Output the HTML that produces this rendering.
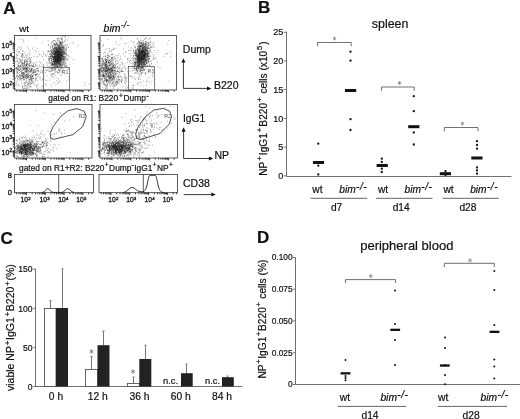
<!DOCTYPE html>
<html><head><meta charset="utf-8"><title>Figure</title>
<style>
html,body{margin:0;padding:0;background:#fff;}
body{width:520px;height:419px;overflow:hidden;font-family:"Liberation Sans",sans-serif;}
svg{display:block;will-change:transform;font-family:"Liberation Sans",sans-serif;}
text{fill:#111;stroke:#111;stroke-width:0.2px;}
</style></head><body>
<svg width="520" height="419" viewBox="0 0 520 419">
<rect width="520" height="419" fill="#fff"/>

<g id="panelA">
<text x="3.2" y="14.2" font-size="17" font-weight="bold">A</text>
<text x="19.3" y="31.6" font-size="9.8">wt</text>
<text x="103.6" y="31.6" font-size="10.5" font-style="italic">bim<tspan dy="-3.4" dx="0.3" font-size="8.6" letter-spacing="0.2">-/-</tspan></text>
<path d="M56.7 59.6h0.7M56.8 54.3h0.7M54.3 55.8h0.7M61.5 57.3h0.7M61.2 56.2h0.7M59 56.7h0.7M51.8 63.7h0.7M59.4 58.6h0.7M51.7 47h0.7M54.5 54.1h0.7M58.7 55.3h0.7M59.4 51.2h0.7M58.7 58.1h0.7M55.3 68h0.7M59.5 63h0.7M55.4 52h0.7M56.4 55.8h0.7M59.8 56.8h0.7M56 50.4h0.7M55.8 64.6h0.7M54.8 58.6h0.7M59.1 45.8h0.7M57.8 64.4h0.7M50.5 56.6h0.7M57.2 50.9h0.7M59.3 54.9h0.7M52.5 63.3h0.7M59.9 61.2h0.7M62.6 56.4h0.7M58 47.4h0.7M59.8 51.2h0.7M56 48.4h0.7M54.2 53.8h0.7M62.1 41.2h0.7M52.5 59.5h0.7M62.7 57.8h0.7M51 42.2h0.7M58.9 50.8h0.7M53.7 63.8h0.7M61.5 55.6h0.7M58.5 58.5h0.7M63.2 57.9h0.7M59.4 58.9h0.7M52.1 66.4h0.7M60.9 58.2h0.7M50.7 54.5h0.7M60.5 43.2h0.7M57 62.8h0.7M53 68.1h0.7M59.5 54.3h0.7M58.7 59.8h0.7M58 63.2h0.7M55.3 54.2h0.7M61.2 54.8h0.7M54.5 63.3h0.7M62.7 51.2h0.7M52.8 57h0.7M57.1 54.3h0.7M62.5 47.5h0.7M62 46.1h0.7M54.8 61.1h0.7M61.6 60.1h0.7M58.8 56.5h0.7M58.1 59.5h0.7M57 58h0.7M59.6 55.2h0.7M60.3 58.7h0.7M64.6 55.4h0.7M56.1 54.2h0.7M57.6 62h0.7M56.4 58.9h0.7M64 37h0.7M53.7 59.1h0.7M59 57h0.7M56.1 60.8h0.7M58.6 52.3h0.7M66.1 55.1h0.7M55.7 56.1h0.7M56.8 55.9h0.7M48.1 56.5h0.7M61.1 47.1h0.7M57.4 62.3h0.7M60.6 64.5h0.7M51.6 56h0.7M56.4 60.5h0.7M61.4 37.2h0.7M61.4 45.2h0.7M60 45.4h0.7M58.2 63.5h0.7M57.1 57.4h0.7M60.4 55.9h0.7M57.3 66h0.7M61.3 52.7h0.7M67.2 45h0.7M60.8 53.1h0.7M58.1 60.4h0.7M58.4 59.8h0.7M52.3 48.3h0.7M59.8 49h0.7M54 47.8h0.7M62 59.2h0.7M62.8 48h0.7M57.6 48.6h0.7M60.3 65.3h0.7M54.5 67.3h0.7M61.1 53.5h0.7M50.7 67.7h0.7M57.3 52.2h0.7M59 58.1h0.7M62.8 47.4h0.7M61.6 64.1h0.7M62.7 52.9h0.7M55 63.6h0.7M58 56.7h0.7M62.6 52.4h0.7M49.6 56.5h0.7M51.1 63.7h0.7M58.7 51.6h0.7M57.6 61.4h0.7M57.9 64.5h0.7M57.4 62.8h0.7M62.8 64.4h0.7M55.2 62.6h0.7M51 51.5h0.7M50.7 65.5h0.7M53.3 57.5h0.7M56.9 56.1h0.7M55.5 58.3h0.7M63.9 53.9h0.7M59.5 61.8h0.7M56.9 48.1h0.7M55.7 63.7h0.7M51.8 54.3h0.7M61.1 59.8h0.7M57.6 61.2h0.7M58.2 48.2h0.7M52.1 53.9h0.7M60.8 51.1h0.7M54.4 52.2h0.7M52.2 57.3h0.7M53.5 59.9h0.7M49.3 61.2h0.7M55.4 44.3h0.7M60.1 53.3h0.7M49.8 53.3h0.7M58.6 52.7h0.7M60.3 59.8h0.7M59.9 57.2h0.7M62.3 58.5h0.7M59.2 41.9h0.7M60.7 63.3h0.7M56.6 53.4h0.7M64.4 42.1h0.7M59.2 71.1h0.7M54.4 61.7h0.7M64.2 52.7h0.7M59.6 61.1h0.7M54.4 56.6h0.7M58.6 61h0.7M57.5 54.8h0.7M54 55h0.7M60.7 55.5h0.7M54.6 51.7h0.7M66.9 59.9h0.7M59.8 38.4h0.7M59.8 58.3h0.7M63.5 56.5h0.7M57.4 59.5h0.7M50.8 65.2h0.7M58.7 51h0.7M62.2 66h0.7M52.7 53.5h0.7M58.6 56.8h0.7M56.2 50.2h0.7M65 59.9h0.7M53.4 48.9h0.7M63.6 60.1h0.7M64 58.8h0.7M54.5 58.8h0.7M50 54h0.7M57.4 59.5h0.7M55.1 56.2h0.7M59.2 57.8h0.7M59.8 56.5h0.7M56.5 61.5h0.7M57.8 50.6h0.7M55.4 56.8h0.7M57.2 57.2h0.7M57.6 57.1h0.7M57.1 48h0.7M59.1 62.3h0.7M59.1 54.2h0.7M59.2 49.2h0.7M51 58.9h0.7M54.3 62h0.7M53.8 40.4h0.7M54 67.6h0.7M56.3 47.6h0.7M54.9 60.4h0.7M59.3 56.5h0.7M62.8 58.6h0.7M57.5 59.9h0.7M63.4 60.1h0.7M61.2 47.6h0.7M57.1 60.9h0.7M56.6 63.3h0.7M59.7 61.1h0.7M56.9 72.7h0.7M61.9 53h0.7M57.9 72.7h0.7M56.4 62.1h0.7M61 54.7h0.7M53.5 58.8h0.7M58.9 62.8h0.7M60.3 55.1h0.7M60.6 58.4h0.7M58.3 56.1h0.7M56.7 60.8h0.7M53.9 53.3h0.7M57.6 46.5h0.7M56.1 43.6h0.7M55.2 60.6h0.7M59.6 54.9h0.7M56.8 47.1h0.7M64 56.9h0.7M61.4 48.9h0.7M57 44.5h0.7M60.3 61h0.7M51 58.2h0.7M59.8 43.8h0.7M51.2 51.5h0.7M55.4 47.8h0.7M57.7 57.6h0.7M59.8 59.7h0.7M62.9 61.5h0.7M53 54.5h0.7M53.9 50.4h0.7M57.3 56.1h0.7M59.3 45.1h0.7M53.3 57.5h0.7M56.9 54.3h0.7M57.4 51.2h0.7M60.1 57.4h0.7M57.3 51.8h0.7M57 38.6h0.7M54.2 57.5h0.7M52.3 59.3h0.7M58.1 46.9h0.7M56.7 54.3h0.7M59.2 59.3h0.7M57.5 50.5h0.7M57.1 55.8h0.7M60.2 56.9h0.7M55.1 48.2h0.7M56.3 51.7h0.7M53.7 56.7h0.7M55.9 57.3h0.7M59.4 52.6h0.7M65.7 50.9h0.7M61.5 55.3h0.7M61.5 39.2h0.7M55 58.6h0.7M59.7 70.3h0.7M58.7 63.9h0.7M60.3 61.1h0.7M59.4 54.3h0.7M59.4 48.4h0.7M61.7 47.9h0.7M58.5 69.4h0.7M56.8 56.4h0.7M61.7 54.6h0.7M54.8 58.7h0.7M59.6 59.8h0.7M54.9 68.4h0.7M63.4 53.9h0.7M58.5 52.9h0.7M62.5 49.6h0.7M60 52h0.7M55.2 61.6h0.7M62.3 54.2h0.7M55.2 62.1h0.7M57.4 58.1h0.7M62.9 61.3h0.7M55.8 71.5h0.7M57.6 61.1h0.7M55.3 56.6h0.7M51.5 69.9h0.7M62.4 46.3h0.7M52.3 47.5h0.7M61.7 51.5h0.7M57.4 54.1h0.7M57.2 49.1h0.7M57.7 46.7h0.7M57.3 58.1h0.7M59.2 53.9h0.7M54.4 58.2h0.7M55.9 66.8h0.7M60.3 54.2h0.7M56 52.1h0.7M54.3 55h0.7M58.6 58.9h0.7M59.6 68.8h0.7M55.1 57h0.7M67.4 40.2h0.7M55.8 57.8h0.7M58.1 58.4h0.7M56.8 58.7h0.7M57.8 60.9h0.7M51 52.8h0.7M57.6 49.3h0.7M53.9 61.4h0.7M55.3 61h0.7M60.2 57h0.7M59.4 54.7h0.7M52.7 57.7h0.7M59.2 52h0.7M57.3 61h0.7M54.5 61.3h0.7M64.1 50h0.7M58.1 54.8h0.7M63 56h0.7M60.7 50.4h0.7M57.5 56h0.7M51.4 67.7h0.7M60.7 43.5h0.7M60.2 54.2h0.7M59.2 57.8h0.7M52.4 56.6h0.7M62.8 50.3h0.7M54 48.6h0.7M53.3 59.8h0.7M63.5 56.5h0.7M58.5 70.1h0.7M55.8 52.3h0.7M59.4 58.8h0.7M54 49.8h0.7M58.6 57.2h0.7M53 56.4h0.7M55.7 59.7h0.7M57.2 55.6h0.7M56.4 63.3h0.7M62.5 51.8h0.7M60.6 50h0.7M57.9 60.8h0.7M62.9 51.5h0.7M57.3 57.4h0.7M52.4 58.1h0.7M55.2 59.3h0.7M53.6 44.7h0.7M57.7 57.6h0.7M55.7 62.5h0.7M56.6 52.4h0.7M59.3 45.2h0.7M55.2 56.8h0.7M60.6 53.8h0.7M58.7 51.4h0.7M58.7 66.4h0.7M55.2 72.2h0.7M55.3 57h0.7M58.2 62.4h0.7M53.3 44h0.7M59.7 60.3h0.7M59.8 72.2h0.7M58.3 57.4h0.7M60.9 57.2h0.7M63.4 45.8h0.7M60.4 52.5h0.7M60.8 68.7h0.7M57.6 54.4h0.7M55.9 51.2h0.7M55.4 61h0.7M57.7 56.4h0.7M57 62.1h0.7M59.3 54.4h0.7M59.9 54.1h0.7M53.6 66.9h0.7M59.2 49.2h0.7M61.4 56.8h0.7M52.1 68.5h0.7M58.8 61.3h0.7M58.3 54.8h0.7M52.2 64.3h0.7M57.7 54.1h0.7M58.8 56h0.7M60 52.7h0.7M57.5 42.2h0.7M56.1 60.9h0.7M62.3 51.9h0.7M57.2 66.4h0.7M56.5 61.2h0.7M63.5 54h0.7M61.9 49.8h0.7M58.3 55.2h0.7M58 63.2h0.7M66 48.5h0.7M55.6 60h0.7M53.9 60.6h0.7M59.6 53.5h0.7M59.5 45.3h0.7M60.3 45h0.7M55.2 53.3h0.7M56.2 62.1h0.7M57.9 53.3h0.7M59.5 65.5h0.7M57.6 58.4h0.7M61.9 56.1h0.7M53.1 73.8h0.7M65.3 40.2h0.7M57.5 58.8h0.7M61 59.1h0.7M56.6 49.5h0.7M58 62.5h0.7M53.8 50.8h0.7M57.5 43.5h0.7M56.7 53.5h0.7M59.2 50.9h0.7M54.5 54.6h0.7M57.4 51.8h0.7M57.6 60.8h0.7M61.7 65.5h0.7M54.9 54.3h0.7M48.9 71.6h0.7M55.1 56.7h0.7M59.4 46.5h0.7M59.2 55.2h0.7M51.2 60.3h0.7M61.8 42.3h0.7M60.4 56.3h0.7M59.3 58.2h0.7M62.2 52.8h0.7M60.7 52.2h0.7M60.1 49.8h0.7M57.2 67.3h0.7M59.2 54.4h0.7M53.6 52.4h0.7M58.3 61.8h0.7M59.1 58.8h0.7M57.5 64.8h0.7M56.2 53h0.7M60.7 55.2h0.7M56.6 52.6h0.7M56.7 60.4h0.7M58.8 47.7h0.7M59.1 56.6h0.7M54.1 62.3h0.7M56.6 54.2h0.7M60.4 63.5h0.7M55.2 59.7h0.7M54.5 72.1h0.7M55.9 64.4h0.7M55.3 62.1h0.7M65.4 36.6h0.7M56.1 59.8h0.7M57.3 51.8h0.7M65.1 53.7h0.7M51.8 63.7h0.7M51.6 65.7h0.7M55.6 57.7h0.7M62 55.1h0.7M52.7 46.9h0.7M61.7 59.2h0.7M54.7 62.6h0.7M59.3 59.5h0.7M49.7 57h0.7M60.8 59.6h0.7M60.7 38.9h0.7M58.2 59h0.7M66.5 46.5h0.7M56.4 56.7h0.7M60.7 52h0.7M61.6 49.4h0.7M58.5 52.2h0.7M58.2 51.3h0.7M52 65.2h0.7M58.7 52h0.7M58.3 62.1h0.7M54.2 56.6h0.7M59.5 58.7h0.7M56.4 42.8h0.7M62 56.5h0.7M57.6 54.2h0.7M58.5 52.9h0.7M54 52.6h0.7M55.5 52.8h0.7M53.5 61.6h0.7M53 62h0.7M54 59.6h0.7M62.4 55.5h0.7M55 57.3h0.7M58.1 44.6h0.7M55.5 57.9h0.7M56 57.1h0.7M60.2 60h0.7M60.8 58.6h0.7M56.6 56.3h0.7M56.7 54.3h0.7M57 45.1h0.7M56.4 56.3h0.7M54.2 57.1h0.7M59.4 54.3h0.7M64.9 36.4h0.7M56.9 44.5h0.7M61 71.9h0.7M48.8 60.1h0.7M59.4 53.4h0.7M59.5 40.8h0.7M60.6 57.3h0.7M57.7 52.2h0.7M59.8 52h0.7M58.4 52.4h0.7M49.7 58.8h0.7M58.3 60.6h0.7M54.5 56.9h0.7M59.8 56.1h0.7M61.9 67.2h0.7M54.4 44.8h0.7M60.6 64.8h0.7M60.8 60h0.7M55.4 52.2h0.7M60.7 48.9h0.7M51.3 51.9h0.7M66.3 65.1h0.7M55.2 52.2h0.7M58.4 50.8h0.7M62.2 53.8h0.7M53.8 65.9h0.7M55.6 58.2h0.7M57.6 54h0.7M58.7 51.1h0.7M51.1 44.2h0.7M53.2 52.8h0.7M57.5 56.4h0.7M59.5 56h0.7M54.8 52.5h0.7M50.2 57.7h0.7M59.3 58.8h0.7M57.2 55h0.7M60.9 54.9h0.7M60.2 58.8h0.7M58.3 64.2h0.7M55.6 54.4h0.7M54.8 51.9h0.7M63 65.3h0.7M57.7 59.6h0.7M61.7 59.7h0.7M61.8 46.2h0.7M55.4 59.8h0.7M62.6 54.8h0.7M54.6 54.8h0.7M55.3 51.3h0.7M62.9 50h0.7M57.7 70h0.7M61.7 56.6h0.7M55.5 59.5h0.7M63.3 57.9h0.7M62 55h0.7M59.4 54h0.7M59.1 63.8h0.7M52.6 57.5h0.7M58.4 52h0.7M56.5 61.5h0.7M64.6 57.4h0.7M58.7 45.5h0.7M64.3 54h0.7M57.5 48.8h0.7M57.4 49h0.7M57.8 58.9h0.7M57.7 57.8h0.7M54.6 66.4h0.7M55.3 45.1h0.7M56.9 51.3h0.7M54.1 55h0.7M58.6 48h0.7M57.1 65.4h0.7M60 54.1h0.7M58 55.1h0.7M57.4 60.8h0.7M57.3 40.6h0.7M57.5 50.3h0.7M59.9 51.2h0.7M58.1 69.9h0.7M53.9 50.1h0.7M52.7 42.4h0.7M51 60.8h0.7M55.4 44.8h0.7M52.4 61.9h0.7M54.9 54.7h0.7M58.8 64.3h0.7M64.4 60.1h0.7M58.1 57h0.7M63.9 62.9h0.7M56.5 59.4h0.7M58.6 56h0.7M55.8 48.1h0.7M55.7 46.7h0.7M61.9 57.9h0.7M53.4 66.6h0.7M60.7 42.5h0.7M64 58.8h0.7M64.8 45.3h0.7M59.5 58h0.7M58.3 56.8h0.7M61.3 44.9h0.7M53.3 48.6h0.7M55.6 52.8h0.7M58.9 57.2h0.7M57.7 51.6h0.7M56.1 62.7h0.7M60.3 55.6h0.7M56.5 66.5h0.7M55.5 61h0.7M61.6 52.8h0.7M60.5 47.7h0.7M61.1 56h0.7M52 62.4h0.7M54.5 65.5h0.7M55.2 55.8h0.7M58.6 53.5h0.7M58.5 52.1h0.7M60 55.1h0.7M58.3 37.9h0.7M61.7 54.7h0.7M51.4 59h0.7M59.2 62.3h0.7M53.8 67.4h0.7M57 71.7h0.7M57.1 60.6h0.7M56.3 49.3h0.7M61.4 60.4h0.7M63 59.5h0.7M55.6 46h0.7M55.3 52.5h0.7M54.7 60.8h0.7M58.7 53.8h0.7M58.2 54.8h0.7M58.3 60.6h0.7M61 50.3h0.7M52.3 67.2h0.7M58 63h0.7M51.8 56h0.7M57.7 46.6h0.7M55.8 61.4h0.7M61.4 64.9h0.7M54.6 48.1h0.7M59.4 61.4h0.7M58.3 47.3h0.7M60.3 60.1h0.7M59.5 52.1h0.7M58.7 60.7h0.7M55.6 44.8h0.7M58.8 58.7h0.7M57.6 61.7h0.7M55.5 56.2h0.7M56.5 60.1h0.7M63.2 52.3h0.7M64.8 63.2h0.7M60.4 58.8h0.7M63.8 52.5h0.7M57.2 49.3h0.7M59.3 64.1h0.7M59.5 58h0.7M56.9 57.4h0.7M52.6 64.7h0.7M56.2 49.4h0.7M55 51.7h0.7M60.6 61.7h0.7M52.8 63.8h0.7M60.7 51.1h0.7M52.4 53.1h0.7M55.4 59.1h0.7M56.3 43.4h0.7M58.4 45.8h0.7M60.8 47h0.7M55.2 51.4h0.7M55.7 65.1h0.7M60.6 58.8h0.7M58.7 45.6h0.7M55.8 53.1h0.7M54.2 60.6h0.7M55 52.4h0.7M53.9 44.1h0.7M59.7 63.8h0.7M58.2 49.5h0.7M48.1 60.7h0.7M61.9 56.3h0.7M60.8 64.3h0.7M61.5 51.7h0.7M61.3 59.6h0.7M52.2 55.4h0.7M52.6 57.2h0.7M59.6 48.3h0.7M50.4 67.1h0.7M58.9 65h0.7M53 64.6h0.7M64.9 66.2h0.7M56.9 58h0.7M57.1 62.7h0.7M61.2 55.2h0.7M52.8 62.6h0.7M56 60.7h0.7M58.5 66.2h0.7M61.6 51.6h0.7M58.8 66.9h0.7M55.7 59.5h0.7M61.8 62.6h0.7M59.4 46.8h0.7M53.2 59.3h0.7M59 72h0.7M54.6 64.5h0.7M60.3 44.2h0.7M54.7 58.2h0.7M55.9 55.7h0.7M59.2 50.1h0.7M59.2 51.3h0.7M55.7 60.2h0.7M55.6 58.6h0.7M63.2 54.1h0.7M57.1 60.9h0.7M56.3 63.5h0.7M53.1 61.7h0.7M55.8 51.5h0.7M63.8 48.2h0.7M63.7 57.9h0.7M62.7 47.8h0.7M61.8 63.8h0.7M57.2 55.3h0.7M66.2 53.9h0.7M56.1 52.5h0.7M59.2 57.5h0.7M58.2 66.9h0.7M56.5 59.5h0.7M62.7 47.6h0.7M61.2 66.5h0.7M52.9 50.7h0.7M54 45.4h0.7M59.2 43.4h0.7M59.3 64.7h0.7M51.9 56.1h0.7M50.9 63.6h0.7M55 55.3h0.7M57.8 59.5h0.7M56.4 56.6h0.7M55.7 57.5h0.7M53.5 58h0.7M50.8 55.4h0.7M64.3 54h0.7M53.2 59.3h0.7M54.2 46.6h0.7M55 61.7h0.7M58.9 54.9h0.7M54.4 50.2h0.7M62.3 55.8h0.7M54.3 43.6h0.7M52.8 73.8h0.7M53.6 57h0.7M58.3 54.7h0.7M56.6 47.5h0.7M53.9 68.3h0.7M55 62.5h0.7M51.7 56.5h0.7M58.5 62.4h0.7M53.7 61.3h0.7M59 50.7h0.7M59.3 49.6h0.7M54.8 56.9h0.7M48.1 58.9h0.7M54.1 47.9h0.7M56.1 61.5h0.7M56.2 64.7h0.7M53.5 49h0.7M63 56.5h0.7M60.9 49.4h0.7M60.4 56.6h0.7M59.9 55.3h0.7M61.8 50.2h0.7M54.2 47.7h0.7M61.7 49.7h0.7M53.9 51.3h0.7M56 48.4h0.7M56.6 52.3h0.7M55.7 50.5h0.7M57.7 53h0.7M58 57.5h0.7M58.8 41.4h0.7M55.7 51.6h0.7M60.3 44.8h0.7M55.1 55h0.7M56.4 62.9h0.7M56.1 62.8h0.7M52.5 46.2h0.7M61.9 57.2h0.7M59.3 56.2h0.7M59.3 47.5h0.7M60.9 51.3h0.7M61 55.3h0.7M50.7 50.3h0.7M61.5 53.6h0.7M56.2 58.1h0.7M56.1 53h0.7M58 56.8h0.7M62.9 54.3h0.7M64.2 65.2h0.7M63.6 60.6h0.7M58.1 56.7h0.7M57.1 51.5h0.7M57.4 51.9h0.7M63.3 57.3h0.7M56 44.2h0.7M57.4 53.4h0.7M53.8 50.1h0.7M49.7 62.6h0.7M57.4 72.8h0.7M57.5 55.1h0.7M62.7 55h0.7M58.2 53.4h0.7M55.5 66.5h0.7M61.1 65.8h0.7M56.4 56.7h0.7M54.5 63.4h0.7M52.7 61.5h0.7M61.4 63.7h0.7M54.3 64.3h0.7M55.1 52h0.7M53 65.2h0.7M63.4 50h0.7M54.9 54.8h0.7M66.4 59.2h0.7M55.7 45.1h0.7M55.2 64.6h0.7M64.1 51.8h0.7M55.2 53.6h0.7M51 64.4h0.7M53.8 64.3h0.7M51.6 50h0.7M58.6 50.7h0.7M60.3 55h0.7M53.5 61.6h0.7M60.5 42.5h0.7M64 56.8h0.7M60.3 43h0.7M55.1 54.7h0.7M61.4 45.1h0.7M54.5 44h0.7M56.8 58.6h0.7M51.7 54.4h0.7M59.4 65.6h0.7M59.9 53.2h0.7M53.5 51.5h0.7M55.3 57.8h0.7M57.4 66.8h0.7M58.6 48.7h0.7M63 60.1h0.7M58 51.2h0.7M51.1 51.9h0.7M60.8 49.6h0.7M53 59h0.7M58.5 59.6h0.7M59.9 64.2h0.7M54.7 63.4h0.7M54.1 61.8h0.7M58.2 57.3h0.7M61 54.6h0.7M61.5 60.2h0.7M58.1 52.2h0.7M55 53.6h0.7M56.9 56.1h0.7M68 56.2h0.7M60.3 49.4h0.7M55.1 54.9h0.7M58.3 49h0.7M63.2 50.2h0.7M61.4 39.5h0.7M57.6 57.8h0.7M58.3 59.6h0.7M58.6 56.7h0.7M51 53.9h0.7M49.4 63.2h0.7M58.7 54.3h0.7M54.7 53.3h0.7M64.1 64.8h0.7M57.4 64.4h0.7M52 45.6h0.7M55.9 51h0.7M55.6 58h0.7M68.2 47.7h0.7M57.8 57.7h0.7M57.5 62.1h0.7M63.8 45.6h0.7M58.2 54.1h0.7M58.8 45.6h0.7M51.4 43.3h0.7M59.4 56.5h0.7M57.9 40.6h0.7M56.3 51.6h0.7M52.7 51.9h0.7M60 58.6h0.7M57.5 59.4h0.7M55.5 57.3h0.7M57.7 59.5h0.7M57.4 55.2h0.7M57.1 52h0.7M65.4 56.4h0.7M59.1 70.3h0.7M62.5 44.1h0.7M60 60.5h0.7M64.2 62h0.7M60.3 47.4h0.7M54.6 58.9h0.7M59.4 48.7h0.7M56.3 53.9h0.7M57.8 58.1h0.7M56.6 48.4h0.7M61.9 64.7h0.7M57.2 62.8h0.7M59.2 59.7h0.7M59.3 50.4h0.7M59.6 61.8h0.7M54.5 69.9h0.7M64.9 65h0.7M64.6 58.2h0.7M56.4 52.6h0.7M54.8 57.8h0.7M57.5 60.4h0.7M50.5 73.6h0.7M65.6 52.8h0.7M60 58.2h0.7M58.6 54.3h0.7M57.2 50.8h0.7M58.2 55.6h0.7M58.7 50h0.7M57.7 56.3h0.7M59.7 48.3h0.7M59.1 61.8h0.7M59.7 52.8h0.7M55.9 55.1h0.7M60.2 65.1h0.7M57 52.1h0.7M58.9 56.8h0.7M54.4 52.4h0.7M57.2 60.5h0.7M53.4 51h0.7M59.3 47.4h0.7M58 58.1h0.7M57.2 49.6h0.7M57.4 53.9h0.7M58.8 50.1h0.7M61.4 43.7h0.7M57 56.3h0.7M61 50.8h0.7M59.5 51.6h0.7M60.2 66.3h0.7M56.2 59.4h0.7M54.4 63.5h0.7M61.8 54.6h0.7M53.6 60.1h0.7M61.6 61.5h0.7M60.4 43.1h0.7M55.2 66.1h0.7M53.3 64.9h0.7M64.2 58.4h0.7M61.5 52.4h0.7M53.3 57h0.7M56.9 56h0.7M60 54.1h0.7M58.3 58.5h0.7M57.6 67.9h0.7M59.1 56h0.7M56.9 52.2h0.7M62.3 55.2h0.7M53.8 53.8h0.7M57.1 53.3h0.7M61.4 47.1h0.7M59.3 56.3h0.7M53.5 57.9h0.7M57.3 59.4h0.7M56 58.6h0.7M51.8 51.2h0.7M60.3 61.7h0.7M57.6 52.1h0.7M61.4 41h0.7M54.8 61.4h0.7M59.9 48.5h0.7M51 67.9h0.7M58.1 50h0.7M57.8 61.8h0.7M48.5 66.6h0.7M60.2 41.6h0.7M60.3 43.5h0.7M61.6 57.1h0.7M65.5 49.1h0.7M57.6 62.8h0.7M55.4 52.3h0.7M56.3 56h0.7M53.8 60.6h0.7M59.5 55.7h0.7M63.6 51.6h0.7M62.2 50.7h0.7M60.2 42.5h0.7M58.3 54.6h0.7M55.9 52.7h0.7M56.4 51.8h0.7M49.9 55h0.7M55.7 53.3h0.7M53.9 56.5h0.7M60.3 53.3h0.7M55.9 65.4h0.7M61 60.7h0.7M61.6 52.4h0.7M57.1 63.4h0.7M55.7 56h0.7M58.9 57.9h0.7M56.6 62.7h0.7M57 60.9h0.7M61.3 58.9h0.7M60.2 47.5h0.7M53 53.7h0.7M59.3 65.1h0.7M53.3 59.6h0.7M54.6 52.4h0.7M56.6 60.8h0.7M58.3 63.3h0.7M54.2 63.1h0.7M60.9 55.2h0.7M59.3 51.7h0.7M53.8 54.8h0.7M55.4 75.5h0.7M55.9 67.3h0.7M58.3 57.8h0.7M60.2 50h0.7M60.8 57.2h0.7M52.3 61.9h0.7M59.5 58.2h0.7M63.1 51.2h0.7M59.4 60.2h0.7M54.4 64.9h0.7M52.5 49.5h0.7M59.4 48.3h0.7M57.2 45.5h0.7M57.8 48.6h0.7M58.8 45.6h0.7M59.2 53.7h0.7M57.8 55.5h0.7M58.1 47.3h0.7M48.6 59.6h0.7M54.3 54.3h0.7M59.1 42.6h0.7M54.9 53.1h0.7M53.9 59.5h0.7M57.1 50.9h0.7M54.2 62.5h0.7M55.3 60.7h0.7M59.2 43.2h0.7M53.8 57.5h0.7M58.8 60.6h0.7M60.4 61.6h0.7M56.3 55.1h0.7M60.3 52.2h0.7M61.3 44.3h0.7M59.9 54h0.7M50.7 64.9h0.7M58.7 55.7h0.7M53.8 54.4h0.7M62.9 48.7h0.7M45.4 55h0.7M53.4 56.7h0.7M56.2 50.6h0.7M54.7 63.9h0.7M52.6 70.6h0.7M55.7 49.7h0.7M60.4 58.6h0.7M54 62.2h0.7M51.2 52.5h0.7M61.5 52.9h0.7M53 61h0.7M60.8 54.6h0.7M51.3 56.1h0.7M59.1 60.4h0.7M64.1 51.9h0.7M55.9 56.4h0.7M61.8 48.3h0.7M62.2 36.5h0.7M60.4 50.6h0.7M59.2 59.8h0.7M53.5 57h0.7M58.4 59.5h0.7M54.3 50.8h0.7M50.9 75h0.7M56.9 54.8h0.7M52.4 64h0.7M55.7 66h0.7M60.6 55h0.7M60.1 47.9h0.7M56.5 52.7h0.7M53.2 57.8h0.7M57.1 65.5h0.7M45.9 56.1h0.7M54.4 54.2h0.7M59.1 58.1h0.7M57.7 52.9h0.7M59.3 57.7h0.7M51.2 56.7h0.7M52.8 50.2h0.7M58.1 56.2h0.7M58 50.2h0.7M56.9 50.4h0.7M58.9 59.9h0.7M63.7 61.9h0.7M54.8 54.1h0.7M54.3 59.2h0.7M64.5 58h0.7M49.9 50.8h0.7M53.1 61h0.7M57.6 57.9h0.7M63.8 48.3h0.7M54.6 69.8h0.7M58.8 50.5h0.7M50.5 48.8h0.7M49 59.7h0.7M57.8 62.4h0.7M57.1 51.7h0.7M55 69.3h0.7M51.4 59.5h0.7M57.7 60h0.7M56.2 59.8h0.7M60.5 54h0.7M56 55.4h0.7M54.2 55.9h0.7M56.5 57.8h0.7M62.3 62.7h0.7M56 60.5h0.7M58.6 60.5h0.7M57.7 57.7h0.7M56 51.5h0.7M60.7 63.2h0.7M59.9 57.9h0.7M58.5 52.7h0.7M51.4 62.6h0.7M58.3 52.2h0.7M54.2 65.5h0.7M51.3 69.8h0.7M59.8 70.5h0.7M55.1 56.8h0.7M55.8 57.7h0.7M56.9 51.4h0.7M61.4 49.5h0.7M55.8 60.3h0.7M55.7 53.9h0.7M58.8 53.2h0.7M53.2 57h0.7M56.8 67.3h0.7M51 64.7h0.7M52.9 52.8h0.7M55.6 58.4h0.7M62.8 71.7h0.7M53.8 68h0.7M63.6 63.3h0.7M53 64.1h0.7M57 59.2h0.7M56 62h0.7M64.3 66.2h0.7M56.4 65h0.7M66.3 47.6h0.7M66.4 44h0.7M60.9 61.3h0.7M66.5 58.5h0.7M54.7 48.8h0.7M50.1 62.9h0.7M56.2 49.5h0.7M60.8 49.1h0.7M55 51.9h0.7M67.5 69.2h0.7M56.7 41.9h0.7M59.3 56.6h0.7M59.7 61.1h0.7M55.7 64.3h0.7M62.6 57.9h0.7M55.2 51.7h0.7M61.8 46.1h0.7M56.6 49.3h0.7M49.2 61.4h0.7M57.4 56.3h0.7M62.8 42.6h0.7M57.2 58.6h0.7M62.6 46.2h0.7M61.9 58h0.7M65.7 66.2h0.7M60.9 75.3h0.7M57.6 52.2h0.7M55.6 47.5h0.7M57.4 39.1h0.7M57.1 59.8h0.7M63.5 52.9h0.7M65.9 50.1h0.7M56.8 39.1h0.7M53 48.9h0.7M66.4 60.7h0.7M51.1 60.7h0.7M60.4 53.9h0.7M57.7 53.3h0.7M54.4 40.4h0.7M57.1 67.3h0.7M66 53.6h0.7M53.2 54.1h0.7M62.9 59.1h0.7M54.2 59.2h0.7M56.4 60.5h0.7M55.2 43.1h0.7M57.9 62.7h0.7M51.1 55.1h0.7M62.7 52.7h0.7M53.8 73.8h0.7M62.5 65h0.7M52.1 70.3h0.7M47.9 51.5h0.7M61.9 67.7h0.7M52.2 50.2h0.7M58.7 39.1h0.7M61.3 60.9h0.7M55 60.7h0.7M62.1 58.7h0.7M60.6 69.2h0.7M54.8 57.4h0.7M54.6 65h0.7M55.2 60.1h0.7M58.4 56.6h0.7M67.6 55.3h0.7M65.8 63.2h0.7M65.3 54.6h0.7M63 62.6h0.7M54 58.3h0.7M56.9 55.7h0.7M65.2 49.7h0.7M47.8 40.9h0.7M55 50.4h0.7M57.7 60.9h0.7M67.8 58.7h0.7M60.3 49.6h0.7M61 67.8h0.7M65.4 39h0.7M62.8 69.7h0.7M62.4 43h0.7M55.8 61.1h0.7M60 49h0.7M52.5 64.4h0.7M49.9 68.4h0.7M57.7 58.6h0.7M49.9 50.8h0.7M61.6 43.3h0.7M69.6 43.8h0.7M50.5 56.4h0.7M60.4 62.3h0.7M55.5 54.2h0.7M56.2 51h0.7M42.7 64.3h0.7M59 57.4h0.7M54 58.2h0.7M57.5 55.3h0.7M64 41.1h0.7M59.1 46.8h0.7M55.8 69h0.7M51.4 55.1h0.7M54.2 64.2h0.7M52 41.5h0.7M60.6 52.9h0.7M55.8 65.3h0.7M52.5 52.8h0.7M58.5 59.6h0.7M54.6 64.9h0.7M70.5 52.5h0.7M68.4 37.8h0.7M65.7 53h0.7M58.4 53.1h0.7M53.9 45h0.7M55.3 67.2h0.7M64.2 53h0.7M54.6 49.9h0.7M50.7 71.6h0.7M61.4 57h0.7M54.8 47.2h0.7M65.2 62.7h0.7M52.1 64.5h0.7M51.2 61.5h0.7M52.1 52.4h0.7M60.5 59.7h0.7M63.4 48.8h0.7M66.7 67.6h0.7M57.5 60h0.7M53.1 54.7h0.7M50 56.8h0.7M58.7 67.6h0.7M63.1 63h0.7M55.5 54.1h0.7M55.6 57.9h0.7M46.5 62.7h0.7M48.6 51.5h0.7M57.7 51.6h0.7M67.2 55.2h0.7M66.7 66.1h0.7M54.7 59.5h0.7M65.1 53.1h0.7M58.1 51.2h0.7M57.9 52.9h0.7M58.1 64.7h0.7M65.6 57.2h0.7M58.8 63.4h0.7M55.9 46.9h0.7M64 47.9h0.7M63 47.7h0.7M68.1 47h0.7M62.5 69h0.7M52.1 68.8h0.7M52.9 40.8h0.7M61.8 62.1h0.7M57.3 53.4h0.7M55.4 53.5h0.7M47.3 51.1h0.7M68 69.4h0.7M55.5 49.8h0.7M59.9 65.2h0.7M61.8 45.9h0.7M58.5 57.2h0.7M65.9 66.3h0.7M60.6 66.5h0.7M55.3 69.3h0.7M55.1 59.4h0.7M62.9 48.1h0.7M53.6 40.8h0.7M58.5 55.5h0.7M55.7 60.3h0.7M45.4 55.8h0.7M58.1 53.7h0.7M62.2 71.1h0.7M55 47.9h0.7M54.1 56.8h0.7M61 48.6h0.7M63.4 47.1h0.7M62.4 59.7h0.7M60.3 74.6h0.7M56.1 54.6h0.7M60.3 63.5h0.7M49.9 58.4h0.7M53.3 61.4h0.7M65.5 56.4h0.7M57 57.6h0.7M40.6 62.7h0.7M60.8 57.4h0.7M55.3 49.7h0.7M56.6 66.5h0.7M57 67.6h0.7M42.8 52h0.7M59.2 55.9h0.7M48 50.3h0.7M64.8 44.8h0.7M51.9 46.5h0.7M54.4 61.6h0.7M61 38.5h0.7M66 50.9h0.7M54.2 70.4h0.7M57.1 45.3h0.7M53.9 49.7h0.7M51.8 53.1h0.7M62.7 59h0.7M49.6 80.1h0.7M51.9 57h0.7M57.8 62.6h0.7M55.7 59.9h0.7M69.7 56.8h0.7M51.4 58.8h0.7M53 52.8h0.7M58.7 58.9h0.7M56 63.3h0.7M56.5 44.7h0.7M62.7 52.9h0.7M64.6 50.3h0.7M60.9 58.7h0.7M42.1 43.1h0.7M51.2 68.2h0.7M46.7 63.9h0.7M63.9 60.3h0.7M61.5 51.7h0.7M57.5 57.9h0.7M60 62.1h0.7M56.4 49.9h0.7M54.4 59.6h0.7M48 45.2h0.7M55.2 51.2h0.7M55.6 53.8h0.7M62.1 38.9h0.7M55.8 60.1h0.7M60.4 66.3h0.7M63.7 46.9h0.7M61.3 53.1h0.7M53 69.3h0.7M54 48.6h0.7M55.2 48.6h0.7M63.4 59.3h0.7M65.7 59.6h0.7M54.1 65.1h0.7M53.8 52h0.7M56.6 56.3h0.7M64.5 50.8h0.7M59.6 55.8h0.7M50.3 46.5h0.7M56.3 59.5h0.7M59.5 60.2h0.7M57.9 52.1h0.7M60.1 47.3h0.7M49.8 53.1h0.7M49.3 51.5h0.7M53.3 51.2h0.7M57.3 49.1h0.7M55.2 41.2h0.7M58.4 48.4h0.7M53 58.1h0.7M43.5 52.9h0.7M58.1 56.9h0.7M48.9 58h0.7M58.5 47.6h0.7M61.9 55.6h0.7M57.7 52.1h0.7M27.4 73.6h0.7M31.1 77.2h0.7M20.1 69.4h0.7M29.8 70.7h0.7M26.4 76.5h0.7M22.9 54.1h0.7M24.8 73.8h0.7M24.9 66.5h0.7M31.6 72.8h0.7M20.1 65.6h0.7M26.3 64.3h0.7M17.7 85.6h0.7M32.2 82h0.7M32.6 78.6h0.7M31.8 77.6h0.7M32.6 70.4h0.7M24.8 78.1h0.7M23.5 80.2h0.7M24.5 77.4h0.7M24.5 60.9h0.7M25.8 82.4h0.7M31.2 86.8h0.7M27.5 68.3h0.7M24.1 57.4h0.7M22.8 78.6h0.7M29.2 83.4h0.7M18.2 65.6h0.7M27.4 88.6h0.7M16.8 80.7h0.7M26.7 68.9h0.7M37.8 56.2h0.7M23.6 73.6h0.7M37.4 89h0.7M38.3 76.5h0.7M30.2 83.9h0.7M27.2 75.5h0.7M22.8 68.6h0.7M16.2 84.9h0.7M21.2 55.5h0.7M25.7 72.2h0.7M25.1 86.1h0.7M23.3 69.8h0.7M19.3 70.7h0.7M21.2 72.9h0.7M43.7 79.9h0.7M18.6 85.4h0.7M29.5 79.6h0.7M28.5 79.4h0.7M28.3 83.8h0.7M30.4 83.9h0.7M20.8 71.2h0.7M19.4 78.2h0.7M29.3 69.7h0.7M31.8 65.4h0.7M23.4 76.7h0.7M23.8 74.9h0.7M31.5 76.3h0.7M17.1 75.7h0.7M23.4 72.7h0.7M20.4 60.6h0.7M16.1 67.4h0.7M17.2 49.6h0.7M31.3 64.9h0.7M19.4 74.9h0.7M19.1 75.8h0.7M21 73.6h0.7M24.7 72.2h0.7M23.7 82.7h0.7M20.5 75.2h0.7M25 75.9h0.7M30.3 62.1h0.7M25.7 71.1h0.7M22 65h0.7M19 62.9h0.7M34.8 74.7h0.7M28.7 65.7h0.7M24.9 83.2h0.7M23.7 64.3h0.7M22.5 64h0.7M15.2 68.1h0.7M21.5 65.2h0.7M18.4 63.5h0.7M25.5 83h0.7M22.7 88.7h0.7M16.7 69h0.7M24.6 76.4h0.7M31.2 69.5h0.7M16.1 68.6h0.7M25.9 67.1h0.7M29.7 86.3h0.7M30.4 58.9h0.7M25.3 70.6h0.7M25.4 68.7h0.7M26.8 77.6h0.7M28.9 77.6h0.7M26.6 63.6h0.7M21.3 72.3h0.7M21.6 63.4h0.7M24.2 67.6h0.7M21.4 64.6h0.7M19.3 70.1h0.7M19.9 76.2h0.7M23.1 72.8h0.7M26.6 82.3h0.7M27.8 74.7h0.7M23 65.6h0.7M21.8 76.7h0.7M25.4 69.4h0.7M15.6 58.2h0.7M26 80.3h0.7M26.4 62.1h0.7M22.7 73.4h0.7M18.2 73.2h0.7M22.7 65.3h0.7M16.1 76.3h0.7M26.3 65.8h0.7M17.6 77.2h0.7M27.8 70.6h0.7M34.1 72.3h0.7M17.3 78.7h0.7M22.8 74.3h0.7M24.2 64.4h0.7M16.5 68.7h0.7M32.9 66.5h0.7M32.6 75.8h0.7M17 72.3h0.7M27.6 66h0.7M17 73.6h0.7M18.9 59.4h0.7M22.5 72.9h0.7M20.5 62.1h0.7M25.3 59h0.7M27.4 76.6h0.7M34.6 81.3h0.7M26.2 74.6h0.7M24.2 61.9h0.7M33.2 78.3h0.7M22.2 62.8h0.7M33.4 78.4h0.7M16.5 75.3h0.7M36 74.8h0.7M26.5 69.5h0.7M20 79.2h0.7M43.4 77.7h0.7M23.2 77.8h0.7M22.1 77.1h0.7M29.2 65.6h0.7M17.2 69.8h0.7M29.3 75.4h0.7M31.8 63.5h0.7M27.1 68h0.7M24.6 74.6h0.7M17.9 68.8h0.7M16.7 72.2h0.7M18.6 66.9h0.7M25.4 67.4h0.7M31.2 68.9h0.7M29.4 75.5h0.7M17.5 68.7h0.7M18.7 68h0.7M22.3 85.4h0.7M21.4 83.3h0.7M26.8 62.8h0.7M30.5 76.6h0.7M22.7 69.8h0.7M25.6 70.1h0.7M20.6 68.4h0.7M31.4 69.1h0.7M26.4 63.8h0.7M19.5 60.5h0.7M22.8 76.9h0.7M25.9 68.7h0.7M27.8 70.3h0.7M26.3 74.7h0.7M27.4 54h0.7M15.8 75.9h0.7M23.3 88.9h0.7M22.5 67.5h0.7M33.4 78.5h0.7M35.9 78.8h0.7M22.7 77.2h0.7M19 67.4h0.7M20.5 69.5h0.7M28.9 69.6h0.7M26 68.7h0.7M29.6 52.5h0.7M22.7 73h0.7M17.2 78h0.7M25.4 82h0.7M30 78.3h0.7M23.1 63.5h0.7M22.6 68.2h0.7M25.6 68.9h0.7M43.2 64.6h0.7M31.4 70.3h0.7M22.5 78.6h0.7M24 62.8h0.7M26.6 71.2h0.7M17.4 64.7h0.7M27 75h0.7M22.2 88h0.7M26.6 68h0.7M25.5 71.4h0.7M15.3 85.5h0.7M22.8 69.6h0.7M20.5 78.6h0.7M24.2 85h0.7M28.9 85.7h0.7M23.3 74.7h0.7M21.3 70.1h0.7M18 65.6h0.7M31.6 75.9h0.7M31.7 80.4h0.7M29.8 81h0.7M20.2 77.1h0.7M22 67.5h0.7M17.9 83.6h0.7M29.2 66.9h0.7M25.7 75.2h0.7M26.4 69.9h0.7M15.9 70.3h0.7M29.4 79.3h0.7M28.1 81.3h0.7M17.8 70.2h0.7M26.1 80.1h0.7M25 76.2h0.7M24.8 88.1h0.7M39.5 77.6h0.7M25.4 85.3h0.7M26.9 77.8h0.7M30.4 75.1h0.7M18.6 69.9h0.7M26.1 70.4h0.7M19.8 68.3h0.7M23.4 69.1h0.7M24.2 82.7h0.7M25.9 72.2h0.7M16.7 62.1h0.7M26.4 66h0.7M26.7 64.6h0.7M24.8 71.7h0.7M30.2 70.6h0.7M21.7 73.3h0.7M24.3 84.8h0.7M22.4 67.6h0.7M22 75.1h0.7M25.5 77.6h0.7M15.3 88.6h0.7M35.5 74.6h0.7M16.4 71.3h0.7M26.6 55.8h0.7M24.1 60.9h0.7M26.9 83.1h0.7M30.5 62.2h0.7M32.6 81h0.7M21.7 75.2h0.7M33.5 71.8h0.7M23.9 67.8h0.7M31.2 57.5h0.7M32.9 66.9h0.7M29.8 61.2h0.7M18.1 66.1h0.7M29.2 61h0.7M27.8 68.1h0.7M31.8 71.6h0.7M27 71.5h0.7M35.2 72h0.7M23.8 86.9h0.7M24.5 77.3h0.7M19.4 72.4h0.7M20 59.7h0.7M15.1 78.4h0.7M26.7 61.2h0.7M35.3 69.5h0.7M21.7 73.3h0.7M16.9 58.1h0.7M19.3 79.8h0.7M30 61.5h0.7M31.5 74.1h0.7M27.1 73.2h0.7M26.6 65.1h0.7M18.3 65.3h0.7M21.7 76.1h0.7M16.4 82.2h0.7M20 66.6h0.7M28.4 76.4h0.7M21.9 63.4h0.7M17.7 58.4h0.7M31.2 81.9h0.7M35.7 78.6h0.7M26.1 78.2h0.7M30 71.5h0.7M26.2 88.8h0.7M18 76.2h0.7M31.4 71.3h0.7M28.2 72.7h0.7M25.9 68.4h0.7M23.8 71.9h0.7M24 79.3h0.7M30.6 79.5h0.7M29.1 66.1h0.7M31.6 66.7h0.7M32.1 79h0.7M17.8 79.3h0.7M19.7 65.3h0.7M30.4 68.5h0.7M35.6 80.1h0.7M20.6 62h0.7M32.1 66h0.7M24 69.9h0.7M22.4 75.4h0.7M37.1 70.4h0.7M29.3 81.5h0.7M22.2 70.4h0.7M15.6 78.1h0.7M20.7 66.2h0.7M24.4 65.6h0.7M17.5 68.1h0.7M33.3 72.7h0.7M27.3 61.7h0.7M21.5 59.8h0.7M23.3 76.4h0.7M25.6 65.4h0.7M29 80.5h0.7M26.8 69.4h0.7M23.7 67.1h0.7M23.2 74.2h0.7M22.1 78.9h0.7M40.3 71.9h0.7M26.2 78.8h0.7M28 71.2h0.7M21 78.9h0.7M27.9 76.8h0.7M19 75.5h0.7M29 71.8h0.7M16.6 59.9h0.7M22.5 75.8h0.7M24.3 63.3h0.7M24.1 65.7h0.7M18.7 69.5h0.7M20.6 66.7h0.7M24.3 69.8h0.7M27.9 64h0.7M23.5 77.7h0.7M31.4 78h0.7M24.2 60.3h0.7M28.3 77.4h0.7M17.4 61.4h0.7M25 64.5h0.7M34 69.7h0.7M20.5 77.7h0.7M26.1 65.7h0.7M29.2 87.9h0.7M16.3 68.2h0.7M17.2 55.6h0.7M27.9 78.3h0.7M30.1 76.8h0.7M19.8 62h0.7M17 76.1h0.7M22.1 86.5h0.7M27 58.2h0.7M29.6 82.9h0.7M24.2 62.8h0.7M35.2 64.7h0.7M23.5 57.3h0.7M16.1 57.1h0.7M30.9 82.7h0.7M21.4 61h0.7M23.6 74.8h0.7M23.4 77.2h0.7M24.5 75.5h0.7M16.1 51h0.7M26 65.5h0.7M23.2 68.9h0.7M27 66.8h0.7M33.2 74.5h0.7M27.4 77.6h0.7M30.6 76.7h0.7M35.8 78.5h0.7M27.6 76.5h0.7M19.9 65.8h0.7M19.9 79.9h0.7M26.3 86.2h0.7M27.2 87.3h0.7M26.9 63.6h0.7M35.1 77.3h0.7M31.6 75.5h0.7M21.9 72.8h0.7M16.9 61.1h0.7M18.3 66.6h0.7M15.4 69.1h0.7M25.9 88.1h0.7M35.7 74.5h0.7M29.6 71.7h0.7M26.5 72.4h0.7M20.6 71.7h0.7M22.2 63.2h0.7M21.7 75.7h0.7M19.7 74.6h0.7M27.6 84.9h0.7M17.1 69.4h0.7M27.3 84.4h0.7M25.7 78.2h0.7M34.6 72.4h0.7M37.8 69.8h0.7M22.2 59.2h0.7M28.1 75h0.7M36.9 76.5h0.7M22.4 60.7h0.7M23.5 79.2h0.7M28.7 82.7h0.7M29.5 73h0.7M27.9 74.3h0.7M15.5 83.1h0.7M26.4 64.5h0.7M26.5 74.8h0.7M30.4 84.8h0.7M33.8 67.1h0.7M26.2 75.2h0.7M16.9 66.6h0.7M32.1 76.4h0.7M53.9 78.2h0.7M23.4 41.5h0.7M41.7 70.1h0.7M28.8 57.4h0.7M38 51.8h0.7M31.2 69.6h0.7M33.3 82.6h0.7M28.9 68.7h0.7M39.3 54.7h0.7M26.8 67.7h0.7M40.4 62.8h0.7M38.8 74.6h0.7M32.3 76.2h0.7M39 64.9h0.7M41.7 80h0.7M35.2 74.5h0.7M15.9 67.6h0.7M18.7 52.2h0.7M26.2 68.3h0.7M29.4 64.4h0.7M19.1 66.7h0.7M21.9 50.9h0.7M31 83.5h0.7M25.6 55.6h0.7M26.8 64.8h0.7M31.5 78.8h0.7M34.9 50.5h0.7M17.9 51.5h0.7M34.7 70.5h0.7M49.6 71.1h0.7M33.4 69.8h0.7M33.1 84.3h0.7M44.2 65.9h0.7M37.5 66.3h0.7M31.2 70h0.7M30.2 63.2h0.7M47.1 70.3h0.7M37.7 87.9h0.7M36.9 80.8h0.7M45.2 84h0.7M48.8 58.7h0.7M51.5 74.7h0.7M33.2 70.6h0.7M21.2 62.9h0.7M28.9 68.5h0.7M29.9 65.7h0.7M39.6 54.1h0.7M24.6 67.8h0.7M25.6 60.9h0.7M25.2 68.7h0.7M43.7 70.2h0.7M27.1 70.8h0.7M27.3 46.9h0.7M32.9 64.9h0.7M23.7 72.7h0.7M30.5 62.2h0.7M30.2 66.8h0.7M34.8 71.8h0.7M24.7 53.2h0.7M18 62.9h0.7M17.4 72.1h0.7M15.4 44.8h0.7M27.9 48.7h0.7M47.9 63h0.7M29.4 65.3h0.7M21 46.8h0.7M29.8 76.8h0.7M24.3 73.9h0.7M39.9 77.3h0.7M45.9 70.9h0.7M47 65.7h0.7M48.3 44.7h0.7M30.1 59.6h0.7M30 78.8h0.7M37.9 71.4h0.7M48.7 58.1h0.7M21 81.2h0.7M33.6 47.3h0.7M33.7 56.7h0.7M46.3 84.9h0.7M24 79.8h0.7M20.8 74.9h0.7M36.4 68.6h0.7M19.4 39.3h0.7M36.4 73.8h0.7M24.4 88.5h0.7M38.5 71.2h0.7M35.3 79.7h0.7M23.5 51.2h0.7M29.5 50.3h0.7M30.1 76.1h0.7M46.6 75.8h0.7M32.2 76.5h0.7M45.4 69.3h0.7M16.5 55.6h0.7M16.2 54.5h0.7M28.7 71.2h0.7M31.7 69.2h0.7M26.1 71.3h0.7M39.7 78.9h0.7M46.5 69.9h0.7M27.2 85h0.7M32.2 73h0.7M26.3 77.1h0.7M25.6 56.1h0.7M29.3 63.2h0.7M39.2 66.8h0.7M31.4 66.1h0.7M33.7 62.5h0.7M42.2 56.7h0.7M25.8 59.3h0.7M37.1 70.6h0.7M35.3 66.1h0.7M22.1 53.9h0.7M26.3 61.3h0.7M33.1 72.6h0.7M40.7 70.1h0.7M21.8 54.4h0.7M30.7 72h0.7M51.4 76.3h0.7M18.5 77.2h0.7M42.5 85.9h0.7M29.9 78h0.7M24.7 65.7h0.7M30.2 86.8h0.7M27.6 77.3h0.7M30.7 60.8h0.7M32.7 75.7h0.7M22.2 72.3h0.7M22.2 56.4h0.7M32.4 66.3h0.7M19.2 47.7h0.7M30.3 70.6h0.7M24.9 68.5h0.7M34.6 72.3h0.7M23.3 66.8h0.7M31.4 79.7h0.7M33 71.6h0.7M22 74.7h0.7M42.9 66.7h0.7M37 73.3h0.7M29.5 54.4h0.7M49.3 54.2h0.7M33.3 65.1h0.7M42.6 67.3h0.7M30.4 74.5h0.7M35 64.1h0.7M37.5 74.4h0.7M40.9 65.9h0.7M29.5 63.7h0.7M20.8 67.9h0.7M34.5 84.2h0.7M26.4 71h0.7M42.5 70.6h0.7M30.7 69.6h0.7M22.4 55.4h0.7M42.3 73.5h0.7M29.2 54.8h0.7M31.3 80.7h0.7M17.4 54.9h0.7M42.2 86.6h0.7M47 67.3h0.7M36.6 62.1h0.7M35.7 65.9h0.7M32.1 82.7h0.7M33.7 66.6h0.7M30.6 71h0.7M24.4 68.5h0.7M36.6 86.3h0.7M16.5 73.1h0.7M56.7 78h0.7M31.3 80.3h0.7M24.4 61.3h0.7M33.7 63h0.7M42.1 71.6h0.7M25.1 76.2h0.7M21 78.3h0.7M40.5 72.6h0.7M40.8 88h0.7M45 72.5h0.7M29.4 79.4h0.7M35.3 75.5h0.7M33.5 73.7h0.7M15.6 61.8h0.7M32.8 66.5h0.7M30.7 74.5h0.7M19.6 59h0.7M18.5 46.9h0.7M38.4 68.3h0.7M40.5 67.3h0.7M53.1 82.4h0.7M31.6 69.7h0.7M27.8 75.7h0.7M51.8 70.1h0.7M18.2 70.6h0.7M41.6 56h0.7M22.5 55.4h0.7M36.1 75.1h0.7M22 53.9h0.7M37.4 48.9h0.7M37 68.5h0.7M50.9 84.6h0.7M23.7 63.3h0.7M27 59.6h0.7M30.9 78.3h0.7M46.2 80.5h0.7M21.2 57h0.7M20.7 48.6h0.7M42.5 72.5h0.7M22.4 50.9h0.7M25.8 61.5h0.7M48.7 68.8h0.7M31.3 79.4h0.7M37.2 68.3h0.7M36.5 65.5h0.7M29 57.8h0.7M20.3 49.8h0.7M35.4 75h0.7M31.9 76.6h0.7M35.8 71h0.7M20.4 71.2h0.7M42.8 78.4h0.7M43.5 67.2h0.7M19.4 77.7h0.7M23.7 68.6h0.7M27.9 67.6h0.7M27.1 61.6h0.7M32.2 48.8h0.7M20.2 53.5h0.7M22 39.4h0.7M36.2 86.7h0.7M27.3 74.9h0.7M36.5 57.1h0.7M43.1 54.6h0.7M23.8 62.4h0.7M43.5 73.3h0.7M28.7 59.3h0.7M31 68.7h0.7M37.9 84.7h0.7M37.9 70.6h0.7M28.4 84h0.7M32.2 68.5h0.7M36.1 68.7h0.7M23.2 76.9h0.7M25.1 76.4h0.7M21.6 66.5h0.7M34.3 70.8h0.7M32.5 72.7h0.7M17.9 53h0.7M28.4 86.1h0.7M28.7 58.1h0.7M22.9 66.2h0.7M42.7 66h0.7M36 71.7h0.7M26.2 57.2h0.7M28.4 60.1h0.7M35.8 51.7h0.7M42.1 79.4h0.7M36.2 85.2h0.7M60.7 68h0.7M56.4 80.6h0.7M50.7 71.4h0.7M59.4 81h0.7M52.7 76.6h0.7M52 74.7h0.7M55.6 84.3h0.7M43.4 76h0.7M68.6 79.9h0.7M57.2 82.9h0.7M48.2 70.9h0.7M43.1 69.5h0.7M57.9 83h0.7M52.8 74h0.7M59.2 81.6h0.7M58 66.9h0.7M51.8 63.2h0.7M57.9 73h0.7M50.9 86.8h0.7M66.3 80.8h0.7M58.2 79h0.7M51.4 77.7h0.7M84.9 82.6h0.7M49.9 46.9h0.7M24.4 63.1h0.7M54.3 55.5h0.7M68.9 64.3h0.7M73.3 42.1h0.7M20.7 56.8h0.7M51.5 49.8h0.7M65.3 48.1h0.7M39.2 61.5h0.7M68.6 76.9h0.7M43.2 60h0.7M84.6 85.5h0.7M61.6 42h0.7M49.5 69.9h0.7M36.3 38.5h0.7M88.6 84.3h0.7M25.1 61h0.7M61.6 52.2h0.7M20.6 75.9h0.7M72.9 59.5h0.7M21.9 57.2h0.7M22.5 87.1h0.7M19.3 51.6h0.7M72.7 43.6h0.7M23.4 40.2h0.7M27.7 64.4h0.7M77.6 45.4h0.7M28.4 76.7h0.7M47.2 54.2h0.7" stroke="#222" stroke-width="0.68" stroke-opacity="0.75" fill="none"/>
<path d="M14.5 88.3h-1.7M14.5 87h-1.7M14.5 86h-1.7M14.5 85.1h-1.7M14.5 84.3h-1.7M14.5 83.6h-1.7M14.5 83h-2.4M14.5 79h-1.7M14.5 76.7h-1.7M14.5 75h-1.7M14.5 73.7h-1.7M14.5 72.7h-1.7M14.5 71.8h-1.7M14.5 71h-1.7M14.5 70.3h-1.7M14.5 69.7h-2.4M14.5 65.7h-1.7M14.5 63.4h-1.7M14.5 61.7h-1.7M14.5 60.4h-1.7M14.5 59.4h-1.7M14.5 58.5h-1.7M14.5 57.7h-1.7M14.5 57h-1.7M14.5 56.4h-2.4M14.5 52.4h-1.7M14.5 50.1h-1.7M14.5 48.4h-1.7M14.5 47.1h-1.7M14.5 46.1h-1.7M14.5 45.2h-1.7M14.5 44.4h-1.7M14.5 43.7h-1.7M14.5 43.1h-2.4M16.7 90v1.6M19 90v1.6M20.8 90v1.6M22.3 90v1.6M23.6 90v1.6M24.7 90v1.6M25.6 90v1.6M26.5 90v2.3M32.2 90v1.6M35.5 90v1.6M37.8 90v1.6M39.6 90v1.6M41.1 90v1.6M42.4 90v1.6M43.5 90v1.6M44.4 90v1.6M45.3 90v2.3M51 90v1.6M54.3 90v1.6M56.6 90v1.6M58.4 90v1.6M59.9 90v1.6M61.2 90v1.6M62.3 90v1.6M63.2 90v1.6M64.1 90v2.3M69.8 90v1.6M73.1 90v1.6M75.4 90v1.6M77.2 90v1.6M78.7 90v1.6M80 90v1.6M81.1 90v1.6M82 90v1.6M82.9 90v2.3M88.6 90v1.6" stroke="#111" stroke-width="0.85" fill="none"/>
<rect x="14.5" y="35.5" width="76.5" height="54.5" fill="none" stroke="#333" stroke-width="0.8"/>
<path d="M143.2 58.5h0.7M143.1 54.6h0.7M140.9 66.6h0.7M147.4 44.5h0.7M132.4 62.8h0.7M138.9 53.9h0.7M135.7 60.8h0.7M141.1 52.7h0.7M144.4 69.7h0.7M146.5 60.9h0.7M139.9 60.8h0.7M141.2 63.2h0.7M143.3 54.9h0.7M143.2 50.7h0.7M144.1 64.1h0.7M140 60h0.7M135.5 64.5h0.7M144.4 48.3h0.7M147.4 53.9h0.7M135.2 50.3h0.7M144.4 52.9h0.7M145.2 44.6h0.7M141 62.2h0.7M138.9 61.3h0.7M140 58.7h0.7M142.4 69.3h0.7M137 62.8h0.7M145.9 46.9h0.7M141.6 70.2h0.7M140.5 45.8h0.7M142.4 51h0.7M139.3 51.7h0.7M142.3 52.6h0.7M138.1 56h0.7M142.7 50h0.7M145.2 43.9h0.7M142.7 52.9h0.7M146.8 49.5h0.7M139 48.7h0.7M148.2 56.7h0.7M137.5 55.7h0.7M138 67h0.7M142.8 42.7h0.7M142 61.3h0.7M141.3 58.9h0.7M140.9 57.5h0.7M142 51.3h0.7M142.5 56.5h0.7M141.2 51.8h0.7M137.8 59.2h0.7M144.2 39.7h0.7M139.4 65.3h0.7M144.5 50.1h0.7M146 47.7h0.7M138.5 69.3h0.7M139.8 55.4h0.7M135.5 52.4h0.7M137.2 57h0.7M134.9 65.5h0.7M140.1 52.8h0.7M139.1 61.6h0.7M146.7 51h0.7M146.9 63.4h0.7M146 55.7h0.7M136.1 62.6h0.7M139.9 57.9h0.7M134.7 57.3h0.7M142.1 49.8h0.7M142.3 65.9h0.7M142.1 51.4h0.7M149.7 38.8h0.7M138.1 60h0.7M139.2 42.7h0.7M142.2 60.8h0.7M138.5 66.4h0.7M143.1 62.6h0.7M136 58.4h0.7M146.9 66h0.7M145.9 53.9h0.7M141.9 51.8h0.7M145.2 49.9h0.7M141.7 43h0.7M136 69.5h0.7M141.5 57.2h0.7M133.6 59.3h0.7M148.6 43.4h0.7M133 58.8h0.7M139.4 55.5h0.7M136.9 49.6h0.7M137 62h0.7M141.1 61.2h0.7M137.5 61.4h0.7M139.7 57.3h0.7M144.6 54.7h0.7M140.1 46.2h0.7M141.5 60.8h0.7M139.1 56.6h0.7M135.1 50.5h0.7M142.7 63.4h0.7M140.2 46.1h0.7M140 46.8h0.7M140.3 68.5h0.7M142.4 54.6h0.7M145 51.9h0.7M142.5 56.7h0.7M142.9 46.1h0.7M143.8 60.4h0.7M133.2 42.7h0.7M138.1 66.8h0.7M141.4 60.2h0.7M143.3 60.7h0.7M139 53.4h0.7M142.6 59.2h0.7M143.3 57.2h0.7M139.6 63.7h0.7M143 61.9h0.7M132.3 66.5h0.7M132.7 61.3h0.7M138.9 57.8h0.7M139.6 54.8h0.7M142 57.9h0.7M138.5 41.4h0.7M138.5 60.7h0.7M138.3 60.1h0.7M140 50.7h0.7M145.4 64.5h0.7M140.9 55.8h0.7M144.7 46.1h0.7M138.2 64.6h0.7M144.5 51.4h0.7M138.5 59.5h0.7M136.3 55.1h0.7M140.5 40.8h0.7M143.4 59.9h0.7M145.1 45.2h0.7M136.7 52.9h0.7M136.7 71.1h0.7M137.8 55.6h0.7M142 58.5h0.7M146.5 46.7h0.7M144.4 55.5h0.7M137.1 58.9h0.7M136.3 68.6h0.7M138.7 63.6h0.7M145.9 50h0.7M138.1 58.3h0.7M137.6 63.4h0.7M141.9 50.9h0.7M138.9 61.7h0.7M136.1 69.1h0.7M138.5 56h0.7M138 67.8h0.7M144.2 62.9h0.7M143.6 55.5h0.7M147.4 57.4h0.7M142.9 58.9h0.7M143.9 56.6h0.7M140.7 46.1h0.7M148.7 44.3h0.7M133.6 55h0.7M148.2 60.6h0.7M139.1 58.7h0.7M141.2 43.4h0.7M140.1 58.4h0.7M145.5 46.4h0.7M133.2 49.7h0.7M142.5 56h0.7M141.8 56.7h0.7M140 47.9h0.7M142.9 57.7h0.7M143.4 63h0.7M136.8 43.1h0.7M134.9 72.6h0.7M138 60.1h0.7M141.2 60.7h0.7M152.8 47.4h0.7M140.7 52.5h0.7M142.2 58.9h0.7M137.8 66h0.7M145.4 57h0.7M140.9 54.7h0.7M135.4 62.9h0.7M137.8 54.4h0.7M144.9 48.5h0.7M139.4 62.3h0.7M148 48.5h0.7M145.3 50h0.7M142.7 58.5h0.7M137.2 64.4h0.7M147.8 53.4h0.7M142.3 48.1h0.7M147.7 53.5h0.7M136.7 63h0.7M136 54h0.7M133.6 68.3h0.7M149.3 48.3h0.7M138.9 53.4h0.7M139.3 60.5h0.7M146.6 47.2h0.7M142.9 43.8h0.7M146.8 52.9h0.7M138.8 66.9h0.7M140.9 64.9h0.7M145.2 64.8h0.7M138.4 57.7h0.7M142.6 54.2h0.7M146.8 48.9h0.7M144.9 63.1h0.7M134.3 53h0.7M138 54h0.7M142.7 54.2h0.7M141.6 52.9h0.7M141 59.2h0.7M144 49.8h0.7M140.9 51.3h0.7M140.7 47.1h0.7M144.7 58.7h0.7M140.9 51.8h0.7M139.7 52.5h0.7M135.7 69h0.7M153.1 42.7h0.7M137.1 61.6h0.7M143.5 44.9h0.7M134.4 62.6h0.7M134.1 68.4h0.7M139.5 57.4h0.7M141.3 52.4h0.7M140.8 54.3h0.7M145.8 53.4h0.7M141.2 52.7h0.7M139 52.3h0.7M141.3 67.7h0.7M145.3 55.7h0.7M147.3 59.7h0.7M142 54.6h0.7M137.3 59.4h0.7M140.2 46.4h0.7M136.7 70.5h0.7M142.1 58.8h0.7M142 52.7h0.7M143 62.2h0.7M140.2 59.8h0.7M145 51.2h0.7M141.9 51h0.7M143.5 52.6h0.7M145.4 49.2h0.7M147.4 51.2h0.7M138.3 51.6h0.7M143.7 49.4h0.7M147.8 61.2h0.7M143.2 46.1h0.7M141.2 51.4h0.7M134.8 61.7h0.7M149.2 48.9h0.7M144.2 62.9h0.7M137.8 55.4h0.7M142.3 58.6h0.7M137.2 59.3h0.7M140.9 62.3h0.7M135.5 55h0.7M139.5 54.8h0.7M143.9 50.8h0.7M151.2 47h0.7M144.3 61.1h0.7M144.8 53.1h0.7M138.3 55.7h0.7M143.7 55.7h0.7M143.4 58.7h0.7M138.1 51.5h0.7M146.5 50.5h0.7M135.6 70.5h0.7M138.3 51.4h0.7M144.8 47.2h0.7M138.2 64.1h0.7M138.3 73.4h0.7M141.7 73h0.7M141.8 56.1h0.7M139 55.6h0.7M139.5 56.7h0.7M144.1 46.6h0.7M138 44.1h0.7M146.7 53h0.7M141.3 55.7h0.7M144.9 56.4h0.7M144.4 53.5h0.7M140.9 55.8h0.7M134.6 66h0.7M135.6 52.2h0.7M143.7 55.2h0.7M144.2 65.6h0.7M148 61.8h0.7M140.5 69.5h0.7M138.1 56.9h0.7M144.9 53h0.7M140.9 53.9h0.7M146.2 38h0.7M145.9 60.7h0.7M141 59.7h0.7M137.8 64.7h0.7M152.3 45.1h0.7M146.3 53.3h0.7M140.1 53.4h0.7M140.6 48.3h0.7M136.4 68.9h0.7M141.2 59.6h0.7M142.4 58.5h0.7M135.8 52.5h0.7M143.6 61.3h0.7M137.2 54.2h0.7M137.5 61.9h0.7M142.5 55.6h0.7M139 59.3h0.7M141.4 51.2h0.7M142.5 51.2h0.7M144.7 58.4h0.7M138.8 60.9h0.7M141.5 51.4h0.7M138 46.9h0.7M137.2 60.1h0.7M145.6 50h0.7M141.9 57.9h0.7M144.1 57.5h0.7M145.7 58.9h0.7M138.6 59.8h0.7M132.9 58.7h0.7M141.4 59.7h0.7M140.2 61.8h0.7M146.1 48.5h0.7M139.3 58.6h0.7M143.1 56.1h0.7M144.3 47.1h0.7M144.1 62.2h0.7M145.3 56.9h0.7M140.4 58.9h0.7M141 46h0.7M139.1 56.7h0.7M139.4 50.9h0.7M140.5 54h0.7M141.5 55.6h0.7M141.9 62.1h0.7M141.8 58.4h0.7M136.9 39.2h0.7M139.9 61h0.7M140.1 52.6h0.7M136.8 63.7h0.7M139.4 58.4h0.7M145.4 57.6h0.7M149.4 51.5h0.7M144.7 58.9h0.7M138.9 57.4h0.7M139.3 50.4h0.7M142.4 50.6h0.7M147.3 48.5h0.7M139.3 57.5h0.7M139.4 57.2h0.7M139.1 47.9h0.7M132.6 51.7h0.7M146.8 56.3h0.7M141.9 52.8h0.7M140.8 58.2h0.7M136.3 53.2h0.7M138.1 65.5h0.7M137.5 65.2h0.7M139.6 74.2h0.7M141 56.3h0.7M146.2 59.4h0.7M144.7 47.6h0.7M145.4 64.9h0.7M140.9 53.1h0.7M137.4 64.3h0.7M142.4 55.6h0.7M136.9 68.4h0.7M144.5 54.4h0.7M146.6 47.5h0.7M144.5 48.2h0.7M146.4 51.9h0.7M145.7 51.3h0.7M142.7 62.6h0.7M138.1 58.1h0.7M138.3 62.8h0.7M139.1 54.6h0.7M140.6 63.8h0.7M137.6 57.6h0.7M140.1 53h0.7M138.5 56.3h0.7M142 45.8h0.7M142.1 48h0.7M141.4 70.5h0.7M137.8 57.2h0.7M140.4 62.7h0.7M139.6 45.4h0.7M135.5 59.8h0.7M142.2 62.4h0.7M139.4 61.1h0.7M137.5 66h0.7M141 51.8h0.7M141.9 66.8h0.7M138.2 49.5h0.7M137.6 50.3h0.7M141.1 58.3h0.7M140.7 57.5h0.7M145.6 52.2h0.7M136.8 43.5h0.7M142.2 51.3h0.7M140.4 59h0.7M143 45.2h0.7M137.9 58.1h0.7M140.8 63.6h0.7M139.5 43.6h0.7M145.5 43.6h0.7M137.8 60.1h0.7M137.5 73.7h0.7M142.2 59h0.7M139.7 70.9h0.7M143.2 50.5h0.7M145.8 43.1h0.7M139.2 58.8h0.7M141.8 49.6h0.7M147 62.8h0.7M137.9 59.9h0.7M139 54.3h0.7M144.9 55.2h0.7M140.9 56.8h0.7M137.1 65.7h0.7M138.6 65.6h0.7M139.7 53.8h0.7M146.6 54.8h0.7M139 53.6h0.7M143.5 67h0.7M143.5 52.5h0.7M137.3 53.6h0.7M140.9 57.8h0.7M138.9 65.3h0.7M137.9 53h0.7M143.1 58.3h0.7M139.9 62.8h0.7M136.2 68.8h0.7M149.2 64.9h0.7M141.7 68.4h0.7M141.5 64.4h0.7M140.6 57.6h0.7M143.2 44h0.7M140.6 67.3h0.7M130.8 63.3h0.7M144.6 56.6h0.7M142 64.5h0.7M142.5 43.4h0.7M137.9 55.7h0.7M141.8 52.9h0.7M140.9 66.8h0.7M130.7 68.2h0.7M144.7 58.3h0.7M141.4 56.4h0.7M142.6 56.9h0.7M138.7 62.2h0.7M138.3 57.1h0.7M140 49.2h0.7M143.5 54.6h0.7M137.1 57.4h0.7M136.3 67.4h0.7M143.2 67.8h0.7M139.3 61.4h0.7M137.8 52.2h0.7M141 58.8h0.7M144.6 52.8h0.7M145.3 60.3h0.7M138.2 56.3h0.7M138 68.4h0.7M139.3 62.5h0.7M144.6 52.9h0.7M139.6 59h0.7M138.5 49.2h0.7M137.8 59.7h0.7M142 66.9h0.7M134.7 62.2h0.7M137.2 65.2h0.7M143.8 55.7h0.7M146.6 51.2h0.7M139.4 50.2h0.7M138.9 57.8h0.7M143.7 63h0.7M140.3 51.8h0.7M140.1 53.8h0.7M139.6 54.2h0.7M138.2 57.1h0.7M139.5 55.8h0.7M136.3 59.2h0.7M143.3 59.2h0.7M139.3 49.7h0.7M136.6 50.7h0.7M139 55.1h0.7M135 63.2h0.7M135.8 54.2h0.7M138.7 62.4h0.7M147.9 50.7h0.7M140.3 54h0.7M140.6 55.3h0.7M150.1 45.1h0.7M140.9 51.2h0.7M142.6 52.1h0.7M143.4 48.2h0.7M148.8 53.9h0.7M135 63.3h0.7M139.6 49.5h0.7M142.9 52h0.7M143.9 51.3h0.7M144.5 55.5h0.7M142.6 56.4h0.7M140 54.3h0.7M142.9 59.7h0.7M139.8 70.8h0.7M147.3 46h0.7M145.2 53.8h0.7M142.1 50.6h0.7M147.2 48.1h0.7M141 51.6h0.7M148.2 60.8h0.7M136.6 55.3h0.7M142.6 52.7h0.7M140 49.8h0.7M142.2 48.7h0.7M144.3 69.7h0.7M140.1 66.9h0.7M142.6 51.2h0.7M140.1 50.5h0.7M141.7 60.2h0.7M144.6 52.7h0.7M137.1 57.5h0.7M147.2 55.1h0.7M141.1 43.1h0.7M139.8 60.1h0.7M137.9 66h0.7M139.3 51.5h0.7M139.2 56.4h0.7M144.8 50.8h0.7M135 58.4h0.7M143.2 64.8h0.7M137.3 67.1h0.7M143.7 57.8h0.7M138.6 51.7h0.7M137.9 63.4h0.7M142.1 62.4h0.7M147.7 53.2h0.7M141.1 68.1h0.7M136.7 55.3h0.7M140 54.2h0.7M141.8 50.5h0.7M145.4 45.6h0.7M138.4 46.8h0.7M136.3 62h0.7M143.5 53.8h0.7M144.3 58.5h0.7M139.3 56.7h0.7M142.6 68h0.7M139.7 59.1h0.7M143.2 62.8h0.7M142.8 62.1h0.7M137.5 56.1h0.7M134.4 58.9h0.7M149.6 53.8h0.7M141.6 57.6h0.7M141.8 47.5h0.7M138.8 56.1h0.7M141.9 50.4h0.7M140.9 51.6h0.7M136.6 54.1h0.7M138.5 62.6h0.7M146 57.5h0.7M140.6 52.9h0.7M135.7 55.3h0.7M146.8 60.7h0.7M142.1 54.1h0.7M141.3 58.7h0.7M141.3 58.7h0.7M138.6 57.6h0.7M140.1 63.3h0.7M136.9 66.1h0.7M141 53h0.7M141.4 56.8h0.7M140.5 59.1h0.7M139.3 46.4h0.7M143.8 54.8h0.7M147.2 55.8h0.7M134.2 67h0.7M138.9 60.6h0.7M149.2 59.3h0.7M137.4 57.2h0.7M135.6 62.8h0.7M143.3 48.7h0.7M142.9 61.1h0.7M144.2 50.6h0.7M138.9 50.2h0.7M136.7 60.1h0.7M141.4 64.1h0.7M142.3 53.6h0.7M136.3 68h0.7M141.9 55.6h0.7M137.7 51.2h0.7M143.5 49h0.7M143.4 59h0.7M140 46.6h0.7M142.8 64.1h0.7M138.4 49.5h0.7M145.1 55.2h0.7M139.1 64.7h0.7M140.3 59.3h0.7M139.9 52h0.7M142.1 50.4h0.7M135 55.6h0.7M145.7 60.9h0.7M149 58.7h0.7M147 55h0.7M139.8 59.7h0.7M137.9 62.2h0.7M139.7 58.4h0.7M138.3 56.6h0.7M144.8 53.1h0.7M138.9 58.9h0.7M144.4 53.5h0.7M137.2 48.3h0.7M136.6 64.8h0.7M141 59.2h0.7M145.1 56.1h0.7M143 52.2h0.7M135.6 62.6h0.7M141 59.8h0.7M137.5 56.9h0.7M148.4 47.6h0.7M141.6 64h0.7M140.5 57.2h0.7M133.8 64.3h0.7M139.7 64.7h0.7M141 53.9h0.7M142.8 53.9h0.7M139.5 66.4h0.7M144.8 55.2h0.7M144.2 59.9h0.7M143.4 55.4h0.7M141.6 58.5h0.7M143.3 57.3h0.7M139.4 56.5h0.7M142.9 49.3h0.7M141.3 60.8h0.7M141.9 54.1h0.7M141.2 53.1h0.7M144.8 52.2h0.7M135.4 51.4h0.7M142.4 56.9h0.7M139.6 48.8h0.7M140.8 51.2h0.7M139 57.1h0.7M138.6 59.2h0.7M138.7 54.4h0.7M140.5 65.4h0.7M146.9 59.3h0.7M138.7 57.3h0.7M144.5 59.6h0.7M135.6 58.4h0.7M138.7 61.9h0.7M143.5 51.8h0.7M148.9 50.9h0.7M149.9 51.1h0.7M141 67.9h0.7M139.4 54.1h0.7M146.5 53.5h0.7M143 47.6h0.7M147.6 59.2h0.7M142.6 59.8h0.7M139.5 54h0.7M135.8 60.9h0.7M145.7 59.3h0.7M144.5 58.9h0.7M138.1 49.6h0.7M143.6 56.1h0.7M144.8 52.8h0.7M138.2 60.2h0.7M139.3 47h0.7M139.2 51.7h0.7M137.4 54.5h0.7M144.6 68.9h0.7M147.4 50.8h0.7M145.3 53.8h0.7M142.7 51.3h0.7M141 46h0.7M147.6 48.6h0.7M143.4 51.6h0.7M142.3 48.5h0.7M140 62.3h0.7M143.4 43.3h0.7M144.3 46.7h0.7M142.3 58.8h0.7M139 55.2h0.7M140.4 58.9h0.7M144.5 62.9h0.7M142.5 67.7h0.7M138 68.4h0.7M140.4 61.2h0.7M140.9 56.8h0.7M138.1 59.9h0.7M148.4 53.7h0.7M141.2 56.2h0.7M143.8 53.7h0.7M141.3 57.4h0.7M145.9 59.8h0.7M137.6 54h0.7M141.4 61.2h0.7M144.7 53.3h0.7M148.8 51.7h0.7M146.3 62.5h0.7M146.9 54.7h0.7M143.3 45.9h0.7M135 55.3h0.7M143.8 61.4h0.7M140.9 62.6h0.7M143.3 64.4h0.7M135.7 53.6h0.7M137.9 51.3h0.7M147.1 47.8h0.7M138.4 55h0.7M144.4 51.9h0.7M143.9 58.3h0.7M139 42.8h0.7M138.1 50h0.7M147.1 49.1h0.7M137.5 60.1h0.7M141.5 50.3h0.7M145.2 59.9h0.7M142.3 51h0.7M138.2 45.1h0.7M142.7 57.9h0.7M138.1 57.7h0.7M152.9 43.9h0.7M135.3 62.6h0.7M139.8 53.8h0.7M143.5 54.3h0.7M144.8 57.6h0.7M145.4 54.9h0.7M133.7 67.8h0.7M135.3 65.2h0.7M142.2 47.3h0.7M141.5 61.3h0.7M137.7 58h0.7M138.7 51.2h0.7M139.1 64.8h0.7M143.7 54.8h0.7M141 57h0.7M142.3 56.7h0.7M135.2 64.4h0.7M138.3 41.6h0.7M143.8 47.6h0.7M140.8 55.7h0.7M139.2 60.3h0.7M140.3 54.8h0.7M137.9 55.9h0.7M137.6 58h0.7M146 60.1h0.7M142.8 47.1h0.7M144.9 60.1h0.7M148.6 39.1h0.7M141.4 54h0.7M145.1 47.7h0.7M140 70.8h0.7M144.8 42.3h0.7M141.4 64.3h0.7M139.1 60.7h0.7M141.7 47h0.7M139.1 64h0.7M145.5 50.5h0.7M145.3 49.9h0.7M142.2 55.5h0.7M136.9 60h0.7M139.9 40h0.7M138.4 52.2h0.7M138.3 51.5h0.7M138.9 42.2h0.7M144.5 55h0.7M142.2 54h0.7M141.5 54.3h0.7M137.4 48.6h0.7M141.6 62.1h0.7M142.1 65.5h0.7M136.5 56.6h0.7M139.1 64.6h0.7M147.3 50.1h0.7M143.9 53.4h0.7M137.8 57h0.7M137.6 67.2h0.7M143.4 62.3h0.7M142.6 40.6h0.7M144.1 55.3h0.7M132.9 60.5h0.7M144.9 64.8h0.7M137.7 62.5h0.7M142.5 54.4h0.7M140.3 59.7h0.7M143.3 59.1h0.7M139.9 48.6h0.7M146 61.8h0.7M139.3 56.8h0.7M144.2 44h0.7M143.1 70h0.7M142.3 51.3h0.7M148.5 52.8h0.7M142.1 53.1h0.7M141.9 44.8h0.7M136.8 49.1h0.7M144.5 54h0.7M145.4 41.7h0.7M139.2 65.9h0.7M138.5 45.9h0.7M138.7 55.1h0.7M141.3 64h0.7M146 63.4h0.7M143.4 52h0.7M139.5 47.8h0.7M145.8 61.6h0.7M141.6 50.4h0.7M143.7 57.9h0.7M141.8 48.6h0.7M142.1 52.2h0.7M143.9 58.5h0.7M142.9 52.7h0.7M146.7 58.3h0.7M145.8 59.1h0.7M143.6 57.3h0.7M137.5 46.6h0.7M138 61.3h0.7M144.5 55.7h0.7M141.6 67.1h0.7M139.9 45.7h0.7M135.8 56.5h0.7M143.8 59.4h0.7M140.5 61.4h0.7M141.1 51.7h0.7M140 61.2h0.7M144.7 47.6h0.7M137.8 58.4h0.7M148.8 45.4h0.7M136.9 60.6h0.7M143.1 51.4h0.7M141.2 59h0.7M135.1 58.7h0.7M143.4 60.7h0.7M145.4 53.7h0.7M136.2 66.6h0.7M144 50.9h0.7M145 60.7h0.7M140.8 41.8h0.7M139.6 52.1h0.7M138.3 56.9h0.7M137.5 60.1h0.7M148 45.7h0.7M145 51.1h0.7M143.2 54.3h0.7M145.8 49.6h0.7M143.9 50.1h0.7M142.1 55.5h0.7M145.1 44.6h0.7M136.5 66.7h0.7M142.7 65.8h0.7M137.7 59h0.7M143.4 65.9h0.7M141.1 53.3h0.7M143.8 54.2h0.7M138.7 61.9h0.7M134.6 52.9h0.7M146.1 50.7h0.7M140.2 58.8h0.7M145.3 57.4h0.7M137.9 54.1h0.7M145 53.6h0.7M139.1 62.4h0.7M145.3 67.5h0.7M137.5 53.4h0.7M138.9 59.3h0.7M139.6 63.6h0.7M131.8 66.2h0.7M139 55.4h0.7M143.3 56.3h0.7M137.7 66.8h0.7M143.3 52.1h0.7M142 48.9h0.7M137 56.1h0.7M142.6 56h0.7M138.6 48.8h0.7M135.4 68.5h0.7M142.6 50.5h0.7M145.5 57.4h0.7M139.8 52.9h0.7M145.3 56.2h0.7M147 55.6h0.7M139.2 53.3h0.7M138.8 58.7h0.7M142.2 59.3h0.7M142.9 48.8h0.7M140.6 50.6h0.7M143 47.2h0.7M139.3 51.7h0.7M139.1 55.4h0.7M146.6 52h0.7M136.3 56.5h0.7M143.9 58.2h0.7M142.1 67.8h0.7M145.2 54.8h0.7M145.6 45.8h0.7M140.7 51h0.7M141.9 65.6h0.7M139.6 66.6h0.7M137.7 66.4h0.7M135.4 53.5h0.7M144.8 53.8h0.7M141.8 55.7h0.7M141.9 54.6h0.7M137.9 55.8h0.7M141.7 50.3h0.7M142.9 66.1h0.7M135.6 55.3h0.7M140.3 56.6h0.7M141.6 51.4h0.7M141.2 56.1h0.7M141 65.6h0.7M141.8 46.7h0.7M135.8 62.1h0.7M140.1 52.8h0.7M136.6 56.3h0.7M141 51.9h0.7M140.1 62h0.7M144 58.1h0.7M140.7 48h0.7M144 63.9h0.7M145.8 61.1h0.7M142.3 57.9h0.7M141.3 63.7h0.7M140.4 69.6h0.7M144 52.8h0.7M141.3 46.1h0.7M138.7 55.3h0.7M149.9 47.1h0.7M144.5 55h0.7M140.3 60.3h0.7M134.3 65h0.7M148.1 54.7h0.7M141.1 57.1h0.7M143.6 51.9h0.7M141.7 58.9h0.7M140.1 58.9h0.7M142.5 59.8h0.7M137.9 54.3h0.7M139.8 64h0.7M142.2 45.5h0.7M136.8 69.9h0.7M142.5 47.5h0.7M138.1 58.3h0.7M146.3 63.6h0.7M140 54.8h0.7M148 46.9h0.7M146.8 55.6h0.7M141.6 63.7h0.7M143 50.1h0.7M136 58.5h0.7M143.1 63.6h0.7M132.2 68.4h0.7M143.5 64.3h0.7M144.1 56h0.7M142.8 57.8h0.7M139.1 56.3h0.7M141.7 53h0.7M136.2 49.5h0.7M143.1 58.4h0.7M141.7 48.7h0.7M144.3 52.2h0.7M134 68.9h0.7M136.1 72.2h0.7M143.2 52.4h0.7M133.1 55.4h0.7M146.5 62h0.7M142.2 45.1h0.7M140 54.9h0.7M142.9 54.5h0.7M142.5 45.4h0.7M139.1 65.9h0.7M136.2 64h0.7M149.4 56.3h0.7M136.4 65.9h0.7M134.8 61h0.7M139.9 64.3h0.7M145.4 55.3h0.7M147.6 59.2h0.7M139.6 50.7h0.7M149.9 49.6h0.7M142.7 54.6h0.7M139.6 46.9h0.7M140.8 55.5h0.7M144.7 51.3h0.7M135.8 51.9h0.7M141.2 57.6h0.7M143.8 52.5h0.7M143.2 56h0.7M147.2 53h0.7M141.8 59.3h0.7M145.6 48.4h0.7M139.6 55.1h0.7M133.8 67.4h0.7M145.1 54.4h0.7M153.1 58.4h0.7M148.4 62.4h0.7M144.5 45.8h0.7M146.7 56.1h0.7M137.1 58.2h0.7M143.9 60.8h0.7M141.9 52.5h0.7M144 50.1h0.7M141 60.8h0.7M136.3 60.6h0.7M134.5 53.4h0.7M137 57.4h0.7M143.8 54.5h0.7M144.5 55.1h0.7M140.6 59.4h0.7M140.5 57.2h0.7M144.9 50.8h0.7M145.3 47.3h0.7M140.5 45.7h0.7M139.4 66.6h0.7M142.5 63.3h0.7M136.2 52.1h0.7M142.9 60.4h0.7M144.2 44.3h0.7M143.1 54.7h0.7M141.7 58.7h0.7M140.3 46h0.7M137.6 48.8h0.7M136.7 57.3h0.7M145.9 49.5h0.7M138.6 50.1h0.7M135.3 59.2h0.7M139.6 55.3h0.7M137.9 60.5h0.7M137.1 61.3h0.7M139 61.9h0.7M138.2 60.2h0.7M142.8 54.8h0.7M147 54.5h0.7M138.2 61.7h0.7M138.4 54h0.7M141.3 57.1h0.7M147.3 42.5h0.7M140.4 63.4h0.7M140.7 58.2h0.7M146.7 46h0.7M141.5 60.8h0.7M139.2 46.1h0.7M137.8 58.8h0.7M142 67.1h0.7M146 44.3h0.7M144.9 60h0.7M147 52.5h0.7M139.3 57.8h0.7M146.7 57.4h0.7M147.3 58.1h0.7M139.2 50.7h0.7M147.8 43.7h0.7M140.1 54.6h0.7M138.1 53.9h0.7M141.3 70.7h0.7M141.1 52.9h0.7M141.7 61.6h0.7M138.4 54.8h0.7M135.2 63.1h0.7M143.7 64.2h0.7M137.1 71.4h0.7M144.4 52.9h0.7M139.9 54.7h0.7M137 62.7h0.7M139.2 52.5h0.7M143.1 55.9h0.7M139.3 55.5h0.7M139.6 65.1h0.7M144.8 49.9h0.7M141.2 64.5h0.7M140.3 67.5h0.7M142.9 59.4h0.7M134 64.6h0.7M142.5 59.1h0.7M143 58.5h0.7M139.5 62.4h0.7M141.5 49.4h0.7M137.7 58.6h0.7M142.5 41.8h0.7M134.1 65.8h0.7M141.3 73.7h0.7M135.9 56.9h0.7M139.2 60.4h0.7M146.2 63.7h0.7M137.8 65.3h0.7M137 59.9h0.7M141.9 59.6h0.7M138.5 65.6h0.7M141.1 56h0.7M140.4 49.8h0.7M143.8 56.9h0.7M142.9 66.8h0.7M138.3 55.6h0.7M141.3 61.3h0.7M140.7 62.1h0.7M142.9 44.4h0.7M138.9 44.5h0.7M140.3 53.9h0.7M143.4 56.1h0.7M141.1 63.9h0.7M143.4 47.4h0.7M138.9 59.1h0.7M147.3 52h0.7M140.7 57.9h0.7M144.1 54.2h0.7M142.3 52.9h0.7M139.4 52h0.7M143.6 51.5h0.7M143.2 57.6h0.7M144.7 37.8h0.7M137.9 50h0.7M140.7 61.3h0.7M150.2 61.5h0.7M146.1 56.2h0.7M139.9 59.9h0.7M133.6 65.3h0.7M141.3 59.8h0.7M137.7 50.9h0.7M139 56.8h0.7M142.5 53.2h0.7M142.5 59.7h0.7M137.2 57.2h0.7M135.8 55.1h0.7M144.5 50.1h0.7M147.9 56.1h0.7M144.4 55.2h0.7M144.3 61.4h0.7M141.7 52.5h0.7M139.4 68.9h0.7M140.7 53.5h0.7M138.8 46.7h0.7M139.5 58.8h0.7M139.6 52.1h0.7M142.7 58.2h0.7M139.8 58.6h0.7M137.9 62.9h0.7M137.8 55.5h0.7M141.8 53.2h0.7M137.3 70.9h0.7M146.6 42.7h0.7M142.1 45.4h0.7M143.3 45.1h0.7M145 61.2h0.7M152.2 67h0.7M138.4 64.8h0.7M138.4 55.5h0.7M138.1 41.1h0.7M145.1 38.7h0.7M139.8 61.1h0.7M142 42.7h0.7M137.2 62.5h0.7M148.3 70.5h0.7M129.8 60.5h0.7M138.2 63.2h0.7M130.6 55.3h0.7M145.8 50.9h0.7M139 47.9h0.7M148.4 44.9h0.7M135.5 53.6h0.7M139.3 75h0.7M143 49.2h0.7M145 59.5h0.7M143.1 55.9h0.7M144.2 46.2h0.7M133.7 52.8h0.7M134.3 62.6h0.7M153.6 67.3h0.7M144.1 59.5h0.7M136.9 45.1h0.7M144.8 43.5h0.7M143.2 55.3h0.7M146.1 56.9h0.7M142 51.4h0.7M130.4 53.5h0.7M145.7 65.7h0.7M150.1 47.8h0.7M135.4 62.6h0.7M138.4 79h0.7M143.3 43.2h0.7M137.8 70.3h0.7M129.7 57.8h0.7M132.5 70.5h0.7M138.5 47.5h0.7M130.5 50.3h0.7M125.1 52.3h0.7M155.2 57.4h0.7M139.6 46.3h0.7M143.5 52.4h0.7M135.9 68.6h0.7M144.1 48.7h0.7M150.7 56h0.7M144.5 57.8h0.7M148.8 61.9h0.7M139.1 62.8h0.7M138.8 57.7h0.7M151.7 47.2h0.7M134.7 53h0.7M138.1 67.9h0.7M131.2 76.6h0.7M151.4 52.6h0.7M142.5 53.3h0.7M145.6 62.3h0.7M146.1 63.2h0.7M153.6 55h0.7M145.7 54.9h0.7M141.5 58.4h0.7M141 59.5h0.7M135.9 55.2h0.7M137.5 46.3h0.7M136.8 52.1h0.7M140.4 42.8h0.7M139.7 46.6h0.7M136.1 58.2h0.7M148.4 59h0.7M138.2 52.6h0.7M149.8 42.2h0.7M148.5 43.3h0.7M137.3 56.9h0.7M139.9 71.1h0.7M144.4 56.1h0.7M147.4 56.8h0.7M136.2 66.4h0.7M150.8 67.7h0.7M133.8 73.2h0.7M138.6 63.2h0.7M148.9 77.4h0.7M131 47.5h0.7M148.8 60.8h0.7M144.1 54.9h0.7M124.7 80h0.7M125.4 51.6h0.7M141.3 58.5h0.7M146.1 54.2h0.7M135.6 53.3h0.7M127.9 46.7h0.7M153.9 50.5h0.7M140.8 73.2h0.7M148 57.6h0.7M146 54.1h0.7M135.5 65.3h0.7M142.2 70.6h0.7M139.6 53.2h0.7M143.5 54.8h0.7M139.3 48.6h0.7M142.9 59.3h0.7M153 56.3h0.7M130.1 60.6h0.7M155.9 52.6h0.7M136.2 55h0.7M123.1 53.6h0.7M140.1 43.2h0.7M145 48.8h0.7M129.5 50.2h0.7M145.3 73.4h0.7M149.3 58.2h0.7M138 54.2h0.7M147.5 51.9h0.7M144 65h0.7M135.5 51.3h0.7M144.2 56.6h0.7M140.5 51.8h0.7M140.9 72.8h0.7M150 42.3h0.7M141.6 57.3h0.7M141.5 44.3h0.7M140.5 57.8h0.7M137 59.3h0.7M125.8 43.2h0.7M141.9 59.9h0.7M140.2 52.5h0.7M142.5 66h0.7M147 55.8h0.7M138.3 65.9h0.7M144.8 64.3h0.7M139.5 48.9h0.7M142.5 51h0.7M148.6 64h0.7M127.4 62.4h0.7M149.8 65.6h0.7M138.3 48.9h0.7M147.5 65.4h0.7M141.7 46.3h0.7M131.6 58.9h0.7M136 50.5h0.7M144.1 65.7h0.7M128.1 50.6h0.7M149.6 56.1h0.7M139.1 62.1h0.7M134 45.7h0.7M141.4 70.3h0.7M147.8 56.5h0.7M147.8 52.9h0.7M133.8 41.7h0.7M143 64.4h0.7M143.7 56.2h0.7M138.7 66.1h0.7M141 43.8h0.7M150 50.8h0.7M143.8 56.5h0.7M148 58.7h0.7M149.1 58.4h0.7M138.4 52h0.7M145.5 49.2h0.7M147.2 54.4h0.7M135.4 48.8h0.7M140.4 72.1h0.7M146.2 56.7h0.7M135.5 73.3h0.7M139.5 56.5h0.7M138.6 68.3h0.7M142.4 52.5h0.7M142.5 47.7h0.7M134.6 55.1h0.7M122.9 66.9h0.7M154 46.7h0.7M140.4 42.6h0.7M142.4 58.4h0.7M146 44.7h0.7M137.5 50.8h0.7M139.7 76.7h0.7M140 56.1h0.7M138.1 63.5h0.7M157.7 66.8h0.7M151.1 47h0.7M148.1 56.7h0.7M149.3 65.8h0.7M145.5 41.7h0.7M142.2 52.1h0.7M144.2 56.8h0.7M148 42.4h0.7M136.6 55.8h0.7M143.3 52.9h0.7M141.1 57h0.7M148 55.5h0.7M142.8 40.5h0.7M124.6 43.6h0.7M143.6 36.1h0.7M143.9 55.7h0.7M141.3 50.1h0.7M138.6 63.8h0.7M143.6 56.3h0.7M138.2 58.4h0.7M148.9 56.3h0.7M139 46.1h0.7M141.9 48.4h0.7M132.1 64.2h0.7M137.3 38.5h0.7M136.7 72.8h0.7M140.6 44.8h0.7M134.3 62.9h0.7M143.9 58.4h0.7M140 60.8h0.7M151.1 60.8h0.7M140.2 44.1h0.7M144.1 70.4h0.7M145.4 45.4h0.7M142.5 68h0.7M137.2 60.9h0.7M149 71h0.7M131.1 41.1h0.7M143.7 62.7h0.7M139 56.3h0.7M138.7 67.1h0.7M127.1 58.8h0.7M133.1 50.5h0.7M131.5 48.5h0.7M141.1 56.7h0.7M152.7 54.5h0.7M143.5 59.6h0.7M143 69.5h0.7M142.2 57.8h0.7M140.6 56.5h0.7M140.9 65.3h0.7M141.4 57.1h0.7M141 63.2h0.7M138.3 64.8h0.7M137.6 62.6h0.7M153.6 58.6h0.7M140.7 46h0.7M146 56.6h0.7M147.1 50.7h0.7M144.6 72.5h0.7M143.9 53.6h0.7M133 56.4h0.7M145.5 61.8h0.7M134.1 47.4h0.7M135 47.5h0.7M139.5 58.9h0.7M153.6 58.2h0.7M150.6 41.8h0.7M151.2 63.6h0.7M144.1 63.8h0.7M145.3 73.5h0.7M146.5 41.1h0.7M130.1 70.8h0.7M140.8 68.2h0.7M139.1 50.7h0.7M139.1 59.3h0.7M142.5 51h0.7M144.7 62h0.7M135.4 46.6h0.7M128.7 53.8h0.7M141.4 50.3h0.7M137.4 55.3h0.7M141.5 61.6h0.7M146.6 60.4h0.7M148.5 47.9h0.7M145.2 59.8h0.7M134.6 50.5h0.7M144.1 57.2h0.7M133.2 51.6h0.7M151.1 64h0.7M141.8 68.5h0.7M135.5 55h0.7M147.5 53.5h0.7M134.1 61.7h0.7M142.3 45.4h0.7M139.4 43.9h0.7M158 50.5h0.7M141.6 50.2h0.7M134.9 52.5h0.7M142.6 72.1h0.7M143.1 70.4h0.7M134.5 57.1h0.7M138.5 42.6h0.7M165.2 54.3h0.7M142.9 49.8h0.7M137.6 47.3h0.7M147.9 52.9h0.7M140.4 58.1h0.7M100.8 71.4h0.7M106.6 74.7h0.7M105.4 71.2h0.7M110.3 79.8h0.7M103.8 77.9h0.7M102.1 68.5h0.7M108.2 72.8h0.7M106.5 78.4h0.7M103.7 82.1h0.7M110.4 72.5h0.7M108.9 79.2h0.7M103.1 74.8h0.7M113.3 71.4h0.7M102.9 62h0.7M109.8 65.9h0.7M121 79.8h0.7M115.8 79.2h0.7M102 77.9h0.7M104.9 87.9h0.7M104.5 75.2h0.7M110.6 69h0.7M106.7 80.2h0.7M110.2 71.8h0.7M109.9 85.7h0.7M112.6 76.7h0.7M109.3 59.9h0.7M108.2 67.9h0.7M111.5 68h0.7M109.9 64.1h0.7M112.4 67.3h0.7M107.3 75.9h0.7M105.7 71h0.7M113.3 86.9h0.7M111.2 79.9h0.7M104.9 71.5h0.7M106.5 88.8h0.7M106.4 62h0.7M114.6 70.5h0.7M118.1 79.5h0.7M109.6 77.1h0.7M111.8 79.9h0.7M102.2 65.6h0.7M104.5 71.4h0.7M106.1 61.6h0.7M103.7 84.2h0.7M119 68.2h0.7M109.6 71.8h0.7M102.9 75.7h0.7M107.1 84.3h0.7M110 69.8h0.7M112.1 67.3h0.7M112.3 78.2h0.7M109.2 77.8h0.7M108.3 71.6h0.7M105.6 68.7h0.7M107.5 63.3h0.7M111 70h0.7M110.3 68.4h0.7M109.7 73.1h0.7M112.3 76.5h0.7M112.6 71.7h0.7M107.2 69.4h0.7M100.7 68.5h0.7M113.4 79.2h0.7M102.9 72.5h0.7M111.6 62.2h0.7M109.4 74.6h0.7M111.6 74.7h0.7M118.3 71.6h0.7M114.4 83.3h0.7M108 62.8h0.7M114.9 73.4h0.7M110.3 76h0.7M112.7 80.8h0.7M108.3 71.8h0.7M111.7 71.7h0.7M106.5 86.9h0.7M115 82.6h0.7M113.1 67.1h0.7M107 70.8h0.7M101.6 63.1h0.7M108.4 62.4h0.7M110.4 76h0.7M106.2 68.5h0.7M110.8 76.2h0.7M109.5 62.6h0.7M104 67.6h0.7M103.5 76.5h0.7M105.3 67.1h0.7M103.3 66.9h0.7M114 74.6h0.7M104.6 80.4h0.7M110.2 64.3h0.7M104.4 65.9h0.7M107.3 80.8h0.7M103.7 69.3h0.7M108.1 62.5h0.7M104.9 75.5h0.7M113.7 58.8h0.7M111.3 70.4h0.7M114.5 78.3h0.7M118.2 77h0.7M105.4 64.5h0.7M110.3 78.6h0.7M109.4 60.5h0.7M105.3 69h0.7M108.4 77.7h0.7M115.2 75.9h0.7M101 71.4h0.7M106.3 79.7h0.7M113.4 69.7h0.7M112.6 73.1h0.7M110 82.6h0.7M101.3 69.2h0.7M115.9 68.1h0.7M108.7 72.9h0.7M105.2 60.8h0.7M103.8 62.9h0.7M113.4 75.1h0.7M111.3 63.5h0.7M110.2 73.4h0.7M113.2 67.6h0.7M111.9 83.3h0.7M117.3 67.2h0.7M101.4 58.5h0.7M112.7 77.6h0.7M109.4 65.4h0.7M114.3 85.8h0.7M107.3 70.5h0.7M114 77.3h0.7M114.8 70.5h0.7M109.3 69.4h0.7M104.4 68.3h0.7M106 74.9h0.7M105.9 71.6h0.7M103.1 60.8h0.7M115.3 66.2h0.7M117.4 81.6h0.7M105.2 71h0.7M106.5 66.6h0.7M114.3 72.5h0.7M112.7 67.8h0.7M103.8 80.7h0.7M106 62.6h0.7M106.6 79.3h0.7M106.6 65.7h0.7M111 80.1h0.7M106.4 68.7h0.7M106.5 84.6h0.7M106.7 74.4h0.7M107.8 69.2h0.7M105.3 60.4h0.7M104 69.8h0.7M106.5 67.3h0.7M103.6 84.6h0.7M101.5 65.9h0.7M105.9 62.2h0.7M102.3 76.6h0.7M112.6 74h0.7M125.1 83h0.7M114.2 67.2h0.7M113.4 86.1h0.7M105.5 84.8h0.7M103.1 61.5h0.7M107.3 65.3h0.7M111 64h0.7M108 56.7h0.7M107.3 79.5h0.7M106.1 73.5h0.7M113.4 64.8h0.7M100.6 70.1h0.7M109 69.9h0.7M102.2 79.3h0.7M101.2 67.7h0.7M107.3 77h0.7M105.1 64.5h0.7M118.4 68.2h0.7M111.8 71.6h0.7M104.9 70.4h0.7M106.1 73.5h0.7M107.9 64.2h0.7M105.4 88.8h0.7M117.5 79.3h0.7M108.8 69.5h0.7M115.1 70.3h0.7M103.1 75.5h0.7M102.3 63.9h0.7M115.4 61.5h0.7M107.2 72.3h0.7M108.9 60.8h0.7M106.3 68.6h0.7M118 82.2h0.7M103.4 77h0.7M111.1 71.7h0.7M106.2 69h0.7M112.6 84h0.7M117.6 71.6h0.7M110.9 54.1h0.7M106.1 61.4h0.7M112 60.1h0.7M101.9 61.4h0.7M109.7 78.5h0.7M102.5 83.9h0.7M108.4 65.4h0.7M109.4 72h0.7M112 75.5h0.7M119.4 83.9h0.7M104.1 76.5h0.7M111.7 65.1h0.7M103.5 64.2h0.7M106.4 80.6h0.7M104.5 71.2h0.7M111.5 80.1h0.7M109.3 64.1h0.7M119.5 81.6h0.7M114.9 86h0.7M115.1 76.9h0.7M110.1 77.1h0.7M102.2 73.2h0.7M102 75.4h0.7M108.6 75.7h0.7M102.6 67.9h0.7M107.2 69.2h0.7M105.2 64.1h0.7M111.7 69.8h0.7M103.1 73h0.7M103.1 68.9h0.7M104.8 63.6h0.7M106.3 64.9h0.7M100.7 72.2h0.7M105.9 59.9h0.7M105.4 72.3h0.7M109.9 75h0.7M108.9 76.5h0.7M104.9 64.6h0.7M110.9 69.4h0.7M107.6 76.5h0.7M112.6 82.3h0.7M103.8 67.6h0.7M110.6 61.5h0.7M100.7 74.2h0.7M104.2 63.5h0.7M111.9 76.8h0.7M112.5 70.4h0.7M106 68.5h0.7M109.2 56.5h0.7M103.8 75.8h0.7M103.3 69.8h0.7M108.2 75.7h0.7M105 62.1h0.7M121.1 70h0.7M116.8 60.8h0.7M108.1 70.2h0.7M112.8 65.3h0.7M103.2 64.5h0.7M104.8 72.7h0.7M103.3 68.4h0.7M115.5 84.8h0.7M105.5 80.8h0.7M105.8 85.6h0.7M109.5 83h0.7M102.9 67.8h0.7M113.1 77.5h0.7M108.5 76.6h0.7M104.1 83.8h0.7M108.4 82.8h0.7M109.7 72.8h0.7M105.8 62.1h0.7M112.2 78.6h0.7M112.6 70.1h0.7M102.1 67.1h0.7M105.9 70.9h0.7M112.9 66.1h0.7M104.9 76h0.7M110.4 65.9h0.7M101.9 63.9h0.7M107.9 73.6h0.7M107.2 66.8h0.7M106.6 70.6h0.7M110.8 73.1h0.7M103.2 61.4h0.7M115.6 73.2h0.7M106.6 71.1h0.7M113.7 70.9h0.7M108.5 70h0.7M110.7 64.8h0.7M108.7 79.7h0.7M114 78.1h0.7M109.2 83.9h0.7M111.4 83.3h0.7M101.1 61.3h0.7M111.9 70.8h0.7M105.2 63.6h0.7M115.6 64.8h0.7M108.1 61.1h0.7M106.6 88.3h0.7M120.7 71.6h0.7M102.1 82.3h0.7M103 56.6h0.7M109.4 63.9h0.7M103.6 62.3h0.7M108.5 70.4h0.7M113.6 74h0.7M116.2 82.7h0.7M117.2 82.8h0.7M108 75.8h0.7M107.7 59.8h0.7M101.2 75.3h0.7M100.7 69h0.7M102 71.8h0.7M106.5 67.7h0.7M103 53.4h0.7M108 61.9h0.7M106 73.9h0.7M113.2 78.5h0.7M115.5 63.1h0.7M111.2 84.5h0.7M109.7 63.8h0.7M109.7 68.2h0.7M104.1 78.6h0.7M106.6 62.8h0.7M103.9 85.4h0.7M103 75.3h0.7M108.5 80.7h0.7M106.1 63.9h0.7M104.1 62.7h0.7M121.5 77.1h0.7M105.9 80.6h0.7M111.1 71.2h0.7M110.9 74.6h0.7M113.6 85.8h0.7M105.9 70.8h0.7M106.6 80.5h0.7M109.7 78.1h0.7M112.4 68.1h0.7M108.3 82.2h0.7M112.6 79.2h0.7M106.1 68.4h0.7M103 68.2h0.7M107.2 60.6h0.7M113.8 67.6h0.7M108.9 76.5h0.7M104.6 57h0.7M112.8 76.2h0.7M106.2 79.7h0.7M112.4 65.7h0.7M107.2 58.1h0.7M106.2 81.8h0.7M103.1 76.5h0.7M112.7 86h0.7M110 78h0.7M116.8 55.7h0.7M120.8 79.9h0.7M107.9 73.6h0.7M107.7 66.9h0.7M107.5 70.6h0.7M111.2 77.8h0.7M112.9 77.5h0.7M102.4 80.6h0.7M109.4 68h0.7M117.6 66.2h0.7M101.3 65.9h0.7M109.8 78.2h0.7M108.2 76.8h0.7M103.8 65.9h0.7M108.3 61.6h0.7M108.6 68.9h0.7M111.3 64.9h0.7M104.8 66.4h0.7M105.6 63.4h0.7M106.2 60.9h0.7M110.5 77.5h0.7M107.5 70.1h0.7M102.8 62.9h0.7M106.4 64.4h0.7M101.3 71h0.7M107.5 68.4h0.7M103.2 69.9h0.7M103.9 67.2h0.7M108.6 77.3h0.7M111.6 68.1h0.7M114 64.7h0.7M106.7 81.2h0.7M120.3 76.2h0.7M105.7 68.2h0.7M101.1 68.6h0.7M105.3 65.2h0.7M114 67.5h0.7M116.6 80.5h0.7M111 68.1h0.7M104.9 55.6h0.7M109 69.9h0.7M109.7 67.1h0.7M110.2 61h0.7M113.3 49.4h0.7M114.4 70.9h0.7M106.7 59.6h0.7M102.3 75.4h0.7M103.7 70.1h0.7M106.8 86.4h0.7M112.3 62.9h0.7M105 62.1h0.7M113.4 73.6h0.7M111.2 71.6h0.7M105.3 71.5h0.7M107.2 86h0.7M117.1 77.2h0.7M110.8 57.4h0.7M103.3 76.5h0.7M114.1 70.4h0.7M106.4 67.7h0.7M111.8 72.9h0.7M115.6 82.9h0.7M105.9 66.4h0.7M106.3 64.5h0.7M105.3 70.3h0.7M112.3 60.9h0.7M106 74.5h0.7M103.4 81.8h0.7M104.8 69.1h0.7M107.9 80.5h0.7M109.2 72.2h0.7M104.7 72h0.7M109.7 69.5h0.7M107.5 57.5h0.7M104.8 79.7h0.7M115.1 73.2h0.7M105.4 78.5h0.7M104.3 81h0.7M113.7 65.2h0.7M106.4 62h0.7M109 68.9h0.7M108.9 60.3h0.7M113.3 76.6h0.7M106.6 81.9h0.7M102.7 75.3h0.7M111 68.4h0.7M107 76.3h0.7M115.6 83.8h0.7M110 70.3h0.7M117.5 58h0.7M112.2 72.5h0.7M111.3 75h0.7M106.5 71.2h0.7M107.4 80.3h0.7M106.2 67h0.7M111 77.4h0.7M109.9 74.4h0.7M115.4 82.3h0.7M108.7 70.2h0.7M111.1 58.3h0.7M104.8 65.3h0.7M108.5 68.9h0.7M120.6 80.9h0.7M109.7 89.3h0.7M107.5 69.1h0.7M114.1 79.7h0.7M112.5 82.2h0.7M105.6 65.9h0.7M103.7 71.2h0.7M112.9 65.1h0.7M104.7 60.5h0.7M118.1 80.7h0.7M108.7 62.6h0.7M102.1 65h0.7M107.7 61.9h0.7M106.4 80.5h0.7M107.6 72.3h0.7M106.8 66h0.7M102.1 65.8h0.7M112.4 66.5h0.7M109.3 60.5h0.7M110.6 76.5h0.7M105.5 77.7h0.7M102.9 70.5h0.7M116.5 73.9h0.7M101.6 78.6h0.7M110.4 70.2h0.7M109.1 65.5h0.7M113.6 84.5h0.7M103.1 73.9h0.7M117.1 63.5h0.7M107.9 66.8h0.7M107.1 72h0.7M109 78.8h0.7M110.3 80.3h0.7M112.9 81.5h0.7M104 73.6h0.7M105.6 64.5h0.7M117.9 76.8h0.7M107.8 55.5h0.7M106.3 77.1h0.7M106.5 67h0.7M115.3 71.4h0.7M105.8 70.2h0.7M106.3 79.2h0.7M110.6 71.9h0.7M105.6 69.2h0.7M116.5 71.8h0.7M111 60.5h0.7M109.2 77.3h0.7M114.3 75.9h0.7M110.6 74.9h0.7M113.2 88.8h0.7M108.6 65.6h0.7M110.7 71.6h0.7M110.9 78.4h0.7M108.4 68.4h0.7M109.2 62.5h0.7M109 65.2h0.7M109.9 73.1h0.7M106.4 62h0.7M107.8 66.4h0.7M106.8 76.6h0.7M112.6 63.1h0.7M112.5 83.4h0.7M113.5 75.4h0.7M107.1 84.7h0.7M105.9 59.4h0.7M108 73.8h0.7M102.1 60.6h0.7M118 75.4h0.7M111.7 68.2h0.7M114.6 68.5h0.7M106.1 71.2h0.7M102.1 67.5h0.7M104.7 77.4h0.7M108.4 78.4h0.7M107.3 55.1h0.7M112.2 79.6h0.7M107.2 57.7h0.7M105 73.9h0.7M114.8 71h0.7M104.6 64.7h0.7M112.9 79.7h0.7M102.7 58.9h0.7M101 64.5h0.7M108.4 74.9h0.7M105 58.7h0.7M105.4 65.7h0.7M115.5 81h0.7M115.2 74.6h0.7M105.4 70.2h0.7M109 69.6h0.7M116.1 85.1h0.7M112.2 70.2h0.7M108.3 76h0.7M108.6 79.8h0.7M104.1 52.7h0.7M113.2 73.2h0.7M110.4 72.9h0.7M108.5 68.2h0.7M105.4 80h0.7M106.1 70.8h0.7M113.9 80.9h0.7M105.5 72.9h0.7M102.2 71h0.7M109.2 72h0.7M108.4 74.6h0.7M108 67.9h0.7M102.9 63.6h0.7M127.5 71.8h0.7M105.9 62.1h0.7M100.7 70.3h0.7M102.7 75.3h0.7M120.8 77.8h0.7M122.1 71.4h0.7M118.2 55.2h0.7M116.3 84.2h0.7M118.5 71.8h0.7M116.2 79.1h0.7M111.8 66.8h0.7M115.1 66.8h0.7M135.2 68.8h0.7M122.2 68.2h0.7M113.6 67.3h0.7M114.8 55h0.7M112.9 63.4h0.7M122.5 78.9h0.7M117.6 83.1h0.7M119.5 69.9h0.7M122.8 48.4h0.7M107 57.3h0.7M102.2 71.6h0.7M114.8 72.8h0.7M110.9 75h0.7M119.7 65.7h0.7M121.1 62.5h0.7M129.1 61.3h0.7M109.4 57h0.7M112.5 82.7h0.7M104.9 84.9h0.7M125.7 77.5h0.7M106.5 76.5h0.7M121.4 71.7h0.7M136.1 70h0.7M117.7 88.4h0.7M124.3 66.2h0.7M107.7 55.1h0.7M119.5 80h0.7M117.8 73.5h0.7M121.7 71h0.7M119.1 79.7h0.7M124.7 78.5h0.7M113 76.6h0.7M127.8 75.6h0.7M101.9 59.7h0.7M110.7 69.3h0.7M104.7 76.9h0.7M101.6 82.7h0.7M118.6 53.8h0.7M114.8 65.5h0.7M112.3 70.8h0.7M101 66h0.7M134.2 69.7h0.7M102.3 72.6h0.7M125.2 84.1h0.7M106 66.3h0.7M114.1 67.5h0.7M116 81.5h0.7M117.5 70.7h0.7M110.2 86.9h0.7M119.3 72.3h0.7M104.9 85.6h0.7M124 82.4h0.7M132.5 57.2h0.7M113.1 66.2h0.7M105 67.5h0.7M117.4 76.2h0.7M110.8 54.9h0.7M117.6 77.1h0.7M132.9 85.5h0.7M112.3 57.2h0.7M138.8 70.9h0.7M114.1 77.4h0.7M117.1 84.4h0.7M102 58.6h0.7M113.8 56.9h0.7M106.1 81.4h0.7M115 68.9h0.7M106.5 67.7h0.7M111.8 57.8h0.7M119.9 58.4h0.7M124.7 69.7h0.7M115 61h0.7M130 89.3h0.7M132.9 85.2h0.7M125.4 67.2h0.7M125 68.8h0.7M111.6 54.8h0.7M112.7 73.4h0.7M111.5 57.4h0.7M121.1 81.5h0.7M111.3 76.9h0.7M121.9 62h0.7M111.8 49.6h0.7M101.9 70.1h0.7M103.4 70.3h0.7M115.7 48.8h0.7M107.3 83.2h0.7M112.3 70.4h0.7M105.1 50.1h0.7M110.3 59.4h0.7M113.2 49.2h0.7M104.7 69.9h0.7M103.2 75h0.7M103.8 64.8h0.7M125.1 78.8h0.7M108.9 52.1h0.7M117.2 71.3h0.7M124.6 74.7h0.7M104.9 65.6h0.7M111.2 68.6h0.7M137 83.3h0.7M114.9 67.3h0.7M105.4 56.4h0.7M102.8 44.8h0.7M125.8 86.6h0.7M102.5 87.3h0.7M118.7 44.8h0.7M112.3 58.7h0.7M123.6 77.5h0.7M104.5 78.5h0.7M111.1 58.5h0.7M103 45.4h0.7M103.7 75.6h0.7M111 77.2h0.7M100.7 74.8h0.7M110 69.6h0.7M102.2 74.8h0.7M102.5 59.8h0.7M119.4 72.9h0.7M104.5 79.5h0.7M117.3 81.5h0.7M110.3 81.9h0.7M107.4 55.8h0.7M112 54.4h0.7M124.7 80.9h0.7M120.6 68.1h0.7M116.3 64.3h0.7M111.4 67.9h0.7M116.9 60.5h0.7M100.7 68.7h0.7M107 72.8h0.7M107 53.6h0.7M119.5 74.3h0.7M119.4 67.9h0.7M108.5 81.1h0.7M117.2 70.1h0.7M113 75.7h0.7M104.3 69.4h0.7M102.5 46.4h0.7M114.1 70.7h0.7M118.6 77h0.7M119.1 79.7h0.7M101.5 78.3h0.7M139 71.9h0.7M121.3 82.7h0.7M127.5 59.5h0.7M115.8 75.1h0.7M124.6 63.8h0.7M112.3 65.2h0.7M110.4 66.9h0.7M110.5 49.9h0.7M111.7 69.6h0.7M105.1 59.8h0.7M103.3 83h0.7M121.3 70.1h0.7M102.3 70.8h0.7M106 82.7h0.7M123.2 71.4h0.7M118.2 62.7h0.7M128.5 71.2h0.7M106.7 48.4h0.7M133.6 63.5h0.7M102.3 63.7h0.7M124.2 73.6h0.7M111.8 69.2h0.7M120.6 71.4h0.7M113.6 68.8h0.7M100.9 79.5h0.7M105.1 52.8h0.7M107.6 67.9h0.7M120.3 56.2h0.7M115.9 58.7h0.7M100.6 67.1h0.7M110.6 51.5h0.7M103.2 81.7h0.7M101.4 76.6h0.7M128.1 67.6h0.7M105.2 73.4h0.7M124.3 75.8h0.7M115.3 68.4h0.7M122.1 63.7h0.7M128 74h0.7M108.7 50.7h0.7M107.6 70h0.7M124.5 56.1h0.7M110.7 61.4h0.7M104.4 75.7h0.7M117.2 67.2h0.7M113.3 59.2h0.7M101.5 57.8h0.7M111.5 60h0.7M107.8 58.5h0.7M114.4 57.8h0.7M111.8 69.9h0.7M121.7 64.4h0.7M119.6 64.9h0.7M121.9 71.4h0.7M109.2 48.5h0.7M105.2 75.1h0.7M105.9 74.1h0.7M115.2 57.1h0.7M106.7 60.4h0.7M113.9 48.3h0.7M103.3 74.5h0.7M113.5 77.3h0.7M120.6 59.8h0.7M112.3 69.9h0.7M103.8 77h0.7M117 82.7h0.7M108.5 75.1h0.7M111.4 58.9h0.7M111.2 51.3h0.7M110.2 70.3h0.7M119 60.2h0.7M138.3 79.2h0.7M104.4 59.3h0.7M129.7 62.6h0.7M110.9 67.8h0.7M104.6 59h0.7M125 88.2h0.7M109.2 75.5h0.7M116.6 71.7h0.7M110.6 81.3h0.7M117.7 68.5h0.7M109.7 78.1h0.7M106 59.5h0.7M109.2 62.8h0.7M124.7 76.9h0.7M111.1 63.2h0.7M126.2 78.3h0.7M132.9 85.5h0.7M109.8 62.5h0.7M109.1 70h0.7M119.9 76.7h0.7M127.8 58.2h0.7M112.3 54.1h0.7M101.7 59.3h0.7M105.5 56.6h0.7M108.8 78.1h0.7M100.9 40.9h0.7M106 76.3h0.7M106.4 71.3h0.7M101.2 80.1h0.7M116.3 81.5h0.7M109.2 81.6h0.7M112.7 64.1h0.7M105.6 67.5h0.7M132.7 70.8h0.7M141 82.3h0.7M137.7 83.1h0.7M152.7 70.4h0.7M142.1 72.2h0.7M134.8 79.1h0.7M121 81.6h0.7M146.7 81.3h0.7M145.2 88.9h0.7M137.1 84.6h0.7M151.6 81h0.7M125.7 77.1h0.7M137.6 68.3h0.7M139.5 82.5h0.7M137.9 76.9h0.7M151.8 74.3h0.7M132.4 78.2h0.7M149 81.6h0.7M140.6 75h0.7M149.9 83.3h0.7M126.1 80h0.7M120.7 87h0.7M144.9 74.2h0.7M129.6 76.2h0.7M125.9 81.4h0.7M135.9 67.4h0.7M139.8 85.1h0.7M129.8 75.9h0.7M154.6 79.1h0.7M135.5 79.1h0.7M146.2 72h0.7M139.2 68.2h0.7M127.3 68.7h0.7M146.8 79.9h0.7M145.9 85.3h0.7M140.4 79.4h0.7M143.2 80.8h0.7M131.5 76.3h0.7M138.8 78.2h0.7M134 77.2h0.7M107.8 39.5h0.7M112.2 57.5h0.7M113.4 60.8h0.7M113.2 75.1h0.7M166.3 53.5h0.7M106.3 87.2h0.7M107.3 70.6h0.7M157.4 61.9h0.7M167.4 44.2h0.7M154.7 84.1h0.7M167.8 81.1h0.7M133.5 63.4h0.7M164.2 56.4h0.7M120 38.1h0.7M116.2 43.9h0.7M170.2 52.7h0.7M127.3 87.7h0.7M152.5 59.3h0.7M108.9 55.7h0.7M122.7 86.3h0.7M132.3 87.6h0.7M121.1 39h0.7M168 40.4h0.7M159.7 67.8h0.7M122.1 80.3h0.7M133 88.1h0.7M142.6 86h0.7M170.3 56.3h0.7M152.5 74.7h0.7M149.8 37.7h0.7M152.3 76.5h0.7M115.4 41.5h0.7M106 65.1h0.7M108.9 81h0.7M131.9 88.8h0.7M155.7 59h0.7M114.6 58.9h0.7M146.2 81.7h0.7M167.4 53.5h0.7M102.7 71.4h0.7" stroke="#222" stroke-width="0.68" stroke-opacity="0.75" fill="none"/>
<path d="M100 88.3h-1.7M100 87h-1.7M100 86h-1.7M100 85.1h-1.7M100 84.3h-1.7M100 83.6h-1.7M100 83h-2.4M100 79h-1.7M100 76.7h-1.7M100 75h-1.7M100 73.7h-1.7M100 72.7h-1.7M100 71.8h-1.7M100 71h-1.7M100 70.3h-1.7M100 69.7h-2.4M100 65.7h-1.7M100 63.4h-1.7M100 61.7h-1.7M100 60.4h-1.7M100 59.4h-1.7M100 58.5h-1.7M100 57.7h-1.7M100 57h-1.7M100 56.4h-2.4M100 52.4h-1.7M100 50.1h-1.7M100 48.4h-1.7M100 47.1h-1.7M100 46.1h-1.7M100 45.2h-1.7M100 44.4h-1.7M100 43.7h-1.7M100 43.1h-2.4M102.2 90v1.6M104.5 90v1.6M106.3 90v1.6M107.8 90v1.6M109.1 90v1.6M110.2 90v1.6M111.1 90v1.6M112 90v2.3M117.7 90v1.6M121 90v1.6M123.3 90v1.6M125.1 90v1.6M126.6 90v1.6M127.9 90v1.6M129 90v1.6M129.9 90v1.6M130.8 90v2.3M136.5 90v1.6M139.8 90v1.6M142.1 90v1.6M143.9 90v1.6M145.4 90v1.6M146.7 90v1.6M147.8 90v1.6M148.7 90v1.6M149.6 90v2.3M155.3 90v1.6M158.6 90v1.6M160.9 90v1.6M162.7 90v1.6M164.2 90v1.6M165.5 90v1.6M166.6 90v1.6M167.5 90v1.6M168.4 90v2.3M174.1 90v1.6" stroke="#111" stroke-width="0.85" fill="none"/>
<rect x="100" y="35.5" width="76.5" height="54.5" fill="none" stroke="#333" stroke-width="0.8"/>
<path d="M22.5 144.2h0.7M29.8 142.8h0.7M17.8 144.3h0.7M36.8 155.2h0.7M24.6 147.6h0.7M30.4 153.5h0.7M20.9 156.9h0.7M24.7 153.1h0.7M21.6 156.2h0.7M24.6 144.4h0.7M38.3 146.5h0.7M26 144.5h0.7M30.3 149.7h0.7M24.2 147.5h0.7M22.4 146.4h0.7M17.1 153.4h0.7M31.6 144h0.7M18.6 150.5h0.7M40.3 148.3h0.7M24 148.1h0.7M27.6 148.4h0.7M32.8 152.5h0.7M29.5 154.7h0.7M24.5 147h0.7M44.8 142h0.7M16.1 140.5h0.7M28.3 145.1h0.7M32.7 141.4h0.7M25.1 147.6h0.7M19.2 153h0.7M23.5 150.6h0.7M22.7 149.5h0.7M23.2 149.3h0.7M25.4 146.5h0.7M28.8 148.3h0.7M19.9 145.2h0.7M28.8 153.8h0.7M17.7 147.5h0.7M28.8 152.8h0.7M30.5 144.7h0.7M26.2 152.2h0.7M27.5 148.2h0.7M18.5 149.6h0.7M25.6 149.1h0.7M35.5 153.3h0.7M21 149.8h0.7M24 149.4h0.7M36.3 152.3h0.7M26.3 146.6h0.7M25 150.3h0.7M22.8 153h0.7M26.1 144.7h0.7M38.9 138.5h0.7M24.3 148.6h0.7M32.3 153h0.7M35.2 154.6h0.7M28 149.4h0.7M32.4 148.9h0.7M18 147.4h0.7M30.2 151.2h0.7M19 153.3h0.7M28 143.6h0.7M29 152.6h0.7M29.4 147.9h0.7M20.9 153h0.7M27.4 149h0.7M23.5 145.3h0.7M33 151.8h0.7M21.7 154.5h0.7M24.6 145.4h0.7M32.2 154h0.7M23.5 144.6h0.7M25.6 140.2h0.7M26.3 154.5h0.7M27.7 146.3h0.7M30.5 147.2h0.7M34 147.7h0.7M38.9 147.7h0.7M27.2 145.6h0.7M17.9 150.2h0.7M28.2 145.5h0.7M29.5 147.5h0.7M22.5 148.7h0.7M28.5 151.6h0.7M33.8 150.4h0.7M21.4 146.5h0.7M28.3 144.7h0.7M24.9 147.6h0.7M25.4 149.7h0.7M32.6 154.9h0.7M31.6 152.6h0.7M19.2 152.7h0.7M34.2 144.1h0.7M42 147h0.7M26.4 146.1h0.7M22.4 152.9h0.7M27.6 147.6h0.7M33.3 145.6h0.7M20.6 147h0.7M21.3 151.5h0.7M24.5 145.2h0.7M23.1 141.8h0.7M27 149.4h0.7M29.9 148.1h0.7M28.5 145.6h0.7M26.2 149.6h0.7M18.3 151.1h0.7M26.9 149.2h0.7M23 156.2h0.7M26 146.2h0.7M20.6 151.1h0.7M24.7 146.2h0.7M21.4 152.4h0.7M26.5 152.8h0.7M25.9 144.7h0.7M31.5 150.1h0.7M21.9 147.9h0.7M19.9 152h0.7M23.4 150.7h0.7M27.6 148.1h0.7M28.3 148.1h0.7M18.5 147.5h0.7M18.6 151.7h0.7M30.1 146.9h0.7M29.9 149.9h0.7M32.1 145.6h0.7M26.2 145.4h0.7M21.7 153.9h0.7M29.1 151.8h0.7M21 141.7h0.7M15.2 150.3h0.7M33 152.3h0.7M21.4 153.9h0.7M24.8 151.2h0.7M24.8 154.7h0.7M22.7 141.3h0.7M24 149.7h0.7M27.7 146.4h0.7M24.5 144.9h0.7M24.5 149.3h0.7M27.5 154.9h0.7M28.7 144.8h0.7M26.4 149h0.7M19.7 151.6h0.7M38 151.4h0.7M30.9 152.8h0.7M25.2 152.5h0.7M20.9 149.6h0.7M30.4 153.7h0.7M24.2 147.9h0.7M28.9 148.7h0.7M26.9 151.9h0.7M21.2 152.1h0.7M28.4 148h0.7M18.1 146.7h0.7M25.7 152.4h0.7M27.2 144.9h0.7M31.4 150.4h0.7M28.7 145.5h0.7M19 152.3h0.7M34.8 150.3h0.7M24.8 147.4h0.7M15.2 152.5h0.7M25.4 153.4h0.7M21.5 152.8h0.7M21.5 151.1h0.7M34.6 146.5h0.7M31.7 149h0.7M20.1 149.7h0.7M30 146.4h0.7M24.3 147h0.7M21.2 148.2h0.7M31.2 147.2h0.7M33.8 147.6h0.7M21.7 152.8h0.7M34.8 146.7h0.7M29.7 144.8h0.7M23.5 147.7h0.7M30.4 144.5h0.7M22.8 146.5h0.7M26.6 144.6h0.7M27.3 143.6h0.7M31.2 144.3h0.7M33.8 146h0.7M19.2 150.7h0.7M38.7 151.1h0.7M30.1 144.8h0.7M32.3 149.5h0.7M26 153.9h0.7M20.8 152.9h0.7M31.2 146.8h0.7M26.8 149.4h0.7M29.6 145.5h0.7M24.6 149.3h0.7M26.2 149.1h0.7M27.6 148.3h0.7M22.9 152.7h0.7M22 147.9h0.7M20.5 144.9h0.7M28.8 148.8h0.7M25.2 150.6h0.7M24.9 151.4h0.7M37.2 150.2h0.7M24.3 154.9h0.7M30.4 143.1h0.7M34.3 149.7h0.7M31.3 144.9h0.7M20.7 146.7h0.7M29.4 145h0.7M21.6 152.4h0.7M22 149.4h0.7M20.4 143h0.7M25.5 148.6h0.7M17.1 152.4h0.7M31.1 152.1h0.7M22.8 144.9h0.7M25.4 149.6h0.7M24.9 146.9h0.7M19.8 146.4h0.7M25.5 147.3h0.7M36.3 148h0.7M28.8 147.4h0.7M24.9 145.6h0.7M23 143.7h0.7M19.5 150.5h0.7M25.2 147h0.7M30.5 147h0.7M28.7 147.7h0.7M32 152.4h0.7M26.4 152.9h0.7M29.1 154.5h0.7M25.2 143.5h0.7M27.3 149.8h0.7M23.7 148.3h0.7M24.3 144.6h0.7M36.6 146.3h0.7M19.4 143.4h0.7M20.8 148.9h0.7M35.1 151.1h0.7M21.5 144.6h0.7M19.1 148.7h0.7M31.3 147.3h0.7M35.9 155.8h0.7M27 141.4h0.7M32.7 148.7h0.7M30.1 152.5h0.7M19.8 149.2h0.7M27.1 146.3h0.7M30.3 148.5h0.7M23.5 155.6h0.7M27 154.8h0.7M25 152.7h0.7M21.3 149.5h0.7M32.7 141.3h0.7M29.3 148h0.7M32.7 149.6h0.7M25.5 144.5h0.7M44.1 146.4h0.7M24 146.4h0.7M24.1 149.8h0.7M17.7 152.7h0.7M24.4 151.1h0.7M24.1 147.6h0.7M21.9 150.1h0.7M28.5 145.5h0.7M24 152.8h0.7M31.3 148.6h0.7M17.2 147.7h0.7M21.5 153.4h0.7M15.5 152.2h0.7M16.5 147h0.7M17.3 146.5h0.7M23.3 150.3h0.7M22.3 151.4h0.7M36.7 149.6h0.7M18.9 148.4h0.7M25.3 147.7h0.7M33.1 153.1h0.7M38.3 150.8h0.7M30.1 146.1h0.7M22.3 152.2h0.7M26.9 145h0.7M22.4 138.1h0.7M25.9 144.7h0.7M25.6 144.8h0.7M20.3 147.2h0.7M43.1 144.8h0.7M18.7 147.1h0.7M32.5 151.8h0.7M30.2 147.8h0.7M26.7 146.3h0.7M24.8 146.1h0.7M17 145.5h0.7M37.8 150.4h0.7M21.3 148.6h0.7M23.2 153.3h0.7M25.8 146.7h0.7M30.1 150.1h0.7M21.8 146.3h0.7M26.8 143.2h0.7M20.3 152.5h0.7M31.3 152.9h0.7M23.2 146.9h0.7M24.3 147.3h0.7M33.8 148.2h0.7M34.3 146.5h0.7M28.3 154.7h0.7M21.4 146.7h0.7M22.3 143.3h0.7M24.1 146.7h0.7M39.5 147.3h0.7M31.8 148.9h0.7M27.7 151.5h0.7M22.5 149.1h0.7M26.8 154.8h0.7M34.6 149.6h0.7M17.7 152.1h0.7M25.6 153.1h0.7M26.3 149.6h0.7M30 146.4h0.7M21.9 157.1h0.7M20.6 152.3h0.7M30.1 151.9h0.7M34.3 144.3h0.7M31.8 141.7h0.7M26.2 150.2h0.7M32.2 152.8h0.7M20.2 148h0.7M25 146.5h0.7M20.9 146.7h0.7M33 153.8h0.7M30.5 154.9h0.7M26.5 145.2h0.7M21.9 149.7h0.7M32.2 153.3h0.7M20.4 152.4h0.7M22.7 151.1h0.7M31.6 154.2h0.7M22.7 149.8h0.7M28.5 147.5h0.7M26.5 151.1h0.7M15.8 146.7h0.7M40.1 150.6h0.7M22.5 142.5h0.7M20 150.8h0.7M30.1 150.6h0.7M29.6 146.9h0.7M35.7 145h0.7M29 148.1h0.7M15.4 152.2h0.7M24.2 151.5h0.7M33.7 149.6h0.7M21.9 148.2h0.7M25.5 154.1h0.7M31.2 154.6h0.7M30.6 146.3h0.7M31.6 152.4h0.7M25.2 150.6h0.7M24 144.5h0.7M25.4 151.7h0.7M23.7 141.1h0.7M21 152.8h0.7M27.3 153h0.7M21.3 147.5h0.7M19.8 146.2h0.7M29 149.5h0.7M22.9 150h0.7M17.9 147.6h0.7M16.7 143.7h0.7M17.6 145.1h0.7M35.6 153.9h0.7M33.6 146.9h0.7M29.7 145h0.7M22.6 149.9h0.7M16.1 149.7h0.7M29.7 141.7h0.7M25.2 149.5h0.7M19 151h0.7M26.7 146.4h0.7M36 149.9h0.7M30.4 155.6h0.7M22.9 148.2h0.7M15.3 148.2h0.7M29.3 149.7h0.7M18.2 146h0.7M26.6 150.1h0.7M20.3 148.2h0.7M21 151.2h0.7M29.8 147h0.7M23.1 144.6h0.7M23 156.8h0.7M25.8 152h0.7M29.5 154.2h0.7M23.9 145.8h0.7M32.3 152.3h0.7M21.8 152.9h0.7M25.8 148.8h0.7M37.2 150.9h0.7M27.8 147.9h0.7M27.1 152.7h0.7M28.7 146.3h0.7M28.6 148.6h0.7M27.8 148.3h0.7M23.5 141.2h0.7M16.7 156.2h0.7M30.1 147.4h0.7M27.9 141h0.7M27.4 152.5h0.7M27.1 144.3h0.7M31.8 147.1h0.7M22.4 149.7h0.7M24 156.3h0.7M25 156.6h0.7M28.7 144.6h0.7M25.9 149.2h0.7M34.7 153.6h0.7M41.6 146.6h0.7M23.2 157.3h0.7M20.4 150.3h0.7M35.8 145.4h0.7M23.8 146.3h0.7M29.1 150.4h0.7M25.7 151.3h0.7M21.1 147.7h0.7M28.8 156.2h0.7M25.7 149.2h0.7M34 149.3h0.7M33.9 149.9h0.7M33 149.6h0.7M20.2 146h0.7M28.5 155.7h0.7M37.4 147.9h0.7M41.3 145h0.7M20.7 152.3h0.7M16.5 152.3h0.7M28.2 151.2h0.7M18.5 150.4h0.7M31.7 148.8h0.7M32.2 149.1h0.7M28 147.9h0.7M17.5 148.4h0.7M29 146.3h0.7M34 148.2h0.7M21.2 153.4h0.7M24.8 143.6h0.7M23.2 145.8h0.7M24.8 145.7h0.7M26.3 150.6h0.7M22.4 148.3h0.7M24.9 152h0.7M21.5 151.7h0.7M33.6 148.3h0.7M19.9 147.9h0.7M18.5 148.4h0.7M23.6 150.9h0.7M26.6 150.5h0.7M25.6 150h0.7M18.9 151.4h0.7M34 153h0.7M17.6 150.5h0.7M15.9 151.7h0.7M24.6 147.3h0.7M21.3 148.1h0.7M25.9 145.5h0.7M26.3 149.9h0.7M29.2 148.8h0.7M25.9 157.3h0.7M32.1 150.2h0.7M17.3 151.2h0.7M29.5 139.4h0.7M24.9 150.4h0.7M26.1 149.4h0.7M25 154h0.7M28.3 148h0.7M24.5 156.5h0.7M20.6 147.1h0.7M27.9 149.5h0.7M27.8 153.9h0.7M33 150.5h0.7M26.2 148.8h0.7M24.5 152.6h0.7M18.1 145.3h0.7M23.1 145.5h0.7M21.4 153.3h0.7M17.8 148.1h0.7M22.4 145.4h0.7M16.7 149.3h0.7M23.5 153h0.7M37.4 147.9h0.7M20.9 148h0.7M28.8 152.4h0.7M20 150.7h0.7M25.7 153.1h0.7M23.4 148.3h0.7M20.6 144.2h0.7M27.6 151.6h0.7M32.9 150h0.7M23.1 145.7h0.7M18.7 146.4h0.7M28 149.3h0.7M24.1 145.2h0.7M25.8 150.9h0.7M19.5 144.1h0.7M23.9 149.9h0.7M24.3 154.6h0.7M26.8 145.4h0.7M30.8 146.7h0.7M30.2 149.4h0.7M33.6 145.4h0.7M30.4 150.5h0.7M20.3 151.5h0.7M40 150.3h0.7M21.2 148.5h0.7M34 149.9h0.7M35.2 146.7h0.7M34.1 143.3h0.7M24.9 147.9h0.7M22.9 153.4h0.7M22.2 150.3h0.7M37.5 152h0.7M23.4 146.4h0.7M31.5 153h0.7M27.5 156.8h0.7M30.8 140.7h0.7M20.4 151.9h0.7M23.5 152h0.7M42 146.3h0.7M39.8 148.7h0.7M16.8 149.4h0.7M31.6 146.9h0.7M35.8 145.9h0.7M24.7 152.3h0.7M24.6 147h0.7M25.8 151.4h0.7M36.8 153.9h0.7M37.7 148.9h0.7M15.6 148.9h0.7M23.4 145.4h0.7M22.7 148.8h0.7M26.3 152.3h0.7M20.2 153.1h0.7M26.2 151.6h0.7M33.8 144.5h0.7M36 146.4h0.7M28.5 152.9h0.7M31.7 143.4h0.7M27 153.1h0.7M25.2 148.7h0.7M26.4 154.9h0.7M22.6 145.6h0.7M19 147.1h0.7M24.5 150.3h0.7M25.5 142.8h0.7M16.1 151.5h0.7M30.5 144.1h0.7M31.9 140.2h0.7M40.6 151.1h0.7M15.6 150.8h0.7M25.8 147.4h0.7M23.7 148.2h0.7M25.3 145.7h0.7M22.4 151h0.7M29.3 144.2h0.7M22.9 154.6h0.7M30.5 155h0.7M17.5 145.3h0.7M23.6 145.2h0.7M19.1 146.5h0.7M24.8 152h0.7M29.5 142.7h0.7M35.4 147.8h0.7M19.7 148.9h0.7M23.5 144h0.7M35.8 146.9h0.7M22.2 150.9h0.7M36.5 150.7h0.7M20.3 150.6h0.7M33 150.4h0.7M30.1 147.3h0.7M25.6 142.9h0.7M21.5 144.9h0.7M26 154.4h0.7M20.1 148.7h0.7M33.3 146.2h0.7M21 153.4h0.7M28.3 150.9h0.7M31.2 146.3h0.7M27.4 146.6h0.7M21.4 149.5h0.7M28.7 144.4h0.7M21.1 151.2h0.7M27 151.4h0.7M24 146.1h0.7M30.9 151.2h0.7M21.2 151.4h0.7M35.9 148h0.7M19.9 149.9h0.7M26.6 151h0.7M17.1 149.9h0.7M31.6 151.5h0.7M30 153.3h0.7M20.8 153.4h0.7M27.3 145.4h0.7M24.1 150h0.7M28.1 153.9h0.7M27.2 147.2h0.7M39.8 147.8h0.7M20.8 152.3h0.7M23.4 146.2h0.7M19.3 153.3h0.7M19.3 149.4h0.7M23.1 148.3h0.7M20.8 149.6h0.7M29.8 152.8h0.7M23.7 144.8h0.7M16.6 149h0.7M26.2 149.5h0.7M17.2 146.7h0.7M21.3 151.4h0.7M23.4 151.2h0.7M34.2 137.4h0.7M25.9 155h0.7M22.8 148.7h0.7M27.1 141.3h0.7M52.6 147.3h0.7M35.5 145.6h0.7M44 154.4h0.7M41.5 153.3h0.7M36.3 155.7h0.7M32.9 148.8h0.7M37.4 143.1h0.7M30.2 144.2h0.7M25.5 142.8h0.7M19.2 149.1h0.7M29.8 152.6h0.7M27.5 151.5h0.7M36 144.2h0.7M25.7 145.1h0.7M52.9 144.3h0.7M33.7 143.8h0.7M36.1 141.1h0.7M39 149h0.7M24.1 141.5h0.7M46.9 144.9h0.7M44.4 134.8h0.7M48.2 148.2h0.7M39.5 151.4h0.7M24.5 148.8h0.7M15.8 140.7h0.7M29.9 152.1h0.7M30.3 141.3h0.7M37.9 148.5h0.7M36.8 146.5h0.7M25.6 153.8h0.7M43.6 141.4h0.7M16.3 153.4h0.7M32.5 148.3h0.7M17.7 153.6h0.7M30.6 149.3h0.7M32.8 145.2h0.7M32.9 148.8h0.7M36.4 150.2h0.7M25.5 154.5h0.7M21.3 154.3h0.7M40.4 152.9h0.7M53.4 148h0.7M32 154.8h0.7M33 153.5h0.7M27.1 155.8h0.7M32.4 137.6h0.7M40.5 147h0.7M18.8 146.4h0.7M25.4 154.4h0.7M32.2 147.7h0.7M28.3 143.1h0.7M21.4 145.5h0.7M26 141.7h0.7M24.1 153.6h0.7M33.5 148.1h0.7M32.3 146.8h0.7M15.4 152.9h0.7M53.3 150.9h0.7M15.1 151h0.7M24.7 146.6h0.7M32.9 139.3h0.7M26.1 145.4h0.7M17.5 151.5h0.7M46.6 150.4h0.7M39.9 152.2h0.7M27.8 151.3h0.7M43.1 145.8h0.7M26.9 140.5h0.7M38.4 150.1h0.7M31.4 155.3h0.7M29.4 152.3h0.7M43.8 143.6h0.7M18.9 150.3h0.7M27.9 144.9h0.7M27.1 144.1h0.7M30 146h0.7M47.3 142.4h0.7M34.9 148.5h0.7M46 142.8h0.7M21.2 146h0.7M24.2 142.7h0.7M42 156.4h0.7M26.8 144h0.7M22.6 151.1h0.7M35.4 150.4h0.7M29.9 148h0.7M24.7 145.7h0.7M30.1 150.9h0.7M38.8 146.9h0.7M42 143h0.7M49.6 153.3h0.7M44.4 156.7h0.7M15.3 147.5h0.7M33.7 153.8h0.7M29.3 141h0.7M42 147.2h0.7M33.4 146.3h0.7M27.3 140.6h0.7M35.9 144.7h0.7M28.1 153.3h0.7M37.6 141.5h0.7M26.6 148.1h0.7M29.5 142.3h0.7M29.3 153.4h0.7M42.2 156h0.7M36.9 134.3h0.7M25.5 145.1h0.7M38.6 148h0.7M32.5 150.7h0.7M26.1 155.5h0.7M48.7 152.5h0.7M22.4 149.4h0.7M39.3 152h0.7M20.9 153.3h0.7M36.5 151.2h0.7M23.9 147.9h0.7M23.6 146.5h0.7M25.4 146.3h0.7M29.5 148.6h0.7M21.7 147.3h0.7M27.5 150.7h0.7M33.4 146.1h0.7M19.4 139.1h0.7M18.3 156.8h0.7M26.8 146h0.7M26.8 145.1h0.7M21.5 148.4h0.7M27.5 143.1h0.7M39.8 150h0.7M40.5 144.4h0.7M45.8 145.5h0.7M30.6 145.2h0.7M26.9 156.6h0.7M30 143.1h0.7M36.1 155.1h0.7M38.4 152.1h0.7M26.7 153.5h0.7M19.7 141.6h0.7M25.6 146.7h0.7M42 142.7h0.7M41.1 143.8h0.7M28.1 140.2h0.7M30.8 148.3h0.7M24.1 137.6h0.7M22.8 150.5h0.7M28.7 145.1h0.7M30.7 151.6h0.7M28.3 143.8h0.7M37.2 144.4h0.7M32.5 153.3h0.7M42.9 156.7h0.7M39.8 148.8h0.7M26.3 149.1h0.7M35.8 143.5h0.7M45.3 139.4h0.7M39.6 141.1h0.7M16.5 145.3h0.7M25.4 140.7h0.7M35.3 147.4h0.7M43.3 142.5h0.7M26 153.3h0.7M23.5 155.7h0.7M46 140.6h0.7M21.8 138h0.7M19.2 142.8h0.7M33.2 154.2h0.7M54.8 146.1h0.7M37.5 149.2h0.7M36.3 156.5h0.7M31.8 152.7h0.7M34.1 147.5h0.7M20.8 145.8h0.7M28.7 146h0.7M24.7 144.2h0.7M38 146.7h0.7M27.2 146.8h0.7M43 145.1h0.7M44.1 143.3h0.7M45.4 151.4h0.7M23.1 150.5h0.7M41 142.8h0.7M26 149.7h0.7M26.2 146.4h0.7M28.7 149.7h0.7M37.1 156.1h0.7M27.1 140.1h0.7M23.7 146.2h0.7M40.3 137h0.7M21.6 147.3h0.7M35.8 150.2h0.7M38 147.2h0.7M25.9 154.6h0.7M47.5 150.1h0.7M30.2 143.4h0.7M51.7 150.2h0.7M35.3 139.3h0.7M26.7 146.9h0.7M45.4 147h0.7M15.7 143.5h0.7M36 148.7h0.7M29 147.1h0.7M29.9 150h0.7M23.3 146.5h0.7M31.1 142.1h0.7M33.4 136.1h0.7M35.6 147.4h0.7M15.6 155.4h0.7M20.5 154.6h0.7M27.8 156.8h0.7M26.1 153.6h0.7M25 137.8h0.7M32.8 150.6h0.7M32.9 157.1h0.7M20.5 140.2h0.7M31.3 144.2h0.7M27.4 148h0.7M19.6 154h0.7M31.3 153.8h0.7M25.4 144.4h0.7M22.8 143.2h0.7M33.5 148.8h0.7M16.7 139.6h0.7M19.1 138.1h0.7M18.8 139.8h0.7M36.3 141.7h0.7M22.1 147.4h0.7M28.9 150.3h0.7M36.9 151.5h0.7M24.8 154.8h0.7M32.6 144.2h0.7M44.9 141.6h0.7M33.7 154.9h0.7M29.8 149.9h0.7M29.9 151.7h0.7M31 148.1h0.7M36.2 137.7h0.7M31.3 146.4h0.7M50 149.6h0.7M21.4 151.6h0.7M24.4 141.6h0.7M25.5 150.8h0.7M41.5 153.7h0.7M31.1 147.1h0.7M30.7 154.6h0.7M27.2 154.3h0.7M19.9 148h0.7M37 151.8h0.7M30.7 145.2h0.7M19.3 145.8h0.7M45.8 143.8h0.7M37.8 147.9h0.7M16.5 148.6h0.7M36.7 141.6h0.7M15.9 145.9h0.7M36.4 144.7h0.7M33.2 150.5h0.7M28.7 150.5h0.7M42.4 147h0.7M32.1 142.2h0.7M20.7 147.5h0.7M37.4 144.4h0.7M54.3 134h0.7M17 148.7h0.7M33.8 142.9h0.7M32.2 154h0.7M25.6 152h0.7M29.9 143h0.7M21.9 144.7h0.7M42.9 154.3h0.7M31.2 139.5h0.7M23.3 145.8h0.7M31.6 140.8h0.7M23.9 145.5h0.7M48.5 151.6h0.7M36.9 148.5h0.7M21.3 137.6h0.7M36.4 146.1h0.7M28.5 150.8h0.7M26 150.2h0.7M42.5 146.3h0.7M24.7 148.1h0.7M35.5 145.8h0.7M29.4 144.3h0.7M27.7 151h0.7M19.7 147h0.7M29.4 150.9h0.7M17.4 147.5h0.7M18.5 149.7h0.7M31.4 150.4h0.7M26.3 140.3h0.7M22.5 140.7h0.7M21.2 147.7h0.7M40.1 144.5h0.7M20.2 149.1h0.7M39.1 153.2h0.7M27.4 152h0.7M24.8 153.2h0.7M21.5 143.6h0.7M32.6 145.6h0.7M35.7 143.4h0.7M31.4 142.7h0.7M17 141.3h0.7M45.9 145.6h0.7M38.5 147h0.7M40.1 138h0.7M18.1 150.2h0.7M35.5 146.8h0.7M31.9 150.9h0.7M24.8 153.4h0.7M19.4 152.1h0.7M38.3 149.1h0.7M24.8 147.9h0.7M36.7 143.1h0.7M32.3 148.3h0.7M25.6 150.5h0.7M29.3 141.2h0.7M22.9 148.6h0.7M22.7 136.5h0.7M46.9 152.8h0.7M23.6 153.1h0.7M17.4 156.3h0.7M24.6 148.8h0.7M22.3 148.5h0.7M32 148.2h0.7M19.7 152.1h0.7M34.5 148h0.7M58.3 129.9h0.7M61.1 133h0.7M64.1 130.1h0.7M41.8 141.4h0.7M58.8 144.6h0.7M39.3 135.8h0.7M54.6 144.5h0.7M53.9 134h0.7M61.1 133.9h0.7M47.1 142.6h0.7M37.9 125.8h0.7M47.8 143h0.7M50.5 141h0.7M47.1 145.5h0.7M46.5 148.7h0.7M45.7 144.2h0.7M38.1 143.2h0.7M50.4 138.3h0.7M64.5 133.3h0.7M59.2 137.1h0.7M58.8 128.6h0.7M40.4 147h0.7M34.7 144.8h0.7M52.2 138.1h0.7M50.5 141h0.7M42.1 142.7h0.7M38.5 137.9h0.7M25.1 144.4h0.7M23.6 145.8h0.7M47.7 130.8h0.7M45.9 140.7h0.7M40.6 134.1h0.7M43.6 142.2h0.7M56.7 148.6h0.7M20.2 149h0.7M50.5 133h0.7M49.1 152h0.7M46.5 147.9h0.7M58.4 131.9h0.7M15.9 155.9h0.7M64.4 121h0.7M42.5 135h0.7M47.6 138.6h0.7M59.4 130.5h0.7M69.3 119.9h0.7M47.7 156.5h0.7M43.8 143.7h0.7M56.3 133.1h0.7M20.9 147.9h0.7M54.2 122.2h0.7M38.9 144.7h0.7M25 136h0.7M50.1 145.2h0.7M59.7 130h0.7M51.4 124.9h0.7M26.4 148.5h0.7M40 133.6h0.7M21.5 144.6h0.7M73.1 116.6h0.7M31.9 150.7h0.7M20.9 142.2h0.7M45.9 146.5h0.7M44.1 151.8h0.7M44.6 138.4h0.7M50.6 139.7h0.7M26.1 138.3h0.7M42.1 142.2h0.7M29.6 138.9h0.7M35.6 144.2h0.7M39.6 144.8h0.7M49.9 131.2h0.7M41.3 131.6h0.7M46.4 144.1h0.7M32.6 130.7h0.7M51.5 135h0.7M35.1 110.6h0.7M29.8 125.4h0.7M69.7 152.7h0.7M60.1 113h0.7M43.9 112.9h0.7M36.6 135.1h0.7M53.4 114.4h0.7M36.3 151.7h0.7" stroke="#222" stroke-width="0.68" stroke-opacity="0.75" fill="none"/>
<path d="M14.5 156.3h-1.7M14.5 155h-1.7M14.5 154h-1.7M14.5 153.1h-1.7M14.5 152.3h-1.7M14.5 151.6h-1.7M14.5 151h-2.4M14.5 147h-1.7M14.5 144.7h-1.7M14.5 143h-1.7M14.5 141.7h-1.7M14.5 140.7h-1.7M14.5 139.8h-1.7M14.5 139h-1.7M14.5 138.3h-1.7M14.5 137.7h-2.4M14.5 133.7h-1.7M14.5 131.4h-1.7M14.5 129.7h-1.7M14.5 128.4h-1.7M14.5 127.4h-1.7M14.5 126.5h-1.7M14.5 125.7h-1.7M14.5 125h-1.7M14.5 124.4h-2.4M14.5 120.4h-1.7M14.5 118.1h-1.7M14.5 116.4h-1.7M14.5 115.1h-1.7M14.5 114.1h-1.7M14.5 113.2h-1.7M14.5 112.4h-1.7M14.5 111.7h-1.7M14.5 111.1h-2.4M16.7 158v1.6M19 158v1.6M20.8 158v1.6M22.3 158v1.6M23.6 158v1.6M24.7 158v1.6M25.6 158v1.6M26.5 158v2.3M32.2 158v1.6M35.5 158v1.6M37.8 158v1.6M39.6 158v1.6M41.1 158v1.6M42.4 158v1.6M43.5 158v1.6M44.4 158v1.6M45.3 158v2.3M51 158v1.6M54.3 158v1.6M56.6 158v1.6M58.4 158v1.6M59.9 158v1.6M61.2 158v1.6M62.3 158v1.6M63.2 158v1.6M64.1 158v2.3M69.8 158v1.6M73.1 158v1.6M75.4 158v1.6M77.2 158v1.6M78.7 158v1.6M80 158v1.6M81.1 158v1.6M82 158v1.6M82.9 158v2.3M88.6 158v1.6" stroke="#111" stroke-width="0.85" fill="none"/>
<rect x="14.5" y="104.5" width="77.5" height="53.5" fill="none" stroke="#333" stroke-width="0.8"/>
<path d="M111 144.1h0.7M114.9 151h0.7M117.6 147.3h0.7M107.6 140h0.7M116 147.1h0.7M129.5 149.4h0.7M120.4 151.7h0.7M111.4 143.2h0.7M115 153.7h0.7M124.2 145.7h0.7M109 151.6h0.7M125 143.8h0.7M128.5 145h0.7M122.6 147.2h0.7M115.3 145.6h0.7M122.2 150.4h0.7M123 146.9h0.7M111.7 156.3h0.7M129.2 147.3h0.7M109.7 153.8h0.7M118.4 148.2h0.7M123.3 149.4h0.7M118.3 155.7h0.7M104.6 150.5h0.7M110.8 148.3h0.7M116.3 149h0.7M101 150.7h0.7M133.5 146.4h0.7M123.7 150.4h0.7M119.5 146.1h0.7M121.9 149.1h0.7M127.4 151.2h0.7M112.6 136.7h0.7M127.9 149.9h0.7M118.7 145.6h0.7M134.7 153.2h0.7M118.2 146.6h0.7M121.5 153.3h0.7M121.1 151.7h0.7M119.3 149.4h0.7M108.8 148.5h0.7M117.9 147.7h0.7M115.8 149.2h0.7M113.5 147.2h0.7M108.5 157h0.7M111.4 143.3h0.7M113.8 146.4h0.7M110.1 138.5h0.7M128.8 152h0.7M114.9 150.2h0.7M109.8 141.7h0.7M119.8 150.2h0.7M112.8 148h0.7M124.8 148.7h0.7M118.8 150.2h0.7M103.1 143h0.7M108.7 148.9h0.7M113.2 140.7h0.7M123.7 147.3h0.7M124.4 155.8h0.7M106.1 143h0.7M125 153.5h0.7M120.2 149.4h0.7M122.3 150.5h0.7M108.7 150.9h0.7M124.4 146.4h0.7M111.2 146.1h0.7M113.4 150.1h0.7M122.9 148.1h0.7M115.4 141.1h0.7M114.5 144.1h0.7M113.7 149.3h0.7M111.4 145.9h0.7M109.5 147h0.7M115.5 151.9h0.7M103.9 151.5h0.7M122 146h0.7M112.7 148.8h0.7M121.1 147.4h0.7M116.4 148.1h0.7M110 149.1h0.7M121.5 148.2h0.7M109.6 148h0.7M116.7 149.2h0.7M114.6 151.2h0.7M125 151.2h0.7M119.1 152.7h0.7M117.2 147.4h0.7M107.5 148.1h0.7M125.9 144.3h0.7M122.9 143.1h0.7M119.6 155.1h0.7M117.8 143.5h0.7M119.5 147.4h0.7M123 146h0.7M105.4 146.2h0.7M121.6 152h0.7M119.4 148.1h0.7M122.2 147.3h0.7M114.3 148.9h0.7M125.1 146.1h0.7M120.9 145.5h0.7M112.4 148.7h0.7M108.2 144.7h0.7M109.2 145.7h0.7M111.1 156.9h0.7M121.7 148.3h0.7M108.2 138.9h0.7M120.5 145.6h0.7M124.7 146.5h0.7M108.4 145.6h0.7M106.8 142.6h0.7M122.4 146h0.7M122.3 145.9h0.7M115.8 145.9h0.7M113.7 145.5h0.7M127.8 147.8h0.7M103.9 154.5h0.7M126.2 152.3h0.7M116.7 147.4h0.7M114.1 148.5h0.7M120.7 148h0.7M111.7 144.3h0.7M129 154.4h0.7M108.8 145.6h0.7M117.2 150.2h0.7M116.6 148.9h0.7M120 152.4h0.7M108.4 152.2h0.7M120.5 150.1h0.7M106.9 147.1h0.7M115.6 150.4h0.7M122.2 150.6h0.7M108.4 152.8h0.7M117.9 151.6h0.7M117.4 145.3h0.7M135.7 150.5h0.7M122.7 146.3h0.7M115.9 152.2h0.7M120.5 154.6h0.7M125.8 143.9h0.7M106.7 152.4h0.7M121.6 147h0.7M115.4 145.9h0.7M129.9 147.4h0.7M107.8 151.4h0.7M116.8 149.4h0.7M114.7 147.9h0.7M104.3 150h0.7M112.6 146.6h0.7M119.6 152.8h0.7M102.4 147.5h0.7M121.2 151.8h0.7M111.1 149.2h0.7M120.2 151.5h0.7M113.1 147.3h0.7M113.8 152.3h0.7M125 146.4h0.7M116.4 148.8h0.7M111.1 147.6h0.7M123.4 150.9h0.7M112.6 145.6h0.7M116.6 142.5h0.7M119.6 148.5h0.7M108.1 147.2h0.7M112.8 147h0.7M111.3 153.1h0.7M110.7 150.9h0.7M118.8 153.4h0.7M117 148h0.7M117.9 141h0.7M134.2 147.2h0.7M115.2 143.8h0.7M116.4 154.1h0.7M112.1 149.7h0.7M124.6 151.6h0.7M114.6 141.5h0.7M120.2 150.2h0.7M115.1 146.4h0.7M129.6 142.1h0.7M113.8 145.8h0.7M106.5 145.5h0.7M111.8 152.7h0.7M105.2 142.9h0.7M119.2 142.3h0.7M103.4 145.7h0.7M108.9 144.4h0.7M116.3 149.7h0.7M112.9 147h0.7M122.4 147.5h0.7M122.5 145.9h0.7M120.8 152.8h0.7M115.1 146.8h0.7M116.2 149.8h0.7M108.9 148.2h0.7M113.3 153.3h0.7M105.3 150.5h0.7M115.2 145.3h0.7M118.3 147.2h0.7M117.7 148.9h0.7M125.8 146.6h0.7M129 138.1h0.7M130.1 152.5h0.7M128.3 148.8h0.7M119.3 144.3h0.7M126.7 143.8h0.7M111.8 148h0.7M119 149.3h0.7M109.2 146.8h0.7M120.8 152.4h0.7M122.7 149.6h0.7M115.5 146h0.7M113.8 147.7h0.7M121.1 146.2h0.7M131.7 144.4h0.7M123.1 147.3h0.7M116.4 146.6h0.7M128.1 147h0.7M121.2 148.5h0.7M122.6 150.2h0.7M128.9 145.4h0.7M111.6 154.3h0.7M126.3 148.3h0.7M115.4 149h0.7M126.5 145.2h0.7M127.5 147.8h0.7M114.9 146.6h0.7M102.7 149.2h0.7M108.2 146h0.7M111.1 148.9h0.7M122.4 148.2h0.7M118.7 149.6h0.7M128.6 150.2h0.7M128.3 147.8h0.7M119.8 145.7h0.7M121.5 144.9h0.7M120.7 145.7h0.7M114.9 152.5h0.7M118.4 151h0.7M115.7 141.2h0.7M127.6 147.4h0.7M112.8 151.5h0.7M109.5 145.3h0.7M125.4 145.5h0.7M125.2 146.9h0.7M115.9 148.3h0.7M113.9 152h0.7M125 148.3h0.7M121.6 150h0.7M129.1 142.2h0.7M124.5 151.4h0.7M115.2 148.1h0.7M115 152.6h0.7M109.4 150.3h0.7M126.3 150.2h0.7M114 146.4h0.7M102.6 144.3h0.7M125 144.6h0.7M105.9 147.2h0.7M107 149.7h0.7M111.3 151.6h0.7M116.6 142.9h0.7M112 145.7h0.7M111.5 152.6h0.7M110.4 149.4h0.7M113.3 150.2h0.7M107.4 142.3h0.7M120.9 153.3h0.7M107.7 146.9h0.7M113.8 144.6h0.7M124.1 148.2h0.7M107.7 147.3h0.7M126.7 145.5h0.7M113.8 145h0.7M118.5 146h0.7M123.6 145h0.7M107.2 149.7h0.7M119.3 149h0.7M113.4 146.4h0.7M111.8 147.4h0.7M114.2 150.1h0.7M117.5 150.1h0.7M128.8 147.1h0.7M115.4 149.4h0.7M132 146.7h0.7M129.2 152.4h0.7M110.5 149.5h0.7M126.7 148.3h0.7M118.5 156h0.7M119.9 156h0.7M111.1 154.1h0.7M113.9 139.2h0.7M111.6 146.3h0.7M117.1 150.8h0.7M122.2 150h0.7M112.2 154.6h0.7M125.8 148.2h0.7M113.4 147.9h0.7M115.8 145.5h0.7M117.3 145.6h0.7M121.9 145.7h0.7M120.8 149.2h0.7M118.6 150h0.7M112.6 150.8h0.7M117.6 146.5h0.7M129.6 152.1h0.7M115.5 150.1h0.7M122.2 153.9h0.7M124.5 147.4h0.7M115.6 143.8h0.7M119.2 151.2h0.7M114.7 150.5h0.7M118.3 146.4h0.7M108.9 152.2h0.7M135.1 150.1h0.7M109.9 144.3h0.7M119.2 150.5h0.7M128 139.2h0.7M130.3 148.7h0.7M118.4 149.5h0.7M114.9 147h0.7M124.8 141.7h0.7M116.6 150.1h0.7M105.9 147.5h0.7M128.1 149.4h0.7M122.4 150.7h0.7M119 149.4h0.7M111.7 147.3h0.7M130.3 143.5h0.7M116.3 143.4h0.7M113.7 145.2h0.7M108.8 149h0.7M110.8 150h0.7M130.1 138.6h0.7M116.3 140.3h0.7M116.6 149.4h0.7M118.9 152.5h0.7M118.5 141.7h0.7M128 144.6h0.7M116.8 149.3h0.7M111.3 148.4h0.7M127.9 141.8h0.7M105.8 146.4h0.7M116.3 143.3h0.7M101.3 151.4h0.7M120.2 143.1h0.7M121.5 147.8h0.7M118.6 143.1h0.7M115.9 149.8h0.7M105.2 144.2h0.7M124.2 155.4h0.7M122.1 147.8h0.7M109.9 146.5h0.7M115.7 149.7h0.7M115.7 157.2h0.7M126.7 139.9h0.7M109.3 148h0.7M124.3 149.6h0.7M126.9 150.2h0.7M135.4 151h0.7M120.7 153.7h0.7M114.3 146h0.7M110.4 149h0.7M120.5 151.5h0.7M127.6 150.4h0.7M126.1 147.1h0.7M110.7 150.8h0.7M124.6 153h0.7M116.3 146.3h0.7M114.9 149.4h0.7M117.1 147.4h0.7M119.3 147h0.7M119.8 145.8h0.7M106.6 146.9h0.7M130.7 145h0.7M123.9 153.1h0.7M113.7 149h0.7M101.5 150.2h0.7M128.3 148.7h0.7M103.5 145.9h0.7M112.3 148.5h0.7M119.5 146.5h0.7M115.3 145h0.7M121.5 148.8h0.7M119.9 146.2h0.7M120.9 146.9h0.7M119.6 147.4h0.7M112.8 143.9h0.7M104.4 142.9h0.7M106 145h0.7M116 143.7h0.7M120.4 155.8h0.7M126.2 143.7h0.7M116.8 145.7h0.7M122.8 142.6h0.7M119.7 148.9h0.7M121.5 149.6h0.7M118.6 141.4h0.7M115.2 144.5h0.7M121.2 147.2h0.7M118.6 152.2h0.7M116.7 154.4h0.7M123.4 142.5h0.7M113.4 152.6h0.7M114 152.5h0.7M113.5 147.6h0.7M124.7 142.1h0.7M118 146.3h0.7M118.7 154.5h0.7M120.9 142.9h0.7M124.2 146.3h0.7M118.7 152.4h0.7M115.3 151.6h0.7M118.7 144.6h0.7M115.3 142.9h0.7M125.8 148.6h0.7M124.3 143.8h0.7M123.4 143.5h0.7M119.5 148h0.7M113.4 149.2h0.7M117.7 144.7h0.7M112.3 143.1h0.7M127.1 148.6h0.7M115 150.6h0.7M111.5 143.6h0.7M120 154h0.7M119.6 148.6h0.7M129.7 142.2h0.7M138.9 143.9h0.7M117 142.9h0.7M109 147.1h0.7M134.6 144.5h0.7M113.2 149h0.7M110.4 147h0.7M123.2 139.8h0.7M115.4 146.9h0.7M113.9 147.6h0.7M104.9 146.3h0.7M113.8 144.1h0.7M126.3 155.6h0.7M123.1 144.7h0.7M127.5 149.9h0.7M111.8 150.3h0.7M113.4 150.2h0.7M123.9 152.4h0.7M110.1 147.5h0.7M117.5 143.4h0.7M120.4 150.6h0.7M107.8 145.9h0.7M109.8 143.2h0.7M110 153.2h0.7M112.8 146.5h0.7M124.4 151.9h0.7M127.4 140.2h0.7M122.8 141.4h0.7M113.1 146.4h0.7M113.5 155.4h0.7M116.3 152.4h0.7M116.2 147.8h0.7M121.1 149.7h0.7M121 141.4h0.7M121.1 149.2h0.7M121.7 147.8h0.7M120.4 143.1h0.7M125.4 143.4h0.7M127.3 151.8h0.7M117.1 146.9h0.7M122.9 146.8h0.7M109.2 149.1h0.7M108.9 146.3h0.7M130.1 151.1h0.7M114.3 147.7h0.7M113 148h0.7M107.4 150.6h0.7M117.6 145.7h0.7M114.4 146.2h0.7M113.4 146.1h0.7M126.7 150.6h0.7M120.4 149.4h0.7M109.5 138.9h0.7M128.1 150.7h0.7M119 149.1h0.7M118.9 148.1h0.7M115.7 139.6h0.7M121.5 148.2h0.7M124.3 149.2h0.7M115.5 150.3h0.7M118.8 146.3h0.7M114.9 146.4h0.7M115.4 146.3h0.7M116.7 152.2h0.7M103.7 135.7h0.7M114.2 147.4h0.7M112.3 142.8h0.7M111.5 146.1h0.7M118.6 146.7h0.7M109.1 146.6h0.7M128.1 144.7h0.7M118 151.8h0.7M111.9 145.8h0.7M137.8 152.7h0.7M113.8 148.6h0.7M118.2 148.6h0.7M120.8 146.9h0.7M102 144.4h0.7M118.6 142.8h0.7M115.2 153.7h0.7M119.2 145.5h0.7M118.5 152h0.7M105.5 143.3h0.7M112.9 146.3h0.7M116.9 145.8h0.7M118.3 148.3h0.7M109.3 145.6h0.7M108.8 149.1h0.7M119.3 150.5h0.7M111.4 146h0.7M102 148h0.7M106.2 149.3h0.7M125 149.7h0.7M121.9 148.9h0.7M120.1 151.6h0.7M126.3 155.7h0.7M115.6 151.2h0.7M123.6 149.6h0.7M119.4 143.2h0.7M125.1 144.7h0.7M112.9 144.8h0.7M121.4 144.3h0.7M120.7 150.1h0.7M118.2 146.7h0.7M121.7 153h0.7M114.3 144h0.7M113.3 144.7h0.7M115.8 147.4h0.7M101.4 153.5h0.7M111.8 146.4h0.7M103.8 140.5h0.7M110.4 148.9h0.7M123.4 141.1h0.7M119.1 153.7h0.7M115.5 151.5h0.7M119.7 144.5h0.7M124.4 145.7h0.7M120 146.5h0.7M116 148.6h0.7M126.7 141.6h0.7M109.7 148.4h0.7M124.3 147.3h0.7M116.2 150h0.7M128.5 144.6h0.7M106.3 146.9h0.7M122.8 143h0.7M125.4 151.5h0.7M123 144.8h0.7M108.5 150.5h0.7M119.3 150.6h0.7M108.1 136.8h0.7M125.3 151.8h0.7M115.6 148h0.7M120.7 150.8h0.7M116.2 146.1h0.7M110.7 151.9h0.7M118.2 135.1h0.7M119.9 145.8h0.7M108.6 146.1h0.7M108.6 146.3h0.7M113.7 149.9h0.7M110.4 141.1h0.7M113.3 142.8h0.7M122.7 147.2h0.7M105.8 144.7h0.7M117.3 147.8h0.7M104.6 147.5h0.7M119.6 151.7h0.7M125.2 147.5h0.7M108.4 146.6h0.7M122 144.5h0.7M126.3 144.4h0.7M109.6 151.1h0.7M116.8 149.2h0.7M115.4 148.1h0.7M113.4 155.2h0.7M122.1 147.5h0.7M120.8 151.1h0.7M113.8 148.7h0.7M118.9 145.9h0.7M112.1 147.2h0.7M115.4 146.5h0.7M103.9 148.3h0.7M122.1 148.3h0.7M129.5 151.3h0.7M115 145.4h0.7M121 146.6h0.7M106.2 148.5h0.7M115.4 147.1h0.7M121.8 148.7h0.7M131.6 145.2h0.7M116.8 149.2h0.7M114.4 146.1h0.7M129.7 142.5h0.7M119.9 141.4h0.7M119.9 140.8h0.7M109.3 152.3h0.7M128.2 148.5h0.7M119.2 143.8h0.7M115 143h0.7M116.8 147.7h0.7M118.4 151h0.7M113 139.7h0.7M109.3 143.3h0.7M114.9 146.3h0.7M117.2 153.1h0.7M117.7 143.9h0.7M115.4 144.7h0.7M115.8 150.2h0.7M109.6 150.6h0.7M130 153.7h0.7M128.8 148.3h0.7M108.1 155.5h0.7M117.1 148.9h0.7M115 144.5h0.7M121.8 142.7h0.7M107.9 150.1h0.7M114.9 144.8h0.7M121 153.3h0.7M115.5 147.5h0.7M121.4 151.5h0.7M124.7 150.5h0.7M112.9 150h0.7M117.5 141.6h0.7M126.1 150.1h0.7M127 147.8h0.7M122.6 147.7h0.7M118.6 151.4h0.7M117.9 150.3h0.7M117.3 152.6h0.7M122 141.8h0.7M129.1 149.6h0.7M113.9 145.7h0.7M131.4 148.3h0.7M121.1 150.2h0.7M113.3 154.6h0.7M132.2 145.1h0.7M125.4 141.9h0.7M115.2 148.2h0.7M117.9 150.1h0.7M120.3 149.4h0.7M116.6 149.1h0.7M113.6 155.4h0.7M117.9 152.6h0.7M118.2 147.4h0.7M116.2 143.2h0.7M132 149.5h0.7M118.4 146.3h0.7M126.4 146.8h0.7M114.3 146h0.7M128.2 149.2h0.7M116.5 145.6h0.7M126.4 149.1h0.7M115.2 151.4h0.7M123.6 144.3h0.7M125.5 152.1h0.7M115.8 143h0.7M125.1 146.7h0.7M116.1 146.9h0.7M115.6 151.1h0.7M109.9 150h0.7M125.6 151.9h0.7M122.5 149h0.7M116.2 147.6h0.7M111.4 154.2h0.7M116.7 144.2h0.7M123.3 153.6h0.7M119.5 146.8h0.7M109.8 150.4h0.7M115.9 145.5h0.7M121.7 143.2h0.7M122.6 139h0.7M113.3 142.7h0.7M115.9 151h0.7M108.5 153.1h0.7M112.8 146.2h0.7M124.4 145.3h0.7M127.6 147.2h0.7M116.9 144.4h0.7M125.5 147.8h0.7M114.2 144.5h0.7M113.2 147.7h0.7M112.6 151h0.7M117.3 145.7h0.7M120.7 153.3h0.7M103.2 149.3h0.7M125 148.5h0.7M123.2 142.3h0.7M112.4 151.8h0.7M116.9 148.2h0.7M121.9 149.4h0.7M120.7 146.2h0.7M115.5 152.9h0.7M114.2 142.7h0.7M115.2 151.3h0.7M129.9 148.6h0.7M113.3 150.3h0.7M119.7 152.4h0.7M121.2 150.8h0.7M121.1 149.6h0.7M111.4 147.4h0.7M128.6 152.9h0.7M124.2 149.5h0.7M116.9 149.3h0.7M115.4 152h0.7M115.5 145.2h0.7M106.6 153.8h0.7M112.5 144.8h0.7M120.4 154.7h0.7M122.2 146.8h0.7M121.5 145h0.7M115.9 148.1h0.7M117.7 150.9h0.7M121.3 155h0.7M123.3 147h0.7M119.4 144.9h0.7M113.5 146.8h0.7M124.6 145.5h0.7M107 144.3h0.7M109.5 147.3h0.7M115.6 143.7h0.7M112.3 146.5h0.7M120.4 150.3h0.7M126.7 147.1h0.7M122 148.3h0.7M110.2 145.7h0.7M132.6 147.4h0.7M128.9 151.1h0.7M129 147.3h0.7M124.1 146.9h0.7M110.2 143.7h0.7M120.7 142.1h0.7M120.2 144.8h0.7M120.1 143h0.7M123.5 147.2h0.7M107.3 142.7h0.7M118.2 142h0.7M120 149.8h0.7M113.3 153.2h0.7M127.6 149.2h0.7M120.8 149.8h0.7M116 152.8h0.7M114.1 138.7h0.7M117.9 149.6h0.7M123.4 143.9h0.7M127.2 145h0.7M122 150.7h0.7M119 152.2h0.7M114.4 155.6h0.7M121.1 146.5h0.7M135.4 148h0.7M106.8 153.2h0.7M128.3 145.9h0.7M111.1 152.2h0.7M118.2 144.5h0.7M114.5 148.3h0.7M124.4 153.8h0.7M113.6 153.7h0.7M107.5 150.6h0.7M116.8 149.6h0.7M114.8 145.4h0.7M119.7 152.2h0.7M102.8 148.2h0.7M115.1 144.1h0.7M108.7 149.9h0.7M121.5 150.4h0.7M104.3 142.4h0.7M113.6 146.4h0.7M129.7 146.6h0.7M118.6 151.7h0.7M129.1 149.4h0.7M120.1 155.2h0.7M115.1 141.4h0.7M112.7 146.9h0.7M126.7 149.2h0.7M125.9 148.4h0.7M118.1 145.9h0.7M109.4 149.9h0.7M120.2 150.1h0.7M114.2 146.5h0.7M120.3 150.3h0.7M131.3 144.8h0.7M124.5 151.3h0.7M116 148.5h0.7M117.4 153.7h0.7M135 149.2h0.7M116.1 151.5h0.7M121.1 147.3h0.7M122.9 151.2h0.7M115.1 151.2h0.7M102.6 143.3h0.7M115.7 148.6h0.7M107.9 153.5h0.7M116.6 147.4h0.7M120.5 150.8h0.7M114.3 150.7h0.7M111.4 138.1h0.7M127 147.4h0.7M131.2 135.5h0.7M122.3 142.9h0.7M118.8 144.3h0.7M116.7 142.7h0.7M132.9 136.7h0.7M101.6 148.5h0.7M144.4 142.2h0.7M110.5 139.9h0.7M109.2 153.6h0.7M128.9 151.6h0.7M125 147.8h0.7M114.3 141h0.7M116.7 153.7h0.7M112.8 146.7h0.7M140.7 146.1h0.7M128.4 143.3h0.7M142.8 139.5h0.7M127.5 145.2h0.7M123.3 148.6h0.7M136.3 151.5h0.7M133.2 148.6h0.7M108.6 154.2h0.7M138.9 149.3h0.7M130.2 145.2h0.7M104.3 152.1h0.7M129 146.4h0.7M113.9 147.1h0.7M109.3 144.4h0.7M139.5 144.8h0.7M142.4 146h0.7M125.8 141.2h0.7M117.5 144h0.7M127.8 146h0.7M108.3 146.7h0.7M108.8 141h0.7M100.8 149.7h0.7M114.6 130h0.7M104.6 145.7h0.7M121.7 142.2h0.7M141.6 149.6h0.7M113.6 137.1h0.7M123 142.7h0.7M132.9 140.5h0.7M134.9 143.9h0.7M123.2 145h0.7M128.2 153.1h0.7M114.6 141.4h0.7M143 152h0.7M143.1 152h0.7M122.5 155.8h0.7M113.2 144.1h0.7M116.3 150.4h0.7M111 145.5h0.7M111.1 145.2h0.7M134 152.9h0.7M112.8 149.1h0.7M115.4 133.8h0.7M107.1 153.6h0.7M119.5 148.1h0.7M135.5 146.7h0.7M113.5 143h0.7M109.9 149.7h0.7M115.4 149.4h0.7M103.4 144h0.7M144.9 148.6h0.7M119.7 153.3h0.7M124.1 155.3h0.7M107.3 150.9h0.7M108.5 150.4h0.7M149.5 155.3h0.7M110.9 148.9h0.7M126.2 142.4h0.7M123.7 140.4h0.7M132.2 151.7h0.7M119 150.5h0.7M148.7 145.6h0.7M115.6 142h0.7M131.4 152.3h0.7M127.8 155.9h0.7M113.5 144.1h0.7M125.8 131h0.7M118.4 146.8h0.7M109.6 147.8h0.7M133.2 142.9h0.7M127.4 145.6h0.7M119 147.2h0.7M138.4 149.5h0.7M128.8 147.4h0.7M120.6 147.1h0.7M114.9 137.7h0.7M138.2 157h0.7M139.2 136h0.7M127.2 139.7h0.7M118.6 143.6h0.7M113.6 142.1h0.7M115.2 151h0.7M139.6 151.8h0.7M120.6 145.7h0.7M117.9 146.4h0.7M113.5 145.5h0.7M130.7 145.2h0.7M111.2 145.8h0.7M121.8 146.1h0.7M117.7 150.6h0.7M120.2 140.7h0.7M127.4 142.4h0.7M129.8 151.2h0.7M126.4 148.3h0.7M105 145.4h0.7M122.2 150.2h0.7M107.6 145.6h0.7M102.7 147.5h0.7M121.7 147.2h0.7M140.1 150.7h0.7M118.5 143.2h0.7M115.5 151h0.7M131.5 143.6h0.7M119.4 144h0.7M128.8 147.6h0.7M112.3 141.4h0.7M136 138.5h0.7M144.6 143.4h0.7M130.8 149.7h0.7M130.6 153h0.7M115.2 146.4h0.7M132.3 149.7h0.7M111.8 142.2h0.7M103.7 148h0.7M114.5 137.6h0.7M114.2 148.4h0.7M122.9 145.2h0.7M122.6 150.3h0.7M106.6 141.8h0.7M132.2 150.7h0.7M104.2 142.4h0.7M137.8 150.8h0.7M119 152.4h0.7M136.9 154.6h0.7M104.3 139.1h0.7M114.7 146.2h0.7M116.5 147.9h0.7M138.2 152.8h0.7M132.4 146.5h0.7M140.2 149.1h0.7M123.6 146.4h0.7M120.4 151.7h0.7M147.5 145.4h0.7M107 152.4h0.7M123.6 141.1h0.7M132.1 146.6h0.7M109.5 132h0.7M109 148.7h0.7M108.5 152.1h0.7M146.8 148.3h0.7M123.4 146.1h0.7M130.9 146.7h0.7M133 154.7h0.7M130.8 141h0.7M128.6 145h0.7M124.4 152.1h0.7M112.9 147.7h0.7M138.1 141.7h0.7M118.5 150.7h0.7M118 152.4h0.7M108.8 137.9h0.7M125.2 145.7h0.7M124.4 152h0.7M133.2 144.5h0.7M116.1 135.4h0.7M109.2 147.9h0.7M123.3 138h0.7M130 146.3h0.7M133.8 144.5h0.7M132.2 140.2h0.7M129 148.9h0.7M128.7 156.1h0.7M130 149.4h0.7M102 148.6h0.7M116.3 141h0.7M108.7 145.7h0.7M127.6 142.8h0.7M124.3 150.6h0.7M117 142.3h0.7M128.8 145.5h0.7M124.4 145.8h0.7M131.1 146.5h0.7M123.4 146.1h0.7M110.2 133.9h0.7M127.2 139.4h0.7M125.4 150.2h0.7M143.1 142.3h0.7M122.5 151.9h0.7M112.8 143.2h0.7M133.5 152h0.7M109.3 150.3h0.7M134.2 139.3h0.7M120.8 145.4h0.7M128.4 136.6h0.7M129.1 146.5h0.7M117.5 134.5h0.7M128.4 148.9h0.7M129.6 136.9h0.7M123.1 154.2h0.7M102.3 150.2h0.7M112.1 149.6h0.7M121.9 137.3h0.7M108.2 153.7h0.7M119.4 153.6h0.7M124.7 151.6h0.7M116 147.8h0.7M116.3 151.7h0.7M113.9 152.8h0.7M139.4 139.6h0.7M118.7 149.6h0.7M141.8 153.1h0.7M121.7 136.7h0.7M130.7 143.2h0.7M123 148.8h0.7M103.9 152.6h0.7M131.6 149.8h0.7M127.8 148.5h0.7M104.1 143.6h0.7M130.4 144.6h0.7M121 148.6h0.7M121.7 148h0.7M126.4 146.5h0.7M107.6 145h0.7M132 142.7h0.7M126.3 148.3h0.7M110.2 130.5h0.7M120.5 142.1h0.7M113.2 151.8h0.7M111.6 148.5h0.7M122.1 147.6h0.7M144.3 135.3h0.7M132.1 145.7h0.7M117.4 142.7h0.7M121.1 146.8h0.7M109.8 155.8h0.7M111.9 145.7h0.7M105.6 147.4h0.7M124.9 152.7h0.7M132.3 143.7h0.7M139.7 145.9h0.7M139.1 156.2h0.7M115.9 140.4h0.7M127.1 154.7h0.7M125.4 152.7h0.7M127.7 151.5h0.7M136.4 144.8h0.7M103.9 145.8h0.7M111.3 139.8h0.7M118.7 150.5h0.7M130.1 141.5h0.7M116 154.2h0.7M134 148.5h0.7M127 131.1h0.7M127.2 148.7h0.7M104.2 147.5h0.7M126.1 145.9h0.7M130 151.5h0.7M121.3 145.1h0.7M106.7 153h0.7M113.9 148.3h0.7M138.8 150.9h0.7M105.6 146h0.7M112.2 137.2h0.7M111.2 149.8h0.7M124.7 145.3h0.7M122.7 139.9h0.7M111.6 145.6h0.7M130.1 144.7h0.7M118.7 148.4h0.7M138 139.4h0.7M127 147.6h0.7M119.8 147.9h0.7M117.8 139.5h0.7M130.6 145.8h0.7M116.6 150.8h0.7M109.8 142.5h0.7M130.4 151.4h0.7M144.5 143.9h0.7M103.5 138.1h0.7M106.5 147.1h0.7M117.8 142.7h0.7M108.7 142.6h0.7M116.3 153.2h0.7M128 154.2h0.7M130.3 150.8h0.7M134.5 149.1h0.7M138.8 152.9h0.7M142.1 147.7h0.7M117.3 149.5h0.7M116.2 142.6h0.7M125.8 140.2h0.7M118.7 154.5h0.7M122.1 151.1h0.7M128.2 148.7h0.7M121.9 150h0.7M109.2 149.8h0.7M107.9 142.2h0.7M113.7 139h0.7M126.6 150.2h0.7M146.7 147.5h0.7M129.5 142.3h0.7M129 140.1h0.7M143.9 141.1h0.7M115.8 150.7h0.7M109.4 147.6h0.7M132.2 147.4h0.7M131.7 143.7h0.7M127.6 134.2h0.7M138.5 142.8h0.7M110.4 146.6h0.7M140.7 142.5h0.7M120.3 144.5h0.7M109.6 139.1h0.7M127.6 150.5h0.7M111.7 147.8h0.7M125.9 148.7h0.7M118.6 146.8h0.7M123.8 140.5h0.7M118.9 151h0.7M113.9 153.9h0.7M117.7 140.3h0.7M117.1 138.9h0.7M127.8 137.5h0.7M120.8 145.2h0.7M117 148.9h0.7M124 143.4h0.7M130.3 144h0.7M131.2 154.1h0.7M125 151.7h0.7M104.7 149.7h0.7M102.9 145.5h0.7M128.8 131.4h0.7M111.3 142.1h0.7M109.4 146.6h0.7M128.1 140h0.7M113.2 136h0.7M112.2 134.7h0.7M102.7 149.1h0.7M130.9 141.9h0.7M124.7 142.1h0.7M133.2 156.4h0.7M113 143.8h0.7M139 155.4h0.7M120.4 150.1h0.7M101.7 144.8h0.7M117.1 145.7h0.7M124 137.7h0.7M129.1 149.3h0.7M121.2 137.4h0.7M115 137.7h0.7M143.8 148.5h0.7M129.1 147.7h0.7M115.9 153.2h0.7M131 150.1h0.7M127.4 150.7h0.7M117.2 148.9h0.7M121.5 145.1h0.7M115.4 153.3h0.7M108.5 145.5h0.7M132.6 146.1h0.7M124.7 139.7h0.7M107 155.9h0.7M122.4 146h0.7M104.2 140.7h0.7M108.3 146.2h0.7M119.2 143.1h0.7M112.6 147.1h0.7M134.4 138.6h0.7M103.7 152.9h0.7M103.6 144.2h0.7M121.9 156.8h0.7M119.6 152.6h0.7M122.2 141.9h0.7M122.8 134.9h0.7M130.2 154.9h0.7M118.1 151.1h0.7M108 154.9h0.7M112.9 142h0.7M111.5 136.5h0.7M103.6 145.4h0.7M125.8 143.3h0.7M102 148.4h0.7M132.4 147.1h0.7M107.8 144.8h0.7M134.9 152.8h0.7M119.5 149h0.7M114.4 147.2h0.7M113.5 147.4h0.7M114.4 147.6h0.7M128.7 146.4h0.7M105.2 149.3h0.7M117.6 143.7h0.7M127.2 141.8h0.7M131.5 149.7h0.7M112.3 142.6h0.7M119.1 141.4h0.7M131.7 133.7h0.7M122.3 144.5h0.7M107.5 150.1h0.7M114.8 149.1h0.7M115.4 144.9h0.7M126.7 151.9h0.7M132.3 146.4h0.7M138 144.6h0.7M104.4 135.9h0.7M103.4 141.6h0.7M120.9 146.3h0.7M123.3 145.9h0.7M117.5 144.7h0.7M121 140.1h0.7M135.6 155.2h0.7M109.1 151.6h0.7M101.4 149.9h0.7M111.7 152.2h0.7M121.9 151.9h0.7M127.7 149.5h0.7M117.3 155.5h0.7M124.7 149.2h0.7M137.4 145h0.7M141.1 152.7h0.7M121.4 138.3h0.7M134.9 144.7h0.7M121.7 147.2h0.7M131.8 150.1h0.7M124.7 147.5h0.7M129.9 149.7h0.7M139.7 142.4h0.7M135.9 148.7h0.7M124.1 150.4h0.7M116.6 150.6h0.7M118.1 150.6h0.7M111.6 153.2h0.7M102.6 142.8h0.7M120 147.9h0.7M111.1 144.2h0.7M123.6 152.5h0.7M135.8 143.8h0.7M119.8 144.7h0.7M102.6 144h0.7M133.9 138.9h0.7M154.3 152.1h0.7M141 147.6h0.7M139.3 143.2h0.7M135.5 150.8h0.7M129.8 150.8h0.7M127.5 150.2h0.7M134.6 148.9h0.7M128 148.9h0.7M122.2 141.6h0.7M106 138.1h0.7M128.7 144.6h0.7M129.7 143.9h0.7M125.1 145.4h0.7M139.4 153.8h0.7M124 156.6h0.7M130.4 151.6h0.7M106.8 143h0.7M122.6 145.3h0.7M114.4 135.2h0.7M111.8 145.9h0.7M124.2 140.4h0.7M119 156.8h0.7M122.5 135.4h0.7M118.4 146.5h0.7M135.5 147.6h0.7M136.8 148.4h0.7M134.4 154.2h0.7M138.7 147.6h0.7M106.2 147.7h0.7M126.2 142.5h0.7M130.4 145.6h0.7M150 129.4h0.7M126.3 145.3h0.7M166.7 127.9h0.7M143 118.5h0.7M143.6 130.5h0.7M128.3 123.1h0.7M145.3 137h0.7M148.9 144.9h0.7M113.1 145.6h0.7M138.7 142.9h0.7M138.7 125.7h0.7M138.3 135.9h0.7M129 130.9h0.7M142.8 137.3h0.7M136 137.3h0.7M132.2 132.8h0.7M141.8 138.4h0.7M160.9 122.7h0.7M145.3 144.2h0.7M150.6 125.2h0.7M144.8 119.9h0.7M110.4 138.7h0.7M129.3 126.8h0.7M153.2 123.5h0.7M140.4 132.5h0.7M136.4 125.1h0.7M165.7 107.3h0.7M138.7 137.7h0.7M136.4 132.9h0.7M143.4 132.5h0.7M134.6 142.1h0.7M146.1 140.5h0.7M140.5 117.6h0.7M116.5 138h0.7M145.4 118.1h0.7M131.5 144.6h0.7M143.8 125.5h0.7M137.7 133.9h0.7M133.4 132.5h0.7M130.5 137.6h0.7M160.9 134.2h0.7M122.2 156.2h0.7M137.6 123h0.7M118.8 141.8h0.7M142.4 126.5h0.7M128.3 135.4h0.7M142.8 135.9h0.7M146.8 112.1h0.7M131.1 137.7h0.7M144.3 136.2h0.7M118.9 152.1h0.7M122.9 137.6h0.7M132.9 131.6h0.7M128.6 142.7h0.7M150 130.6h0.7M121.9 135h0.7M138.5 135.7h0.7M131.7 133.6h0.7M175 118.3h0.7M135.2 116.3h0.7M129 148.4h0.7M150.8 119.1h0.7M150 129.3h0.7M128.4 142.6h0.7M130.9 133.6h0.7M139.5 133.9h0.7M133.3 137h0.7M139.3 133.9h0.7M144.5 125.7h0.7M120.6 139.5h0.7M156 128h0.7M142.3 125.8h0.7M123.7 129.8h0.7M126.8 134.8h0.7M118.3 140.1h0.7M117.9 145.9h0.7M138.9 119.9h0.7M131.8 137.2h0.7M144.4 136h0.7M134.5 133.3h0.7M136.1 137.7h0.7M129.9 135.1h0.7M141.2 129.1h0.7M124.6 148.2h0.7M146 123.1h0.7M165.9 116.1h0.7M127.4 134.6h0.7M146.5 140.3h0.7M157.8 128.9h0.7M140.2 136.9h0.7M128.6 131.7h0.7M146.4 131h0.7M142.4 123.8h0.7M142.6 120.7h0.7M151.8 127.4h0.7M130.5 132.6h0.7M129.8 146.2h0.7M139.5 134.2h0.7M126.3 128.2h0.7M142.5 127.9h0.7M146.1 137.3h0.7M137.7 137h0.7M141.6 133.2h0.7M132.2 137h0.7M145.2 130.6h0.7M133.1 124.4h0.7M124.8 149.7h0.7M153 129h0.7M143.2 129.8h0.7M148.5 135.6h0.7M135.9 136.1h0.7M152.2 115.7h0.7M126.6 133.5h0.7M123.5 135.7h0.7M127.8 134.2h0.7M145.7 121.3h0.7M140.6 141.9h0.7M141.9 122.5h0.7M131.1 144.2h0.7M135.7 129.3h0.7M149.9 123h0.7M124.2 143h0.7M139.5 127.6h0.7M145.6 137.9h0.7M153.9 127.2h0.7M145.5 133.5h0.7M119.2 152.6h0.7M130.3 132h0.7M128.2 130h0.7M154.1 126.5h0.7M131.5 122.4h0.7M141.5 131.2h0.7M125.4 137.4h0.7M114.6 147.2h0.7M122.8 142.8h0.7M140.6 116.5h0.7M124.2 133.9h0.7M149.9 132.4h0.7M147.8 141.1h0.7M135.4 130.3h0.7M114 135.3h0.7M146.9 123.3h0.7M127.5 144.1h0.7M106 156.1h0.7M156.7 112.4h0.7M145.6 129.8h0.7M151.5 125h0.7M137.7 143.3h0.7M131.3 138.7h0.7M147.8 128.2h0.7M151.1 131.4h0.7M150.5 115.6h0.7M125.3 140.3h0.7M155 136.4h0.7M139.5 127h0.7M124.6 124.4h0.7M132.6 139.4h0.7M138.3 122.2h0.7M138 133.4h0.7M129.2 147.1h0.7M145.2 138h0.7M140.6 124.9h0.7M153.8 134.5h0.7M131.4 126h0.7M150.3 123.9h0.7M123.7 138.2h0.7M146.7 124h0.7M139.8 139.5h0.7M149.3 117.1h0.7M148.9 141.4h0.7M151.7 126.8h0.7M144.3 119h0.7M131.4 131.9h0.7M167.2 121.1h0.7M126.2 150h0.7M155.8 113.8h0.7M136.6 121.3h0.7M153.2 110.3h0.7M164.2 114.7h0.7M125.3 153.5h0.7M146.5 132.1h0.7M150.8 120.6h0.7M151 125.7h0.7M146.3 131.3h0.7M157.9 115.6h0.7M120.6 144.8h0.7M171 123.5h0.7M137.1 138.2h0.7M123.1 139.7h0.7M116.8 142.5h0.7M149 140.8h0.7M132.6 142h0.7M157.3 117.5h0.7M135.6 120.5h0.7M127.6 140.4h0.7M112.1 141.4h0.7M149 138.9h0.7M105.8 148.9h0.7M131.1 119.1h0.7M125.7 142.3h0.7M139 137.7h0.7M135.3 138.9h0.7M126.2 130.7h0.7M137.1 120.6h0.7M155.8 123.9h0.7M126.2 131.5h0.7M126.3 138.6h0.7M134.4 140.7h0.7M123.8 138.2h0.7M119.1 137.3h0.7M157.5 124.2h0.7M151.2 127.2h0.7M124.7 132h0.7M124.2 141.1h0.7M142.4 152.6h0.7M161.6 129.5h0.7M126.2 138.6h0.7M127.1 154.5h0.7M129.6 144.9h0.7M121.2 145.4h0.7M122.9 135.8h0.7M141.5 132.5h0.7M138.5 132.3h0.7M127.7 136.4h0.7M138.3 126h0.7M146.9 130.7h0.7M129.2 146.1h0.7M131.6 121.7h0.7M156.2 122.8h0.7M158.9 127.6h0.7M127.3 145.5h0.7M145.4 136.7h0.7M139.8 143.6h0.7M151.7 125h0.7M119.1 140.4h0.7M140.2 124.9h0.7M136.7 144.5h0.7M132.9 143.3h0.7M126.7 130.5h0.7M151.8 126.1h0.7M142.2 138.8h0.7M161 114.6h0.7M147 131h0.7M141.2 144.8h0.7M136 129.5h0.7M146 114.9h0.7M144.2 124h0.7M143.6 125.3h0.7M146 127.9h0.7M129.6 140.3h0.7M149.2 116.7h0.7M122 137.6h0.7M134.1 144.2h0.7M160.4 127.3h0.7M153.9 124.1h0.7M120.9 142.1h0.7M115.7 154h0.7M142.6 139.6h0.7M130.6 124.2h0.7M136.5 137.1h0.7M136.3 129.9h0.7M140.2 130.7h0.7M157.8 115.3h0.7M109.6 143.8h0.7M142.8 119.8h0.7M138.6 135.9h0.7M143.7 132.9h0.7M129.1 126h0.7M152 124.7h0.7M120.8 151.3h0.7M149.1 107.9h0.7M173.8 119.5h0.7M117.6 148.3h0.7M143.6 139.8h0.7M139.3 120.2h0.7M137 130.2h0.7M143 129.6h0.7M146.7 120.5h0.7M131.8 131.7h0.7M144.7 117.7h0.7M139.2 149.9h0.7M115 149.9h0.7M140.5 139.2h0.7M139.9 134.1h0.7M144.1 133.9h0.7M123 138.1h0.7M163.6 132.9h0.7M127.8 130.2h0.7M136.8 141.2h0.7M151.4 123.2h0.7M107.3 145.1h0.7M116.9 150.3h0.7M159 129.3h0.7M147.1 133.4h0.7M163.8 130.4h0.7M158.5 116.2h0.7M132.2 135.3h0.7M109.3 142.5h0.7M138.9 132.1h0.7M173 117.2h0.7M145.4 106.6h0.7M154.9 137.7h0.7M101.3 128.4h0.7M102.3 108.7h0.7M152.2 144.9h0.7M125.6 113.6h0.7M121.7 117.2h0.7M143 119.6h0.7M169.9 106.3h0.7M118.4 137.7h0.7M134.8 109.8h0.7M130.2 120h0.7" stroke="#222" stroke-width="0.68" stroke-opacity="0.75" fill="none"/>
<path d="M100 156.3h-1.7M100 155h-1.7M100 154h-1.7M100 153.1h-1.7M100 152.3h-1.7M100 151.6h-1.7M100 151h-2.4M100 147h-1.7M100 144.7h-1.7M100 143h-1.7M100 141.7h-1.7M100 140.7h-1.7M100 139.8h-1.7M100 139h-1.7M100 138.3h-1.7M100 137.7h-2.4M100 133.7h-1.7M100 131.4h-1.7M100 129.7h-1.7M100 128.4h-1.7M100 127.4h-1.7M100 126.5h-1.7M100 125.7h-1.7M100 125h-1.7M100 124.4h-2.4M100 120.4h-1.7M100 118.1h-1.7M100 116.4h-1.7M100 115.1h-1.7M100 114.1h-1.7M100 113.2h-1.7M100 112.4h-1.7M100 111.7h-1.7M100 111.1h-2.4M102.2 158v1.6M104.5 158v1.6M106.3 158v1.6M107.8 158v1.6M109.1 158v1.6M110.2 158v1.6M111.1 158v1.6M112 158v2.3M117.7 158v1.6M121 158v1.6M123.3 158v1.6M125.1 158v1.6M126.6 158v1.6M127.9 158v1.6M129 158v1.6M129.9 158v1.6M130.8 158v2.3M136.5 158v1.6M139.8 158v1.6M142.1 158v1.6M143.9 158v1.6M145.4 158v1.6M146.7 158v1.6M147.8 158v1.6M148.7 158v1.6M149.6 158v2.3M155.3 158v1.6M158.6 158v1.6M160.9 158v1.6M162.7 158v1.6M164.2 158v1.6M165.5 158v1.6M166.6 158v1.6M167.5 158v1.6M168.4 158v2.3M174.1 158v1.6" stroke="#111" stroke-width="0.85" fill="none"/>
<rect x="100" y="104.5" width="77.5" height="53.5" fill="none" stroke="#333" stroke-width="0.8"/>
<rect x="43.5" y="67.5" width="26" height="22.5" fill="none" stroke="#444" stroke-width="0.65"/>
<rect x="128.5" y="66.5" width="26" height="23.5" fill="none" stroke="#444" stroke-width="0.65"/>
<text x="61.7" y="73.5" font-size="5.3" style="fill:#666;stroke:none">R1</text>
<text x="147.6" y="73.3" font-size="5.3" style="fill:#666;stroke:none">R1</text>
<path d="M77 108.6L84.2 111.3L86.2 116.5L82.8 126.5L73 134.6L53.4 139.4L50.6 137.8L50.2 133.5L53.3 126.3L60.8 116.3L68.2 110.6Z" fill="none" stroke="#333" stroke-width="0.85" stroke-linejoin="round"/>
<path d="M163.3 108.4L169.4 111L171.6 116.2L169.4 124L159.9 133.5L140.8 139.5L136.5 138.1L135.7 133.5L138.3 126.5L145.2 117L153.8 110.1Z" fill="none" stroke="#333" stroke-width="0.85" stroke-linejoin="round"/>
<text x="78.4" y="117.7" font-size="5.3" style="fill:#555;stroke:none">R2</text>
<text x="164.2" y="118.3" font-size="5.3" style="fill:#555;stroke:none">R2</text>
<text x="1.5" y="48" font-size="7" text-anchor="start" style="stroke-width:0.3px">10<tspan dy="-2.8" dx="0.2" font-size="4.6">5</tspan></text>
<text x="1.5" y="60" font-size="7" text-anchor="start" style="stroke-width:0.3px">10<tspan dy="-2.8" dx="0.2" font-size="4.6">4</tspan></text>
<text x="1.5" y="74.3" font-size="7" text-anchor="start" style="stroke-width:0.3px">10<tspan dy="-2.8" dx="0.2" font-size="4.6">3</tspan></text>
<text x="1.5" y="88" font-size="7" text-anchor="start" style="stroke-width:0.3px">10<tspan dy="-2.8" dx="0.2" font-size="4.6">2</tspan></text>
<text x="1.5" y="116" font-size="7" text-anchor="start" style="stroke-width:0.3px">10<tspan dy="-2.8" dx="0.2" font-size="4.6">5</tspan></text>
<text x="1.5" y="128.5" font-size="7" text-anchor="start" style="stroke-width:0.3px">10<tspan dy="-2.8" dx="0.2" font-size="4.6">4</tspan></text>
<text x="1.5" y="142" font-size="7" text-anchor="start" style="stroke-width:0.3px">10<tspan dy="-2.8" dx="0.2" font-size="4.6">3</tspan></text>
<text x="1.5" y="154.5" font-size="7" text-anchor="start" style="stroke-width:0.3px">10<tspan dy="-2.8" dx="0.2" font-size="4.6">2</tspan></text>
<text x="182.8" y="53" font-size="10.5">Dump</text>
<text x="214" y="89" font-size="10.5">B220</text>
<path d="M183.4 61V88.4H208" fill="none" stroke="#222" stroke-width="0.9"/><path d="M183.4 58.2l-2 4.4h4zM211.4 88.4l-4.4 -2v4z" fill="#111"/>
<text x="183" y="122.2" font-size="10.3">IgG1</text>
<text x="214.5" y="158.8" font-size="10.5">NP</text>
<path d="M183.6 130V158.5H210" fill="none" stroke="#222" stroke-width="0.9"/><path d="M183.6 127.3l-2 4.4h4zM213.3 158.5l-4.4 -2v4z" fill="#111"/>
<text x="183" y="187.2" font-size="10.5">CD38</text>
<path d="M183.6 194.6H212" fill="none" stroke="#222" stroke-width="0.9"/><path d="M215.8 194.6l-4.4 -2v4z" fill="#111"/>
<text x="48.3" y="101.3" font-size="8.4">gated on R1: B220<tspan dy="-3.6" dx="0.5" font-size="7.4">+</tspan><tspan dy="3.6" dx="0.5">Dump</tspan><tspan dy="-3.6" dx="0.5" font-size="7.4">-</tspan></text>
<text x="19" y="171" font-size="8.4">gated on R1+R2: B220<tspan dy="-3.6" dx="0.15" font-size="7.4">+</tspan><tspan dy="3.6" dx="0.15">Dump</tspan><tspan dy="-3.6" dx="0.15" font-size="7.4">-</tspan><tspan dy="3.6" dx="0.15">IgG1</tspan><tspan dy="-3.6" dx="0.15" font-size="7.4">+</tspan><tspan dy="3.6" dx="0.15">NP</tspan><tspan dy="-3.6" dx="0.15" font-size="7.4">+</tspan></text>
<rect x="14.5" y="174.5" width="79.0" height="18.2" fill="none" stroke="#333" stroke-width="0.8"/>
<path d="M16.7 192.7v1.6M19 192.7v1.6M20.8 192.7v1.6M22.3 192.7v1.6M23.6 192.7v1.6M24.7 192.7v1.6M25.6 192.7v1.6M26.5 192.7v2.3M32.2 192.7v1.6M35.5 192.7v1.6M37.8 192.7v1.6M39.6 192.7v1.6M41.1 192.7v1.6M42.4 192.7v1.6M43.5 192.7v1.6M44.4 192.7v1.6M45.3 192.7v2.3M51 192.7v1.6M54.3 192.7v1.6M56.6 192.7v1.6M58.4 192.7v1.6M59.9 192.7v1.6M61.2 192.7v1.6M62.3 192.7v1.6M63.2 192.7v1.6M64.1 192.7v2.3M69.8 192.7v1.6M73.1 192.7v1.6M75.4 192.7v1.6M77.2 192.7v1.6M78.7 192.7v1.6M80 192.7v1.6M81.1 192.7v1.6M82 192.7v1.6M82.9 192.7v2.3M88.6 192.7v1.6M91.9 192.7v1.6" stroke="#111" stroke-width="0.85" fill="none"/>
<rect x="99" y="174.5" width="78.5" height="18.2" fill="none" stroke="#333" stroke-width="0.8"/>
<path d="M101.2 192.7v1.6M103.5 192.7v1.6M105.3 192.7v1.6M106.8 192.7v1.6M108.1 192.7v1.6M109.2 192.7v1.6M110.1 192.7v1.6M111 192.7v2.3M116.7 192.7v1.6M120 192.7v1.6M122.3 192.7v1.6M124.1 192.7v1.6M125.6 192.7v1.6M126.9 192.7v1.6M128 192.7v1.6M128.9 192.7v1.6M129.8 192.7v2.3M135.5 192.7v1.6M138.8 192.7v1.6M141.1 192.7v1.6M142.9 192.7v1.6M144.4 192.7v1.6M145.7 192.7v1.6M146.8 192.7v1.6M147.7 192.7v1.6M148.6 192.7v2.3M154.3 192.7v1.6M157.6 192.7v1.6M159.9 192.7v1.6M161.7 192.7v1.6M163.2 192.7v1.6M164.5 192.7v1.6M165.6 192.7v1.6M166.5 192.7v1.6M167.4 192.7v2.3M173.1 192.7v1.6M176.4 192.7v1.6" stroke="#111" stroke-width="0.85" fill="none"/>
<path d="M58.7 174.5V192.7M143.3 174.5V192.7" stroke="#333" stroke-width="0.8"/>
<path d="M42 192.6C45 192.4 45.8 188.6 47.7 188.6C49.6 188.6 50.5 192 53 192.4L61.5 192.5C64.5 192.2 65.8 188.6 67.7 188.6C69.6 188.6 71 192.2 74 192.5" fill="none" stroke="#222" stroke-width="0.9"/>
<path d="M123 192.6C127.5 192.2 129 187.4 132 187.4C135 187.4 136.5 191.5 140 191.6C143.5 191.7 145.2 192 146.8 186C148.2 180.5 148.6 175.3 150 175.3L155 175.3C156.6 175.3 157 181 158.3 186C159.8 191.5 161 192.4 164 192.5" fill="none" stroke="#222" stroke-width="0.9"/>
<text x="7.8" y="178" font-size="7.5" style="stroke-width:0.3px">8</text><text x="7.8" y="195.4" font-size="7.5" style="stroke-width:0.3px">0</text>
<text x="20.6" y="202.2" font-size="6.7" text-anchor="start" style="stroke-width:0.3px">10<tspan dy="-2.7" dx="0.2" font-size="4.4">2</tspan></text>
<text x="39.6" y="202.2" font-size="6.7" text-anchor="start" style="stroke-width:0.3px">10<tspan dy="-2.7" dx="0.2" font-size="4.4">3</tspan></text>
<text x="58.300000000000004" y="202.2" font-size="6.7" text-anchor="start" style="stroke-width:0.3px">10<tspan dy="-2.7" dx="0.2" font-size="4.4">4</tspan></text>
<text x="76.3" y="202.2" font-size="6.7" text-anchor="start" style="stroke-width:0.3px">10<tspan dy="-2.7" dx="0.2" font-size="4.4">5</tspan></text>
<text x="108.3" y="202.2" font-size="6.7" text-anchor="start" style="stroke-width:0.3px">10<tspan dy="-2.7" dx="0.2" font-size="4.4">2</tspan></text>
<text x="126.2" y="202.2" font-size="6.7" text-anchor="start" style="stroke-width:0.3px">10<tspan dy="-2.7" dx="0.2" font-size="4.4">3</tspan></text>
<text x="144.5" y="202.2" font-size="6.7" text-anchor="start" style="stroke-width:0.3px">10<tspan dy="-2.7" dx="0.2" font-size="4.4">4</tspan></text>
<text x="162.8" y="202.2" font-size="6.7" text-anchor="start" style="stroke-width:0.3px">10<tspan dy="-2.7" dx="0.2" font-size="4.4">5</tspan></text>
</g>
<g id="panelB">
<text x="257.9" y="12.9" font-size="17" font-weight="bold">B</text>
<text x="371.8" y="27.5" font-size="12.4">spleen</text>
<path d="M286.5 31.8V176.5H511.5" fill="none" stroke="#707070" stroke-width="1"/>
<text x="283.2" y="178.9" font-size="9" text-anchor="end">0</text>
<text x="283.2" y="150.2" font-size="9" text-anchor="end">5</text>
<text x="283.2" y="121.5" font-size="9" text-anchor="end">10</text>
<text x="283.2" y="92.8" font-size="9" text-anchor="end">15</text>
<text x="283.2" y="64.1" font-size="9" text-anchor="end">20</text>
<text x="283.2" y="35.4" font-size="9" text-anchor="end">25</text>
<path d="M283.6 175.8h2.9M283.6 147.1h2.9M283.6 118.4h2.9M283.6 89.7h2.9M283.6 61h2.9M283.6 32.3h2.9" stroke="#666" stroke-width="0.9"/>
<text transform="translate(266.6,175.8) rotate(-90)" font-size="10.15">NP<tspan dy="-4.6" dx="0.95" font-size="8">+</tspan><tspan dy="4.6" dx="0.95">IgG1</tspan><tspan dy="-4.6" dx="0.95" font-size="8">+</tspan><tspan dy="4.6" dx="0.95">B220</tspan><tspan dy="-4.6" dx="0.95" font-size="8">+</tspan><tspan dy="4.6" dx="0.95"> cells (x10</tspan><tspan dy="-5.0" dx="0.95" font-size="7.5">5</tspan><tspan dy="5.0" dx="0.95">)</tspan></text>
<g fill="#111">
<circle cx="318.3" cy="143.7" r="1.15"/><circle cx="318.3" cy="165.7" r="1.15"/><circle cx="318.3" cy="174.5" r="1.15"/><rect x="312.9" y="161" width="11.2" height="3"/>
<circle cx="350.5" cy="51.7" r="1.15"/><circle cx="350.5" cy="60.7" r="1.15"/><circle cx="350.5" cy="119.2" r="1.15"/><circle cx="350.5" cy="130" r="1.15"/><rect x="345" y="89" width="11.2" height="3"/>
<circle cx="381.8" cy="158.7" r="1.15"/><circle cx="381.8" cy="162" r="1.15"/><circle cx="381.8" cy="168.7" r="1.15"/><circle cx="381.8" cy="172" r="1.15"/><rect x="376.6" y="164" width="11.2" height="3"/>
<circle cx="413.8" cy="96.2" r="1.15"/><circle cx="413.8" cy="111.2" r="1.15"/><circle cx="413.8" cy="132.5" r="1.15"/><circle cx="413.8" cy="144.5" r="1.15"/><rect x="408.2" y="125.2" width="11.2" height="3"/>
<circle cx="445.5" cy="171.2" r="1.15"/><circle cx="445.5" cy="175" r="1.15"/><rect x="439.8" y="172.2" width="11.2" height="3"/>
<circle cx="477" cy="141.2" r="1.15"/><circle cx="477" cy="145" r="1.15"/><circle cx="477" cy="148.7" r="1.15"/><circle cx="477" cy="167.5" r="1.15"/><circle cx="477" cy="170.5" r="1.15"/><circle cx="477" cy="173.7" r="1.15"/><rect x="471.3" y="156.5" width="11.2" height="3"/>
</g>
<path d="M317.5 46.3V42.5H351.2V46.3" fill="none" stroke="#707070" stroke-width="1" stroke-linejoin="round"/><path d="M334.50 36.60L334.50 40.40M332.85 37.55L336.15 39.45M336.15 37.55L332.85 39.45" stroke="#888" stroke-width="0.85" fill="none"/>
<path d="M381.5 90.8V87H414.2V90.8" fill="none" stroke="#707070" stroke-width="1" stroke-linejoin="round"/><path d="M399.50 81.10L399.50 84.90M397.85 82.05L401.15 83.95M401.15 82.05L397.85 83.95" stroke="#888" stroke-width="0.85" fill="none"/>
<path d="M444.3 131.3V127.5H478V131.3" fill="none" stroke="#707070" stroke-width="1" stroke-linejoin="round"/><path d="M462.50 121.60L462.50 125.40M460.85 122.55L464.15 124.45M464.15 122.55L460.85 124.45" stroke="#888" stroke-width="0.85" fill="none"/>
<text x="312.3" y="193.2" font-size="10.2">wt</text><text x="339.3" y="193.2" font-size="10.2" font-style="italic">bim<tspan dy="-2.9" dx="0.3" font-size="10.2" letter-spacing="0.5">-/-</tspan></text>
<text x="378" y="193.2" font-size="10.2">wt</text><text x="404.6" y="193.2" font-size="10.2" font-style="italic">bim<tspan dy="-2.9" dx="0.3" font-size="10.2" letter-spacing="0.5">-/-</tspan></text>
<text x="443.5" y="193.2" font-size="10.2">wt</text><text x="470.2" y="193.2" font-size="10.2" font-style="italic">bim<tspan dy="-2.9" dx="0.3" font-size="10.2" letter-spacing="0.5">-/-</tspan></text>
<path d="M310.5 198.3H367.3M376 198.3H432.5M442.5 198.3H498.8" stroke="#555" stroke-width="0.9"/>
<text x="336.6" y="211.3" font-size="10.2" text-anchor="middle">d7</text><text x="401.2" y="211.3" font-size="10.2" text-anchor="middle">d14</text><text x="467.9" y="211.3" font-size="10.2" text-anchor="middle">d28</text>
</g>
<g id="panelC">
<text x="0.5" y="244.3" font-size="17" font-weight="bold">C</text>
<path d="M35.5 268.8V386.5H242.5" fill="none" stroke="#707070" stroke-width="1"/>
<text x="32.5" y="389.7" font-size="8.6" text-anchor="end">0</text>
<text x="32.5" y="350.6" font-size="8.6" text-anchor="end">50</text>
<text x="32.5" y="311.5" font-size="8.6" text-anchor="end">100</text>
<text x="32.5" y="272.4" font-size="8.6" text-anchor="end">150</text>
<path d="M33.3 386.5h2.5M33.3 347.4h2.5M33.3 308.3h2.5M33.3 269.2h2.5" stroke="#666" stroke-width="0.9"/>
<text transform="translate(14.2,391) rotate(-90)" font-size="10.5">viable NP<tspan dy="-4.6" dx="0.7" font-size="8">+</tspan><tspan dy="4.6" dx="0.7">IgG1</tspan><tspan dy="-4.6" dx="0.7" font-size="8">+</tspan><tspan dy="4.6" dx="0.7">B220</tspan><tspan dy="-4.6" dx="0.7" font-size="8">+</tspan><tspan dy="4.6" dx="0.7">(%)</tspan></text>
<path d="M50.5 308.5V300.6M49.5 300.6h2" stroke="#777" stroke-width="1" fill="none"/><rect x="44.5" y="308.5" width="11.5" height="78" fill="#fff" stroke="#444" stroke-width="0.8"/><path d="M62.5 308V268.8M61.5 268.8h2" stroke="#777" stroke-width="1" fill="none"/><rect x="56" y="308" width="12" height="78.5" fill="#222"/>
<path d="M91.5 369.5V356.5M90.5 356.5h2" stroke="#777" stroke-width="1" fill="none"/><rect x="85.5" y="369.5" width="12" height="17" fill="#fff" stroke="#444" stroke-width="0.8"/><path d="M103.5 345.2V331M102.5 331h2" stroke="#777" stroke-width="1" fill="none"/><rect x="97.5" y="345.2" width="12" height="41.3" fill="#222"/>
<path d="M133.5 383.5V377M132.5 377h2" stroke="#777" stroke-width="1" fill="none"/><rect x="127.5" y="383.5" width="11.8" height="3" fill="#fff" stroke="#444" stroke-width="0.8"/><path d="M145.5 359V345.2M144.5 345.2h2" stroke="#777" stroke-width="1" fill="none"/><rect x="139.3" y="359" width="12" height="27.5" fill="#222"/>
<path d="M186.5 373.2V364M185.5 364h2" stroke="#777" stroke-width="1" fill="none"/><rect x="181" y="373.2" width="11.7" height="13.3" fill="#222"/>
<path d="M227.5 377.2V376M226.5 376h2" stroke="#777" stroke-width="1" fill="none"/><rect x="222" y="377.2" width="11.8" height="9.3" fill="#222"/>
<path d="M91.50 349.40L91.50 353.60M89.68 350.45L93.32 352.55M93.32 350.45L89.68 352.55" stroke="#777" stroke-width="0.85" fill="none"/><path d="M133.00 369.40L133.00 373.60M131.18 370.45L134.82 372.55M134.82 370.45L131.18 372.55" stroke="#777" stroke-width="0.85" fill="none"/>
<text x="163" y="384" font-size="9.3">n.c.</text><text x="205" y="384" font-size="9.3">n.c.</text>
<text x="56" y="399.6" font-size="10.3" text-anchor="middle">0 h</text>
<text x="97.7" y="399.6" font-size="10.3" text-anchor="middle">12 h</text>
<text x="139.5" y="399.6" font-size="10.3" text-anchor="middle">36 h</text>
<text x="180.7" y="399.6" font-size="10.3" text-anchor="middle">60 h</text>
<text x="222" y="399.6" font-size="10.3" text-anchor="middle">84 h</text>
</g>
<g id="panelD">
<text x="257.1" y="242.6" font-size="17" font-weight="bold">D</text>
<text x="360.2" y="249.9" font-size="13">peripheral blood</text>
<path d="M295.5 257.2V384.5H520" fill="none" stroke="#707070" stroke-width="1"/>
<text x="292.5" y="387.3" font-size="8.3" text-anchor="end">0</text>
<text x="292.5" y="355.6" font-size="8.3" text-anchor="end">0.025</text>
<text x="292.5" y="323.8" font-size="8.3" text-anchor="end">0.050</text>
<text x="292.5" y="292.1" font-size="8.3" text-anchor="end">0.075</text>
<text x="292.5" y="260.3" font-size="8.3" text-anchor="end">0.100</text>
<path d="M292.8 384.5h2.7M292.8 352.8h2.7M292.8 321h2.7M292.8 289.2h2.7M292.8 257.5h2.7" stroke="#666" stroke-width="0.9"/>
<text transform="translate(266,378.5) rotate(-90)" font-size="10.2">NP<tspan dy="-4.8" dx="0.6" font-size="7.6">+</tspan><tspan dy="4.8" dx="0.6">IgG1</tspan><tspan dy="-4.8" dx="0.6" font-size="7.6">+</tspan><tspan dy="4.8" dx="0.6">B220</tspan><tspan dy="-4.8" dx="0.6" font-size="7.6">+</tspan><tspan dy="4.8" dx="0.6"> cells (%)</tspan></text>
<g fill="#111">
<circle cx="345.5" cy="360" r="1.0"/><circle cx="345.5" cy="376" r="1.0"/><circle cx="345.5" cy="378" r="1.0"/><circle cx="345.5" cy="380.2" r="1.0"/><rect x="340.6" y="372.2" width="9.8" height="2.3"/>
<circle cx="395" cy="290.6" r="1.0"/><circle cx="395" cy="324" r="1.0"/><circle cx="395" cy="340" r="1.0"/><circle cx="395" cy="365" r="1.0"/><rect x="390.3" y="328.7" width="9.8" height="2.3"/>
<circle cx="445" cy="337.6" r="1.0"/><circle cx="445" cy="348" r="1.0"/><circle cx="445" cy="365" r="1.0"/><circle cx="445" cy="375" r="1.0"/><circle cx="445" cy="384.2" r="1.0"/><rect x="439.9" y="364.4" width="9.8" height="2.3"/>
<circle cx="494.3" cy="271" r="1.0"/><circle cx="494.3" cy="290" r="1.0"/><circle cx="494.3" cy="325" r="1.0"/><circle cx="494.3" cy="359.4" r="1.0"/><circle cx="494.3" cy="366.4" r="1.0"/><circle cx="494.3" cy="378.6" r="1.0"/><rect x="489.6" y="330.7" width="9.8" height="2.3"/>
</g>
<path d="M345.5 283.0V279.6H395.5V283.0" fill="none" stroke="#707070" stroke-width="1" stroke-linejoin="round"/><path d="M370.80 274.20L370.80 278.20M369.07 275.20L372.53 277.20M372.53 275.20L369.07 277.20" stroke="#888" stroke-width="0.85" fill="none"/>
<path d="M444.3 267.1V263.3H494.3V267.1" fill="none" stroke="#707070" stroke-width="1" stroke-linejoin="round"/><path d="M470.00 258.40L470.00 262.40M468.27 259.40L471.73 261.40M471.73 259.40L468.27 261.40" stroke="#888" stroke-width="0.85" fill="none"/>
<text x="339.8" y="400.6" font-size="10.3">wt</text><text x="380.4" y="400.6" font-size="10.3" font-style="italic">bim<tspan dy="-2.9" dx="0.3" font-size="10.3" letter-spacing="0.5">-/-</tspan></text>
<text x="438.1" y="400.6" font-size="10.3">wt</text><text x="480.6" y="400.6" font-size="10.3" font-style="italic">bim<tspan dy="-2.9" dx="0.3" font-size="10.3" letter-spacing="0.5">-/-</tspan></text>
<path d="M337.8 406.4H406M437.8 406.4H507" stroke="#555" stroke-width="0.9"/>
<text x="370" y="419.2" font-size="10.3" text-anchor="middle">d14</text><text x="471.2" y="419.2" font-size="10.3" text-anchor="middle">d28</text>
</g>
</svg>
</body></html>
